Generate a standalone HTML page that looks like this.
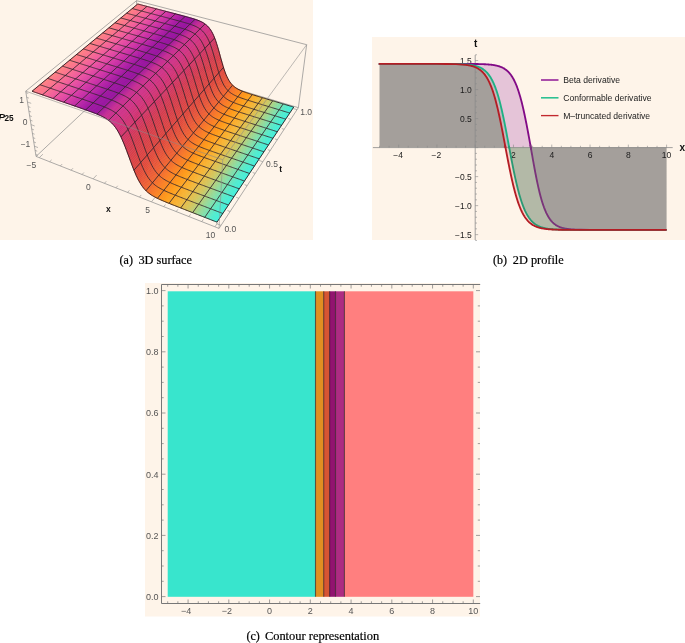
<!DOCTYPE html>
<html><head><meta charset="utf-8"><style>
html,body{margin:0;padding:0;background:#fff;width:685px;height:643px;overflow:hidden}
svg{display:block}
text{will-change:transform}
</style></head><body>
<svg width="685" height="643" viewBox="0 0 685 643">
<rect width="685" height="643" fill="#fff"/>
<rect x="0" y="0" width="313" height="240" fill="#fef4e9"/>
<line x1="36.06" y1="156.40" x2="138.78" y2="59.91" stroke="#8a8a8a" stroke-width="0.7" stroke-opacity="1"/>
<line x1="136.54" y1="0.68" x2="138.78" y2="59.91" stroke="#8a8a8a" stroke-width="0.7" stroke-opacity="1"/>
<line x1="138.78" y1="59.91" x2="298.36" y2="107.66" stroke="#8a8a8a" stroke-width="0.7" stroke-opacity="1"/>
<polygon points="32.05,91.23 32.60,91.42 138.22,4.12 137.73,4.00" fill="#ff7f80" stroke="#ff7f80" stroke-width="0.5"/>
<polygon points="32.60,91.42 33.15,91.61 138.71,4.25 138.22,4.12" fill="#ff7f81" stroke="#ff7f81" stroke-width="0.5"/>
<polygon points="33.15,91.61 33.70,91.80 139.21,4.38 138.71,4.25" fill="#fe7e82" stroke="#fe7e82" stroke-width="0.5"/>
<polygon points="33.70,91.80 34.26,91.99 139.70,4.51 139.21,4.38" fill="#fe7c83" stroke="#fe7c83" stroke-width="0.5"/>
<polygon points="34.26,91.99 34.81,92.18 140.19,4.64 139.70,4.51" fill="#fe7c83" stroke="#fe7c83" stroke-width="0.5"/>
<polygon points="34.81,92.18 35.36,92.37 140.68,4.77 140.19,4.64" fill="#fd7a84" stroke="#fd7a84" stroke-width="0.5"/>
<polygon points="35.36,92.37 35.91,92.57 141.17,4.89 140.68,4.77" fill="#fd7a85" stroke="#fd7a85" stroke-width="0.5"/>
<polygon points="35.91,92.57 36.47,92.76 141.66,5.02 141.17,4.89" fill="#fd7886" stroke="#fd7886" stroke-width="0.5"/>
<polygon points="36.47,92.76 37.02,92.95 142.16,5.15 141.66,5.02" fill="#fc7786" stroke="#fc7786" stroke-width="0.5"/>
<polygon points="37.02,92.95 37.58,93.14 142.65,5.28 142.16,5.15" fill="#fc7687" stroke="#fc7687" stroke-width="0.5"/>
<polygon points="37.58,93.14 38.13,93.33 143.14,5.41 142.65,5.28" fill="#fc7588" stroke="#fc7588" stroke-width="0.5"/>
<polygon points="38.13,93.33 38.69,93.53 143.64,5.54 143.14,5.41" fill="#fb7589" stroke="#fb7589" stroke-width="0.5"/>
<polygon points="38.69,93.53 39.24,93.72 144.13,5.67 143.64,5.54" fill="#fb7489" stroke="#fb7489" stroke-width="0.5"/>
<polygon points="39.24,93.72 39.80,93.91 144.63,5.79 144.13,5.67" fill="#fb728a" stroke="#fb728a" stroke-width="0.5"/>
<polygon points="39.80,93.91 40.36,94.10 145.12,5.92 144.63,5.79" fill="#fa728b" stroke="#fa728b" stroke-width="0.5"/>
<polygon points="40.36,94.10 40.92,94.30 145.62,6.05 145.12,5.92" fill="#fa708c" stroke="#fa708c" stroke-width="0.5"/>
<polygon points="40.92,94.30 41.47,94.49 146.11,6.18 145.62,6.05" fill="#fa6f8c" stroke="#fa6f8c" stroke-width="0.5"/>
<polygon points="41.47,94.49 42.03,94.68 146.61,6.31 146.11,6.18" fill="#f96e8d" stroke="#f96e8d" stroke-width="0.5"/>
<polygon points="42.03,94.68 42.59,94.88 147.11,6.44 146.61,6.31" fill="#f96d8e" stroke="#f96d8e" stroke-width="0.5"/>
<polygon points="42.59,94.88 43.15,95.07 147.60,6.57 147.11,6.44" fill="#f86c8f" stroke="#f86c8f" stroke-width="0.5"/>
<polygon points="43.15,95.07 43.71,95.27 148.10,6.70 147.60,6.57" fill="#f76a90" stroke="#f76a90" stroke-width="0.5"/>
<polygon points="43.71,95.27 44.27,95.46 148.60,6.83 148.10,6.70" fill="#f76991" stroke="#f76991" stroke-width="0.5"/>
<polygon points="44.27,95.46 44.83,95.65 149.09,6.96 148.60,6.83" fill="#f66891" stroke="#f66891" stroke-width="0.5"/>
<polygon points="44.83,95.65 45.39,95.85 149.59,7.09 149.09,6.96" fill="#f66792" stroke="#f66792" stroke-width="0.5"/>
<polygon points="45.39,95.85 45.95,96.04 150.09,7.22 149.59,7.09" fill="#f56593" stroke="#f56593" stroke-width="0.5"/>
<polygon points="45.95,96.04 46.52,96.24 150.59,7.35 150.09,7.22" fill="#f46494" stroke="#f46494" stroke-width="0.5"/>
<polygon points="146.30,190.99 146.91,191.57 233.31,85.88 232.80,85.41" fill="#f26729" stroke="#f26729" stroke-width="0.5"/>
<polygon points="145.68,190.38 146.30,190.99 232.80,85.41 232.29,84.91" fill="#f1652a" stroke="#f1652a" stroke-width="0.5"/>
<polygon points="146.91,191.57 147.53,192.11 233.82,86.33 233.31,85.88" fill="#f26928" stroke="#f26928" stroke-width="0.5"/>
<polygon points="145.06,189.73 145.68,190.38 232.29,84.91 231.79,84.37" fill="#f0632b" stroke="#f0632b" stroke-width="0.5"/>
<polygon points="147.53,192.11 148.14,192.63 234.33,86.75 233.82,86.33" fill="#f36b27" stroke="#f36b27" stroke-width="0.5"/>
<polygon points="144.44,189.05 145.06,189.73 231.79,84.37 231.29,83.79" fill="#ef612c" stroke="#ef612c" stroke-width="0.5"/>
<polygon points="46.52,96.24 47.08,96.43 151.09,7.48 150.59,7.35" fill="#f46395" stroke="#f46395" stroke-width="0.5"/>
<polygon points="148.14,192.63 148.75,193.12 234.84,87.14 234.33,86.75" fill="#f46d26" stroke="#f46d26" stroke-width="0.5"/>
<polygon points="143.82,188.32 144.44,189.05 231.29,83.79 230.79,83.18" fill="#ee5f2d" stroke="#ee5f2d" stroke-width="0.5"/>
<polygon points="148.75,193.12 149.37,193.59 235.35,87.52 234.84,87.14" fill="#f56f25" stroke="#f56f25" stroke-width="0.5"/>
<polygon points="149.37,193.59 149.98,194.04 235.87,87.87 235.35,87.52" fill="#f67124" stroke="#f67124" stroke-width="0.5"/>
<polygon points="143.20,187.55 143.82,188.32 230.79,83.18 230.29,82.53" fill="#ed5d2e" stroke="#ed5d2e" stroke-width="0.5"/>
<polygon points="47.08,96.43 47.64,96.63 151.59,7.61 151.09,7.48" fill="#f36296" stroke="#f36296" stroke-width="0.5"/>
<polygon points="149.98,194.04 150.59,194.46 236.39,88.21 235.87,87.87" fill="#f77323" stroke="#f77323" stroke-width="0.5"/>
<polygon points="142.57,186.74 143.20,187.55 230.29,82.53 229.79,81.83" fill="#ec5b2f" stroke="#ec5b2f" stroke-width="0.5"/>
<polygon points="150.59,194.46 151.20,194.87 236.91,88.53 236.39,88.21" fill="#f87522" stroke="#f87522" stroke-width="0.5"/>
<polygon points="47.64,96.63 48.21,96.82 152.09,7.74 151.59,7.61" fill="#f36096" stroke="#f36096" stroke-width="0.5"/>
<polygon points="141.95,185.87 142.57,186.74 229.79,81.83 229.30,81.09" fill="#eb5930" stroke="#eb5930" stroke-width="0.5"/>
<polygon points="151.20,194.87 151.81,195.27 237.42,88.83 236.91,88.53" fill="#f87722" stroke="#f87722" stroke-width="0.5"/>
<polygon points="151.81,195.27 152.42,195.64 237.95,89.12 237.42,88.83" fill="#f97921" stroke="#f97921" stroke-width="0.5"/>
<polygon points="141.32,184.94 141.95,185.87 229.30,81.09 228.81,80.29" fill="#ea5831" stroke="#ea5831" stroke-width="0.5"/>
<polygon points="48.21,96.82 48.77,97.02 152.59,7.87 152.09,7.74" fill="#f25f97" stroke="#f25f97" stroke-width="0.5"/>
<polygon points="152.42,195.64 153.04,196.01 238.47,89.40 237.95,89.12" fill="#f97a20" stroke="#f97a20" stroke-width="0.5"/>
<polygon points="153.04,196.01 153.65,196.36 238.99,89.67 238.47,89.40" fill="#f97c20" stroke="#f97c20" stroke-width="0.5"/>
<polygon points="140.68,183.96 141.32,184.94 228.81,80.29 228.32,79.45" fill="#e95632" stroke="#e95632" stroke-width="0.5"/>
<polygon points="48.77,97.02 49.33,97.21 153.09,8.00 152.59,7.87" fill="#f25e98" stroke="#f25e98" stroke-width="0.5"/>
<polygon points="153.65,196.36 154.26,196.70 239.51,89.92 238.99,89.67" fill="#fa7e1f" stroke="#fa7e1f" stroke-width="0.5"/>
<polygon points="49.33,97.21 49.90,97.41 153.59,8.13 153.09,8.00" fill="#f15d99" stroke="#f15d99" stroke-width="0.5"/>
<polygon points="140.05,182.92 140.68,183.96 228.32,79.45 227.83,78.54" fill="#e85433" stroke="#e85433" stroke-width="0.5"/>
<polygon points="154.26,196.70 154.87,197.04 240.04,90.17 239.51,89.92" fill="#fa7f1e" stroke="#fa7f1e" stroke-width="0.5"/>
<polygon points="49.90,97.41 50.46,97.60 154.09,8.26 153.59,8.13" fill="#f05b9a" stroke="#f05b9a" stroke-width="0.5"/>
<polygon points="154.87,197.04 155.48,197.36 240.56,90.41 240.04,90.17" fill="#fa811d" stroke="#fa811d" stroke-width="0.5"/>
<polygon points="139.41,181.82 140.05,182.92 227.83,78.54 227.35,77.59" fill="#e75234" stroke="#e75234" stroke-width="0.5"/>
<polygon points="155.48,197.36 156.09,197.67 241.09,90.64 240.56,90.41" fill="#fb831d" stroke="#fb831d" stroke-width="0.5"/>
<polygon points="50.46,97.60 51.03,97.80 154.59,8.39 154.09,8.26" fill="#f05a9b" stroke="#f05a9b" stroke-width="0.5"/>
<polygon points="156.09,197.67 156.70,197.98 241.62,90.86 241.09,90.64" fill="#fb841c" stroke="#fb841c" stroke-width="0.5"/>
<polygon points="51.03,97.80 51.60,98.00 155.09,8.52 154.59,8.39" fill="#ef599b" stroke="#ef599b" stroke-width="0.5"/>
<polygon points="138.76,180.66 139.41,181.82 227.35,77.59 226.87,76.57" fill="#e65135" stroke="#e65135" stroke-width="0.5"/>
<polygon points="156.70,197.98 157.31,198.28 242.14,91.08 241.62,90.86" fill="#fb861b" stroke="#fb861b" stroke-width="0.5"/>
<polygon points="51.60,98.00 52.16,98.19 155.60,8.66 155.09,8.52" fill="#ef589c" stroke="#ef589c" stroke-width="0.5"/>
<polygon points="157.31,198.28 157.93,198.58 242.67,91.29 242.14,91.08" fill="#fc881b" stroke="#fc881b" stroke-width="0.5"/>
<polygon points="138.12,179.43 138.76,180.66 226.87,76.57 226.39,75.49" fill="#e44f36" stroke="#e44f36" stroke-width="0.5"/>
<polygon points="52.16,98.19 52.73,98.39 156.10,8.79 155.60,8.66" fill="#ee569d" stroke="#ee569d" stroke-width="0.5"/>
<polygon points="157.93,198.58 158.54,198.87 243.20,91.50 242.67,91.29" fill="#fc8a1a" stroke="#fc8a1a" stroke-width="0.5"/>
<polygon points="158.54,198.87 159.15,199.15 243.73,91.70 243.20,91.50" fill="#fc8b19" stroke="#fc8b19" stroke-width="0.5"/>
<polygon points="52.73,98.39 53.30,98.59 156.60,8.92 156.10,8.79" fill="#ed559e" stroke="#ed559e" stroke-width="0.5"/>
<polygon points="137.47,178.13 138.12,179.43 226.39,75.49 225.92,74.35" fill="#e34e37" stroke="#e34e37" stroke-width="0.5"/>
<polygon points="159.15,199.15 159.76,199.43 244.26,91.90 243.73,91.70" fill="#fd8d19" stroke="#fd8d19" stroke-width="0.5"/>
<polygon points="53.30,98.59 53.87,98.78 157.10,9.05 156.60,8.92" fill="#ed549f" stroke="#ed549f" stroke-width="0.5"/>
<polygon points="159.76,199.43 160.38,199.71 244.79,92.09 244.26,91.90" fill="#fd8f18" stroke="#fd8f18" stroke-width="0.5"/>
<polygon points="53.87,98.78 54.44,98.98 157.61,9.18 157.10,9.05" fill="#ec53a0" stroke="#ec53a0" stroke-width="0.5"/>
<polygon points="160.38,199.71 160.99,199.98 245.32,92.28 244.79,92.09" fill="#fd9017" stroke="#fd9017" stroke-width="0.5"/>
<polygon points="136.81,176.76 137.47,178.13 225.92,74.35 225.45,73.15" fill="#e24c38" stroke="#e24c38" stroke-width="0.5"/>
<polygon points="54.44,98.98 55.01,99.18 158.11,9.31 157.61,9.18" fill="#eb51a0" stroke="#eb51a0" stroke-width="0.5"/>
<polygon points="160.99,199.98 161.61,200.25 245.85,92.47 245.32,92.28" fill="#fe9216" stroke="#fe9216" stroke-width="0.5"/>
<polygon points="55.01,99.18 55.57,99.37 158.61,9.44 158.11,9.31" fill="#ea50a0" stroke="#ea50a0" stroke-width="0.5"/>
<polygon points="161.61,200.25 162.22,200.52 246.39,92.66 245.85,92.47" fill="#fe9416" stroke="#fe9416" stroke-width="0.5"/>
<polygon points="55.57,99.37 56.14,99.57 159.12,9.57 158.61,9.44" fill="#e94fa0" stroke="#e94fa0" stroke-width="0.5"/>
<polygon points="136.15,175.33 136.81,176.76 225.45,73.15 224.97,71.88" fill="#e14a3a" stroke="#e14a3a" stroke-width="0.5"/>
<polygon points="162.22,200.52 162.84,200.78 246.92,92.84 246.39,92.66" fill="#fe9515" stroke="#fe9515" stroke-width="0.5"/>
<polygon points="56.14,99.57 56.72,99.77 159.62,9.71 159.12,9.57" fill="#e84da1" stroke="#e84da1" stroke-width="0.5"/>
<polygon points="162.84,200.78 163.45,201.04 247.45,93.02 246.92,92.84" fill="#ff9714" stroke="#ff9714" stroke-width="0.5"/>
<polygon points="56.72,99.77 57.29,99.97 160.13,9.84 159.62,9.71" fill="#e74ca1" stroke="#e74ca1" stroke-width="0.5"/>
<polygon points="163.45,201.04 164.07,201.30 247.99,93.20 247.45,93.02" fill="#ff9915" stroke="#ff9915" stroke-width="0.5"/>
<polygon points="135.49,173.83 136.15,175.33 224.97,71.88 224.51,70.56" fill="#e0483a" stroke="#e0483a" stroke-width="0.5"/>
<polygon points="57.29,99.97 57.86,100.17 160.64,9.97 160.13,9.84" fill="#e54ba1" stroke="#e54ba1" stroke-width="0.5"/>
<polygon points="164.07,201.30 164.68,201.56 248.52,93.38 247.99,93.20" fill="#fe9a16" stroke="#fe9a16" stroke-width="0.5"/>
<polygon points="57.86,100.17 58.43,100.36 161.14,10.10 160.64,9.97" fill="#e44aa1" stroke="#e44aa1" stroke-width="0.5"/>
<polygon points="164.68,201.56 165.30,201.82 249.06,93.55 248.52,93.38" fill="#fe9c18" stroke="#fe9c18" stroke-width="0.5"/>
<polygon points="58.43,100.36 59.00,100.56 161.65,10.23 161.14,10.10" fill="#e348a1" stroke="#e348a1" stroke-width="0.5"/>
<polygon points="134.82,172.26 135.49,173.83 224.51,70.56 224.04,69.18" fill="#df473b" stroke="#df473b" stroke-width="0.5"/>
<polygon points="165.30,201.82 165.92,202.08 249.59,93.73 249.06,93.55" fill="#fe9d19" stroke="#fe9d19" stroke-width="0.5"/>
<polygon points="59.00,100.56 59.58,100.76 162.15,10.37 161.65,10.23" fill="#e247a2" stroke="#e247a2" stroke-width="0.5"/>
<polygon points="165.92,202.08 166.54,202.33 250.13,93.90 249.59,93.73" fill="#fd9e1b" stroke="#fd9e1b" stroke-width="0.5"/>
<polygon points="59.58,100.76 60.15,100.96 162.66,10.50 162.15,10.37" fill="#e146a2" stroke="#e146a2" stroke-width="0.5"/>
<polygon points="166.54,202.33 167.15,202.58 250.66,94.07 250.13,93.90" fill="#fda01c" stroke="#fda01c" stroke-width="0.5"/>
<polygon points="134.15,170.63 134.82,172.26 224.04,69.18 223.58,67.74" fill="#de463d" stroke="#de463d" stroke-width="0.5"/>
<polygon points="60.15,100.96 60.72,101.16 163.17,10.63 162.66,10.50" fill="#df44a2" stroke="#df44a2" stroke-width="0.5"/>
<polygon points="167.15,202.58 167.77,202.83 251.20,94.25 250.66,94.07" fill="#fca11e" stroke="#fca11e" stroke-width="0.5"/>
<polygon points="167.77,202.83 168.39,203.09 251.74,94.42 251.20,94.25" fill="#fca31f" stroke="#fca31f" stroke-width="0.5"/>
<polygon points="60.72,101.16 61.30,101.36 163.68,10.76 163.17,10.63" fill="#de43a2" stroke="#de43a2" stroke-width="0.5"/>
<polygon points="168.39,203.09 169.01,203.34 252.28,94.59 251.74,94.42" fill="#fca421" stroke="#fca421" stroke-width="0.5"/>
<polygon points="61.30,101.36 61.87,101.56 164.18,10.90 163.68,10.76" fill="#dd42a2" stroke="#dd42a2" stroke-width="0.5"/>
<polygon points="133.48,168.95 134.15,170.63 223.58,67.74 223.11,66.25" fill="#dc453e" stroke="#dc453e" stroke-width="0.5"/>
<polygon points="169.01,203.34 169.63,203.59 252.81,94.75 252.28,94.59" fill="#fba522" stroke="#fba522" stroke-width="0.5"/>
<polygon points="61.87,101.56 62.45,101.76 164.69,11.03 164.18,10.90" fill="#dc40a3" stroke="#dc40a3" stroke-width="0.5"/>
<polygon points="169.63,203.59 170.25,203.84 253.35,94.92 252.81,94.75" fill="#fba724" stroke="#fba724" stroke-width="0.5"/>
<polygon points="62.45,101.76 63.02,101.95 165.20,11.16 164.69,11.03" fill="#db3fa3" stroke="#db3fa3" stroke-width="0.5"/>
<polygon points="170.25,203.84 170.88,204.08 253.89,95.09 253.35,94.92" fill="#faa825" stroke="#faa825" stroke-width="0.5"/>
<polygon points="63.02,101.95 63.60,102.15 165.71,11.29 165.20,11.16" fill="#da3ea3" stroke="#da3ea3" stroke-width="0.5"/>
<polygon points="132.80,167.21 133.48,168.95 223.11,66.25 222.65,64.71" fill="#dc4440" stroke="#dc4440" stroke-width="0.5"/>
<polygon points="170.88,204.08 171.50,204.33 254.43,95.26 253.89,95.09" fill="#faaa27" stroke="#faaa27" stroke-width="0.5"/>
<polygon points="63.60,102.15 64.18,102.35 166.22,11.43 165.71,11.29" fill="#d83ca3" stroke="#d83ca3" stroke-width="0.5"/>
<polygon points="171.50,204.33 172.12,204.58 254.97,95.42 254.43,95.26" fill="#faab28" stroke="#faab28" stroke-width="0.5"/>
<polygon points="64.18,102.35 64.75,102.55 166.73,11.56 166.22,11.43" fill="#d73ba3" stroke="#d73ba3" stroke-width="0.5"/>
<polygon points="172.12,204.58 172.74,204.83 255.51,95.59 254.97,95.42" fill="#f9ac2a" stroke="#f9ac2a" stroke-width="0.5"/>
<polygon points="64.75,102.55 65.33,102.75 167.24,11.69 166.73,11.56" fill="#d63aa4" stroke="#d63aa4" stroke-width="0.5"/>
<polygon points="172.74,204.83 173.37,205.08 256.05,95.76 255.51,95.59" fill="#f9ae2b" stroke="#f9ae2b" stroke-width="0.5"/>
<polygon points="65.33,102.75 65.91,102.96 167.75,11.83 167.24,11.69" fill="#d538a4" stroke="#d538a4" stroke-width="0.5"/>
<polygon points="132.11,165.42 132.80,167.21 222.65,64.71 222.19,63.12" fill="#da4241" stroke="#da4241" stroke-width="0.5"/>
<polygon points="173.37,205.08 173.99,205.32 256.59,95.92 256.05,95.76" fill="#f8af2d" stroke="#f8af2d" stroke-width="0.5"/>
<polygon points="65.91,102.96 66.49,103.16 168.26,11.96 167.75,11.83" fill="#d437a4" stroke="#d437a4" stroke-width="0.5"/>
<polygon points="173.99,205.32 174.61,205.57 257.13,96.09 256.59,95.92" fill="#f8b12e" stroke="#f8b12e" stroke-width="0.5"/>
<polygon points="66.49,103.16 67.07,103.36 168.77,12.09 168.26,11.96" fill="#d236a4" stroke="#d236a4" stroke-width="0.5"/>
<polygon points="174.61,205.57 175.24,205.82 257.68,96.25 257.13,96.09" fill="#f8b230" stroke="#f8b230" stroke-width="0.5"/>
<polygon points="67.07,103.36 67.65,103.56 169.28,12.23 168.77,12.09" fill="#d135a4" stroke="#d135a4" stroke-width="0.5"/>
<polygon points="131.42,163.60 132.11,165.42 222.19,63.12 221.73,61.50" fill="#da4243" stroke="#da4243" stroke-width="0.5"/>
<polygon points="175.24,205.82 175.87,206.06 258.22,96.42 257.68,96.25" fill="#f7b331" stroke="#f7b331" stroke-width="0.5"/>
<polygon points="67.65,103.56 68.23,103.76 169.80,12.36 169.28,12.23" fill="#d033a5" stroke="#d033a5" stroke-width="0.5"/>
<polygon points="175.87,206.06 176.49,206.31 258.76,96.58 258.22,96.42" fill="#f6b433" stroke="#f6b433" stroke-width="0.5"/>
<polygon points="68.23,103.76 68.81,103.96 170.31,12.49 169.80,12.36" fill="#cf32a5" stroke="#cf32a5" stroke-width="0.5"/>
<polygon points="176.49,206.31 177.12,206.56 259.30,96.75 258.76,96.58" fill="#f4b535" stroke="#f4b535" stroke-width="0.5"/>
<polygon points="68.81,103.96 69.39,104.16 170.82,12.63 170.31,12.49" fill="#ce31a5" stroke="#ce31a5" stroke-width="0.5"/>
<polygon points="130.73,161.74 131.42,163.60 221.73,61.50 221.27,59.85" fill="#d84144" stroke="#d84144" stroke-width="0.5"/>
<polygon points="177.12,206.56 177.74,206.80 259.85,96.91 259.30,96.75" fill="#f2b638" stroke="#f2b638" stroke-width="0.5"/>
<polygon points="69.39,104.16 69.97,104.36 171.33,12.76 170.82,12.63" fill="#cc2fa5" stroke="#cc2fa5" stroke-width="0.5"/>
<polygon points="177.74,206.80 178.37,207.05 260.39,97.08 259.85,96.91" fill="#f0b73a" stroke="#f0b73a" stroke-width="0.5"/>
<polygon points="69.97,104.36 70.56,104.57 171.85,12.90 171.33,12.76" fill="#ca2ea5" stroke="#ca2ea5" stroke-width="0.5"/>
<polygon points="178.37,207.05 179.00,207.30 260.94,97.24 260.39,97.08" fill="#eeb83c" stroke="#eeb83c" stroke-width="0.5"/>
<polygon points="70.56,104.57 71.14,104.77 172.36,13.03 171.85,12.90" fill="#c92da5" stroke="#c92da5" stroke-width="0.5"/>
<polygon points="179.00,207.30 179.63,207.54 261.48,97.41 260.94,97.24" fill="#ecb93e" stroke="#ecb93e" stroke-width="0.5"/>
<polygon points="71.14,104.77 71.72,104.97 172.87,13.17 172.36,13.03" fill="#c72ca5" stroke="#c72ca5" stroke-width="0.5"/>
<polygon points="130.04,159.85 130.73,161.74 221.27,59.85 220.81,58.18" fill="#d84046" stroke="#d84046" stroke-width="0.5"/>
<polygon points="179.63,207.54 180.26,207.79 262.02,97.57 261.48,97.41" fill="#eaba41" stroke="#eaba41" stroke-width="0.5"/>
<polygon points="71.72,104.97 72.31,105.17 173.39,13.30 172.87,13.17" fill="#c52ba5" stroke="#c52ba5" stroke-width="0.5"/>
<polygon points="180.26,207.79 180.89,208.04 262.57,97.74 262.02,97.57" fill="#e8bb43" stroke="#e8bb43" stroke-width="0.5"/>
<polygon points="72.31,105.17 72.89,105.38 173.90,13.44 173.39,13.30" fill="#c42aa5" stroke="#c42aa5" stroke-width="0.5"/>
<polygon points="180.89,208.04 181.52,208.28 263.12,97.90 262.57,97.74" fill="#e6bc45" stroke="#e6bc45" stroke-width="0.5"/>
<polygon points="72.89,105.38 73.47,105.58 174.42,13.57 173.90,13.44" fill="#c229a5" stroke="#c229a5" stroke-width="0.5"/>
<polygon points="129.34,157.95 130.04,159.85 220.81,58.18 220.35,56.49" fill="#d63e47" stroke="#d63e47" stroke-width="0.5"/>
<polygon points="181.52,208.28 182.15,208.53 263.66,98.06 263.12,97.90" fill="#e4bd47" stroke="#e4bd47" stroke-width="0.5"/>
<polygon points="73.47,105.58 74.06,105.78 174.93,13.71 174.42,13.57" fill="#c028a5" stroke="#c028a5" stroke-width="0.5"/>
<polygon points="182.15,208.53 182.78,208.78 264.21,98.23 263.66,98.06" fill="#e3bd4a" stroke="#e3bd4a" stroke-width="0.5"/>
<polygon points="74.06,105.78 74.65,105.99 175.45,13.84 174.93,13.71" fill="#bf26a5" stroke="#bf26a5" stroke-width="0.5"/>
<polygon points="182.78,208.78 183.41,209.02 264.75,98.39 264.21,98.23" fill="#e1be4c" stroke="#e1be4c" stroke-width="0.5"/>
<polygon points="74.65,105.99 75.23,106.19 175.97,13.98 175.45,13.84" fill="#bd25a5" stroke="#bd25a5" stroke-width="0.5"/>
<polygon points="183.41,209.02 184.04,209.27 265.30,98.56 264.75,98.39" fill="#dfbf4e" stroke="#dfbf4e" stroke-width="0.5"/>
<polygon points="75.23,106.19 75.82,106.39 176.48,14.11 175.97,13.98" fill="#bb24a5" stroke="#bb24a5" stroke-width="0.5"/>
<polygon points="128.64,156.04 129.34,157.95 220.35,56.49 219.89,54.80" fill="#d63e49" stroke="#d63e49" stroke-width="0.5"/>
<polygon points="184.04,209.27 184.68,209.52 265.85,98.72 265.30,98.56" fill="#ddc050" stroke="#ddc050" stroke-width="0.5"/>
<polygon points="75.82,106.39 76.41,106.60 177.00,14.25 176.48,14.11" fill="#ba23a5" stroke="#ba23a5" stroke-width="0.5"/>
<polygon points="184.68,209.52 185.31,209.77 266.40,98.89 265.85,98.72" fill="#dbc153" stroke="#dbc153" stroke-width="0.5"/>
<polygon points="76.41,106.60 76.99,106.80 177.52,14.38 177.00,14.25" fill="#b822a5" stroke="#b822a5" stroke-width="0.5"/>
<polygon points="185.31,209.77 185.95,210.02 266.95,99.05 266.40,98.89" fill="#d9c255" stroke="#d9c255" stroke-width="0.5"/>
<polygon points="76.99,106.80 77.58,107.01 178.03,14.52 177.52,14.38" fill="#b621a5" stroke="#b621a5" stroke-width="0.5"/>
<polygon points="127.94,154.13 128.64,156.04 219.89,54.80 219.42,53.11" fill="#d43d4a" stroke="#d43d4a" stroke-width="0.5"/>
<polygon points="185.95,210.02 186.58,210.26 267.50,99.22 266.95,99.05" fill="#d7c357" stroke="#d7c357" stroke-width="0.5"/>
<polygon points="77.58,107.01 78.17,107.21 178.55,14.66 178.03,14.52" fill="#b520a5" stroke="#b520a5" stroke-width="0.5"/>
<polygon points="186.58,210.26 187.21,210.51 268.04,99.38 267.50,99.22" fill="#d5c459" stroke="#d5c459" stroke-width="0.5"/>
<polygon points="78.17,107.21 78.76,107.42 179.07,14.79 178.55,14.66" fill="#b31fa5" stroke="#b31fa5" stroke-width="0.5"/>
<polygon points="187.21,210.51 187.85,210.76 268.59,99.55 268.04,99.38" fill="#d3c55c" stroke="#d3c55c" stroke-width="0.5"/>
<polygon points="78.76,107.42 79.35,107.62 179.59,14.93 179.07,14.79" fill="#b11da5" stroke="#b11da5" stroke-width="0.5"/>
<polygon points="187.85,210.76 188.49,211.01 269.14,99.71 268.59,99.55" fill="#d1c65e" stroke="#d1c65e" stroke-width="0.5"/>
<polygon points="79.35,107.62 79.94,107.83 180.11,15.07 179.59,14.93" fill="#af1ca4" stroke="#af1ca4" stroke-width="0.5"/>
<polygon points="127.24,152.23 127.94,154.13 219.42,53.11 218.96,51.44" fill="#d43c4c" stroke="#d43c4c" stroke-width="0.5"/>
<polygon points="188.49,211.01 189.12,211.26 269.69,99.88 269.14,99.71" fill="#cec761" stroke="#cec761" stroke-width="0.5"/>
<polygon points="79.94,107.83 80.53,108.04 180.63,15.20 180.11,15.07" fill="#ad1ca4" stroke="#ad1ca4" stroke-width="0.5"/>
<polygon points="189.12,211.26 189.76,211.51 270.24,100.04 269.69,99.88" fill="#cac864" stroke="#cac864" stroke-width="0.5"/>
<polygon points="80.53,108.04 81.12,108.24 181.15,15.34 180.63,15.20" fill="#ac1aa4" stroke="#ac1aa4" stroke-width="0.5"/>
<polygon points="189.76,211.51 190.40,211.75 270.80,100.21 270.24,100.04" fill="#c7c968" stroke="#c7c968" stroke-width="0.5"/>
<polygon points="81.12,108.24 81.71,108.45 181.67,15.48 181.15,15.34" fill="#aa19a3" stroke="#aa19a3" stroke-width="0.5"/>
<polygon points="126.54,150.35 127.24,152.23 218.96,51.44 218.49,49.78" fill="#d23b4d" stroke="#d23b4d" stroke-width="0.5"/>
<polygon points="190.40,211.75 191.04,212.00 271.35,100.37 270.80,100.21" fill="#c3ca6c" stroke="#c3ca6c" stroke-width="0.5"/>
<polygon points="81.71,108.45 82.31,108.66 182.19,15.62 181.67,15.48" fill="#a818a3" stroke="#a818a3" stroke-width="0.5"/>
<polygon points="191.04,212.00 191.68,212.25 271.90,100.54 271.35,100.37" fill="#bfcc6f" stroke="#bfcc6f" stroke-width="0.5"/>
<polygon points="82.31,108.66 82.90,108.87 182.71,15.76 182.19,15.62" fill="#a617a2" stroke="#a617a2" stroke-width="0.5"/>
<polygon points="191.68,212.25 192.31,212.50 272.45,100.71 271.90,100.54" fill="#bbcd73" stroke="#bbcd73" stroke-width="0.5"/>
<polygon points="82.90,108.87 83.49,109.08 183.23,15.90 182.71,15.76" fill="#a416a2" stroke="#a416a2" stroke-width="0.5"/>
<polygon points="192.31,212.50 192.95,212.75 273.00,100.87 272.45,100.71" fill="#b7ce76" stroke="#b7ce76" stroke-width="0.5"/>
<polygon points="83.49,109.08 84.09,109.29 183.75,16.04 183.23,15.90" fill="#a216a1" stroke="#a216a1" stroke-width="0.5"/>
<polygon points="125.84,148.50 126.54,150.35 218.49,49.78 218.02,48.14" fill="#d23a50" stroke="#d23a50" stroke-width="0.5"/>
<polygon points="192.95,212.75 193.60,213.00 273.56,101.04 273.00,100.87" fill="#b4cf7a" stroke="#b4cf7a" stroke-width="0.5"/>
<polygon points="84.09,109.29 84.68,109.50 184.27,16.18 183.75,16.04" fill="#a114a1" stroke="#a114a1" stroke-width="0.5"/>
<polygon points="193.60,213.00 194.24,213.25 274.11,101.20 273.56,101.04" fill="#b0d07e" stroke="#b0d07e" stroke-width="0.5"/>
<polygon points="84.68,109.50 85.28,109.71 184.79,16.32 184.27,16.18" fill="#9f13a1" stroke="#9f13a1" stroke-width="0.5"/>
<polygon points="194.24,213.25 194.88,213.50 274.66,101.37 274.11,101.20" fill="#acd281" stroke="#acd281" stroke-width="0.5"/>
<polygon points="85.28,109.71 85.87,109.92 185.32,16.46 184.79,16.32" fill="#9d12a0" stroke="#9d12a0" stroke-width="0.5"/>
<polygon points="125.13,146.69 125.84,148.50 218.02,48.14 217.55,46.55" fill="#d23953" stroke="#d23953" stroke-width="0.5"/>
<polygon points="194.88,213.50 195.52,213.75 275.22,101.54 274.66,101.37" fill="#a8d385" stroke="#a8d385" stroke-width="0.5"/>
<polygon points="85.87,109.92 86.47,110.13 185.84,16.60 185.32,16.46" fill="#9c12a0" stroke="#9c12a0" stroke-width="0.5"/>
<polygon points="195.52,213.75 196.16,214.00 275.77,101.70 275.22,101.54" fill="#a5d489" stroke="#a5d489" stroke-width="0.5"/>
<polygon points="86.47,110.13 87.07,110.35 186.36,16.74 185.84,16.60" fill="#9b12a0" stroke="#9b12a0" stroke-width="0.5"/>
<polygon points="196.16,214.00 196.81,214.26 276.33,101.87 275.77,101.70" fill="#a1d58c" stroke="#a1d58c" stroke-width="0.5"/>
<polygon points="87.07,110.35 87.66,110.56 186.89,16.89 186.36,16.74" fill="#9b11a0" stroke="#9b11a0" stroke-width="0.5"/>
<polygon points="124.43,144.92 125.13,146.69 217.55,46.55 217.07,44.99" fill="#d23856" stroke="#d23856" stroke-width="0.5"/>
<polygon points="196.81,214.26 197.45,214.51 276.88,102.03 276.33,101.87" fill="#9dd790" stroke="#9dd790" stroke-width="0.5"/>
<polygon points="87.66,110.56 88.26,110.78 187.41,17.03 186.89,16.89" fill="#9a119f" stroke="#9a119f" stroke-width="0.5"/>
<polygon points="197.45,214.51 198.09,214.76 277.44,102.20 276.88,102.03" fill="#99d893" stroke="#99d893" stroke-width="0.5"/>
<polygon points="88.26,110.78 88.86,110.99 187.94,17.17 187.41,17.03" fill="#9a119f" stroke="#9a119f" stroke-width="0.5"/>
<polygon points="198.09,214.76 198.74,215.01 278.00,102.37 277.44,102.20" fill="#95d997" stroke="#95d997" stroke-width="0.5"/>
<polygon points="88.86,110.99 89.46,111.21 188.46,17.32 187.94,17.17" fill="#99119f" stroke="#99119f" stroke-width="0.5"/>
<polygon points="123.73,143.20 124.43,144.92 217.07,44.99 216.59,43.48" fill="#d13659" stroke="#d13659" stroke-width="0.5"/>
<polygon points="198.74,215.01 199.38,215.26 278.55,102.53 278.00,102.37" fill="#92da9b" stroke="#92da9b" stroke-width="0.5"/>
<polygon points="89.46,111.21 90.06,111.43 188.99,17.47 188.46,17.32" fill="#99109f" stroke="#99109f" stroke-width="0.5"/>
<polygon points="90.06,111.43 90.66,111.65 189.51,17.62 188.99,17.47" fill="#98109f" stroke="#98109f" stroke-width="0.5"/>
<polygon points="199.38,215.26 200.03,215.51 279.11,102.70 278.55,102.53" fill="#8edb9e" stroke="#8edb9e" stroke-width="0.5"/>
<polygon points="90.66,111.65 91.26,111.87 190.04,17.77 189.51,17.62" fill="#98109e" stroke="#98109e" stroke-width="0.5"/>
<polygon points="200.03,215.51 200.68,215.77 279.67,102.87 279.11,102.70" fill="#8adca1" stroke="#8adca1" stroke-width="0.5"/>
<polygon points="123.04,141.54 123.73,143.20 216.59,43.48 216.11,42.02" fill="#d1365c" stroke="#d1365c" stroke-width="0.5"/>
<polygon points="91.26,111.87 91.86,112.09 190.56,17.92 190.04,17.77" fill="#97109e" stroke="#97109e" stroke-width="0.5"/>
<polygon points="200.68,215.77 201.32,216.02 280.22,103.04 279.67,102.87" fill="#86dda4" stroke="#86dda4" stroke-width="0.5"/>
<polygon points="91.86,112.09 92.46,112.32 191.09,18.07 190.56,17.92" fill="#970f9e" stroke="#970f9e" stroke-width="0.5"/>
<polygon points="201.32,216.02 201.97,216.27 280.78,103.20 280.22,103.04" fill="#83dea7" stroke="#83dea7" stroke-width="0.5"/>
<polygon points="92.46,112.32 93.07,112.55 191.62,18.23 191.09,18.07" fill="#960f9e" stroke="#960f9e" stroke-width="0.5"/>
<polygon points="201.97,216.27 202.62,216.52 281.34,103.37 280.78,103.20" fill="#7fdfaa" stroke="#7fdfaa" stroke-width="0.5"/>
<polygon points="122.34,139.94 123.04,141.54 216.11,42.02 215.63,40.62" fill="#d13560" stroke="#d13560" stroke-width="0.5"/>
<polygon points="93.07,112.55 93.67,112.78 192.14,18.38 191.62,18.23" fill="#960f9e" stroke="#960f9e" stroke-width="0.5"/>
<polygon points="202.62,216.52 203.27,216.78 281.90,103.54 281.34,103.37" fill="#7be0ad" stroke="#7be0ad" stroke-width="0.5"/>
<polygon points="93.67,112.78 94.27,113.01 192.67,18.54 192.14,18.38" fill="#950f9d" stroke="#950f9d" stroke-width="0.5"/>
<polygon points="203.27,216.78 203.92,217.03 282.46,103.71 281.90,103.54" fill="#77e1af" stroke="#77e1af" stroke-width="0.5"/>
<polygon points="121.65,138.40 122.34,139.94 215.63,40.62 215.14,39.28" fill="#d13463" stroke="#d13463" stroke-width="0.5"/>
<polygon points="94.27,113.01 94.88,113.24 193.20,18.70 192.67,18.54" fill="#950e9d" stroke="#950e9d" stroke-width="0.5"/>
<polygon points="203.92,217.03 204.57,217.28 283.02,103.87 282.46,103.71" fill="#74e2b2" stroke="#74e2b2" stroke-width="0.5"/>
<polygon points="94.88,113.24 95.49,113.48 193.73,18.87 193.20,18.70" fill="#940e9d" stroke="#940e9d" stroke-width="0.5"/>
<polygon points="204.57,217.28 205.22,217.54 283.58,104.04 283.02,103.87" fill="#70e3b5" stroke="#70e3b5" stroke-width="0.5"/>
<polygon points="95.49,113.48 96.09,113.72 194.25,19.04 193.73,18.87" fill="#960f9d" stroke="#960f9d" stroke-width="0.5"/>
<polygon points="120.96,136.93 121.65,138.40 215.14,39.28 214.65,37.99" fill="#d03366" stroke="#d03366" stroke-width="0.5"/>
<polygon points="205.22,217.54 205.87,217.79 284.14,104.21 283.58,104.04" fill="#6ce4b8" stroke="#6ce4b8" stroke-width="0.5"/>
<polygon points="96.09,113.72 96.70,113.97 194.78,19.21 194.25,19.04" fill="#99119c" stroke="#99119c" stroke-width="0.5"/>
<polygon points="205.87,217.79 206.52,218.05 284.70,104.38 284.14,104.21" fill="#68e5bb" stroke="#68e5bb" stroke-width="0.5"/>
<polygon points="96.70,113.97 97.31,114.22 195.31,19.38 194.78,19.21" fill="#9d139b" stroke="#9d139b" stroke-width="0.5"/>
<polygon points="206.52,218.05 207.17,218.30 285.26,104.55 284.70,104.38" fill="#65e6be" stroke="#65e6be" stroke-width="0.5"/>
<polygon points="120.27,135.52 120.96,136.93 214.65,37.99 214.15,36.77" fill="#d03269" stroke="#d03269" stroke-width="0.5"/>
<polygon points="97.31,114.22 97.92,114.47 195.84,19.56 195.31,19.38" fill="#a0159a" stroke="#a0159a" stroke-width="0.5"/>
<polygon points="207.17,218.30 207.83,218.55 285.82,104.71 285.26,104.55" fill="#61e7c0" stroke="#61e7c0" stroke-width="0.5"/>
<polygon points="97.92,114.47 98.53,114.73 196.37,19.74 195.84,19.56" fill="#a31699" stroke="#a31699" stroke-width="0.5"/>
<polygon points="98.53,114.73 99.14,115.00 196.90,19.93 196.37,19.74" fill="#a71898" stroke="#a71898" stroke-width="0.5"/>
<polygon points="207.83,218.55 208.48,218.81 286.38,104.88 285.82,104.71" fill="#5de8c3" stroke="#5de8c3" stroke-width="0.5"/>
<polygon points="119.58,134.19 120.27,135.52 214.15,36.77 213.65,35.61" fill="#d0316c" stroke="#d0316c" stroke-width="0.5"/>
<polygon points="99.14,115.00 99.75,115.27 197.43,20.12 196.90,19.93" fill="#aa1a97" stroke="#aa1a97" stroke-width="0.5"/>
<polygon points="208.48,218.81 209.13,219.06 286.95,105.05 286.38,104.88" fill="#59e9c6" stroke="#59e9c6" stroke-width="0.5"/>
<polygon points="99.75,115.27 100.36,115.55 197.96,20.32 197.43,20.12" fill="#ae1c97" stroke="#ae1c97" stroke-width="0.5"/>
<polygon points="118.90,132.92 119.58,134.19 213.65,35.61 213.15,34.52" fill="#d0306f" stroke="#d0306f" stroke-width="0.5"/>
<polygon points="209.13,219.06 209.79,219.32 287.51,105.22 286.95,105.05" fill="#56eac9" stroke="#56eac9" stroke-width="0.5"/>
<polygon points="100.36,115.55 100.98,115.83 198.49,20.53 197.96,20.32" fill="#b11e96" stroke="#b11e96" stroke-width="0.5"/>
<polygon points="209.79,219.32 210.44,219.58 288.07,105.39 287.51,105.22" fill="#52ebcc" stroke="#52ebcc" stroke-width="0.5"/>
<polygon points="100.98,115.83 101.59,116.13 199.02,20.74 198.49,20.53" fill="#b52095" stroke="#b52095" stroke-width="0.5"/>
<polygon points="118.22,131.72 118.90,132.92 213.15,34.52 212.65,33.48" fill="#d02f71" stroke="#d02f71" stroke-width="0.5"/>
<polygon points="210.44,219.58 211.10,219.83 288.64,105.56 288.07,105.39" fill="#4febce" stroke="#4febce" stroke-width="0.5"/>
<polygon points="101.59,116.13 102.21,116.43 199.55,20.97 199.02,20.74" fill="#b82294" stroke="#b82294" stroke-width="0.5"/>
<polygon points="102.21,116.43 102.82,116.74 200.08,21.20 199.55,20.97" fill="#bb2393" stroke="#bb2393" stroke-width="0.5"/>
<polygon points="117.55,130.58 118.22,131.72 212.65,33.48 212.14,32.51" fill="#d02f73" stroke="#d02f73" stroke-width="0.5"/>
<polygon points="211.10,219.83 211.75,220.09 289.20,105.73 288.64,105.56" fill="#4deccf" stroke="#4deccf" stroke-width="0.5"/>
<polygon points="102.82,116.74 103.44,117.07 200.61,21.44 200.08,21.20" fill="#bf2592" stroke="#bf2592" stroke-width="0.5"/>
<polygon points="211.75,220.09 212.41,220.34 289.77,105.90 289.20,105.73" fill="#4cecd1" stroke="#4cecd1" stroke-width="0.5"/>
<polygon points="116.88,129.51 117.55,130.58 212.14,32.51 211.63,31.59" fill="#cf2f75" stroke="#cf2f75" stroke-width="0.5"/>
<polygon points="103.44,117.07 104.06,117.40 201.14,21.69 200.61,21.44" fill="#c22791" stroke="#c22791" stroke-width="0.5"/>
<polygon points="104.06,117.40 104.68,117.75 201.67,21.95 201.14,21.69" fill="#c42890" stroke="#c42890" stroke-width="0.5"/>
<polygon points="212.41,220.34 213.07,220.60 290.33,106.07 289.77,105.90" fill="#4aedd2" stroke="#4aedd2" stroke-width="0.5"/>
<polygon points="116.21,128.51 116.88,129.51 211.63,31.59 211.12,30.73" fill="#cf2e77" stroke="#cf2e77" stroke-width="0.5"/>
<polygon points="104.68,117.75 105.31,118.12 202.20,22.23 201.67,21.95" fill="#c5288f" stroke="#c5288f" stroke-width="0.5"/>
<polygon points="213.07,220.60 213.72,220.86 290.90,106.23 290.33,106.07" fill="#48edd4" stroke="#48edd4" stroke-width="0.5"/>
<polygon points="105.31,118.12 105.93,118.50 202.73,22.52 202.20,22.23" fill="#c6298e" stroke="#c6298e" stroke-width="0.5"/>
<polygon points="115.55,127.56 116.21,128.51 211.12,30.73 210.61,29.93" fill="#cf2e79" stroke="#cf2e79" stroke-width="0.5"/>
<polygon points="105.93,118.50 106.56,118.89 203.26,22.83 202.73,22.52" fill="#c6298d" stroke="#c6298d" stroke-width="0.5"/>
<polygon points="114.89,126.67 115.55,127.56 210.61,29.93 210.09,29.17" fill="#cf2d7b" stroke="#cf2d7b" stroke-width="0.5"/>
<polygon points="213.72,220.86 214.38,221.11 291.46,106.40 290.90,106.23" fill="#46eed5" stroke="#46eed5" stroke-width="0.5"/>
<polygon points="106.56,118.89 107.18,119.31 203.79,23.15 203.26,22.83" fill="#c7298c" stroke="#c7298c" stroke-width="0.5"/>
<polygon points="114.23,125.83 114.89,126.67 210.09,29.17 209.57,28.47" fill="#ce2d7d" stroke="#ce2d7d" stroke-width="0.5"/>
<polygon points="107.18,119.31 107.81,119.75 204.32,23.50 203.79,23.15" fill="#c82a8b" stroke="#c82a8b" stroke-width="0.5"/>
<polygon points="214.38,221.11 215.04,221.37 292.03,106.57 291.46,106.40" fill="#44eed7" stroke="#44eed7" stroke-width="0.5"/>
<polygon points="107.81,119.75 108.44,120.21 204.85,23.86 204.32,23.50" fill="#c92a8a" stroke="#c92a8a" stroke-width="0.5"/>
<polygon points="113.58,125.04 114.23,125.83 209.57,28.47 209.05,27.81" fill="#ce2d7f" stroke="#ce2d7f" stroke-width="0.5"/>
<polygon points="108.44,120.21 109.08,120.70 205.38,24.25 204.85,23.86" fill="#c92a89" stroke="#c92a89" stroke-width="0.5"/>
<polygon points="112.93,124.31 113.58,125.04 209.05,27.81 208.53,27.20" fill="#ce2c81" stroke="#ce2c81" stroke-width="0.5"/>
<polygon points="109.08,120.70 109.71,121.22 205.91,24.67 205.38,24.25" fill="#ca2a88" stroke="#ca2a88" stroke-width="0.5"/>
<polygon points="112.28,123.61 112.93,124.31 208.53,27.20 208.01,26.62" fill="#ce2c83" stroke="#ce2c83" stroke-width="0.5"/>
<polygon points="109.71,121.22 110.35,121.76 206.43,25.11 205.91,24.67" fill="#cb2b87" stroke="#cb2b87" stroke-width="0.5"/>
<polygon points="111.63,122.96 112.28,123.61 208.01,26.62 207.48,26.08" fill="#cd2c84" stroke="#cd2c84" stroke-width="0.5"/>
<polygon points="110.35,121.76 110.99,122.34 206.96,25.58 206.43,25.11" fill="#cc2b86" stroke="#cc2b86" stroke-width="0.5"/>
<polygon points="215.04,221.37 215.70,221.63 292.59,106.74 292.03,106.57" fill="#42efd8" stroke="#42efd8" stroke-width="0.5"/>
<polygon points="110.99,122.34 111.63,122.96 207.48,26.08 206.96,25.58" fill="#cc2b85" stroke="#cc2b85" stroke-width="0.5"/>
<polygon points="215.70,221.63 216.36,221.88 293.16,106.91 292.59,106.74" fill="#41efda" stroke="#41efda" stroke-width="0.5"/>
<polygon points="216.36,221.88 217.02,222.14 293.73,107.08 293.16,106.91" fill="#3ff0db" stroke="#3ff0db" stroke-width="0.5"/>
<line x1="42.45" y1="94.83" x2="146.98" y2="6.41" stroke="#33262c" stroke-width="0.95" stroke-opacity="0.9"/>
<line x1="53.01" y1="98.49" x2="156.35" y2="8.85" stroke="#33262c" stroke-width="0.95" stroke-opacity="0.9"/>
<line x1="63.74" y1="102.20" x2="165.84" y2="11.33" stroke="#33262c" stroke-width="0.95" stroke-opacity="0.9"/>
<line x1="74.65" y1="105.99" x2="175.45" y2="13.84" stroke="#33262c" stroke-width="0.95" stroke-opacity="0.9"/>
<line x1="85.72" y1="109.87" x2="185.19" y2="16.42" stroke="#33262c" stroke-width="0.95" stroke-opacity="0.9"/>
<line x1="97.00" y1="114.09" x2="195.05" y2="19.29" stroke="#33262c" stroke-width="0.95" stroke-opacity="0.9"/>
<line x1="108.60" y1="120.33" x2="204.98" y2="23.96" stroke="#33262c" stroke-width="0.95" stroke-opacity="0.9"/>
<line x1="120.96" y1="136.93" x2="214.65" y2="37.99" stroke="#33262c" stroke-width="0.95" stroke-opacity="0.9"/>
<line x1="133.98" y1="170.22" x2="223.46" y2="67.37" stroke="#33262c" stroke-width="0.95" stroke-opacity="0.9"/>
<line x1="145.99" y1="190.69" x2="232.54" y2="85.16" stroke="#33262c" stroke-width="0.95" stroke-opacity="0.9"/>
<line x1="157.47" y1="198.36" x2="242.28" y2="91.13" stroke="#33262c" stroke-width="0.95" stroke-opacity="0.9"/>
<line x1="169.01" y1="203.34" x2="252.28" y2="94.59" stroke="#33262c" stroke-width="0.95" stroke-opacity="0.9"/>
<line x1="180.73" y1="207.97" x2="262.43" y2="97.69" stroke="#33262c" stroke-width="0.95" stroke-opacity="0.9"/>
<line x1="192.63" y1="212.63" x2="272.73" y2="100.79" stroke="#33262c" stroke-width="0.95" stroke-opacity="0.9"/>
<line x1="204.73" y1="217.35" x2="283.16" y2="103.92" stroke="#33262c" stroke-width="0.95" stroke-opacity="0.9"/>
<polyline points="39.95,84.71 41.04,85.08 42.14,85.45 43.24,85.82 44.33,86.20 45.44,86.57 46.54,86.95 47.64,87.32 48.75,87.70 49.86,88.07 50.97,88.45 52.08,88.83 53.19,89.20 54.31,89.58 55.42,89.96 56.54,90.34 57.66,90.72 58.79,91.10 59.91,91.49 61.04,91.87 62.17,92.25 63.30,92.63 64.43,93.02 65.56,93.40 66.70,93.79 67.84,94.18 68.98,94.56 70.12,94.95 71.26,95.34 72.41,95.73 73.55,96.12 74.70,96.51 75.85,96.90 77.01,97.29 78.16,97.68 79.32,98.08 80.48,98.47 81.64,98.87 82.80,99.26 83.96,99.66 85.13,100.06 86.30,100.46 87.47,100.86 88.64,101.26 89.82,101.66 90.99,102.07 92.17,102.48 93.35,102.89 94.54,103.30 95.72,103.72 96.91,104.14 98.10,104.57 99.29,105.01 100.49,105.45 101.68,105.90 102.88,106.36 104.09,106.83 105.29,107.33 106.50,107.84 107.71,108.37 108.93,108.94 110.15,109.54 111.38,110.19 112.61,110.89 113.84,111.65 115.09,112.50 116.34,113.43 117.59,114.48 118.86,115.65 120.13,116.99 121.42,118.49 122.71,120.20 124.02,122.14 125.34,124.32 126.67,126.76 128.01,129.48 129.36,132.46 130.72,135.70 132.09,139.16 133.45,142.79 134.82,146.54 136.18,150.33 137.53,154.09 138.87,157.75 140.20,161.25 141.51,164.53 142.81,167.57 144.09,170.35 145.36,172.86 146.62,175.11 147.87,177.11 149.10,178.88 150.33,180.45 151.56,181.85 152.77,183.09 153.99,184.19 155.20,185.19 156.41,186.09 157.62,186.91 158.83,187.67 160.04,188.37 161.25,189.03 162.46,189.66 163.67,190.25 164.88,190.82 166.10,191.37 167.31,191.91 168.53,192.43 169.75,192.95 170.97,193.45 172.19,193.95 173.42,194.45 174.64,194.94 175.87,195.42 177.10,195.91 178.34,196.39 179.57,196.87 180.81,197.35 182.05,197.83 183.29,198.31 184.53,198.79 185.78,199.27 187.02,199.75 188.27,200.23 189.52,200.71 190.78,201.20 192.03,201.68 193.29,202.16 194.55,202.64 195.81,203.13 197.07,203.61 198.34,204.10 199.61,204.58 200.88,205.07 202.15,205.56 203.43,206.04 204.70,206.53 205.98,207.02 207.26,207.51 208.55,208.01 209.83,208.50 211.12,208.99 212.41,209.49 213.70,209.98 214.99,210.48 216.29,210.97 217.59,211.47 218.89,211.97 220.19,212.47 221.50,212.97 222.81,213.47" fill="none" stroke="#33262c" stroke-width="0.95" stroke-opacity="0.9"/>
<polyline points="47.64,78.36 48.73,78.72 49.82,79.08 50.91,79.44 52.00,79.81 53.09,80.17 54.18,80.54 55.28,80.90 56.38,81.27 57.48,81.63 58.58,82.00 59.68,82.37 60.79,82.73 61.90,83.10 63.00,83.47 64.12,83.84 65.23,84.21 66.34,84.58 67.46,84.95 68.58,85.33 69.70,85.70 70.82,86.07 71.94,86.45 73.07,86.82 74.19,87.20 75.32,87.57 76.45,87.95 77.58,88.32 78.72,88.70 79.85,89.08 80.99,89.46 82.13,89.84 83.27,90.22 84.42,90.60 85.56,90.98 86.71,91.37 87.86,91.75 89.01,92.13 90.16,92.52 91.32,92.91 92.48,93.29 93.64,93.68 94.80,94.07 95.96,94.46 97.12,94.86 98.29,95.25 99.46,95.65 100.63,96.05 101.80,96.45 102.98,96.86 104.16,97.27 105.34,97.69 106.52,98.11 107.70,98.54 108.89,98.98 110.08,99.43 111.27,99.89 112.47,100.37 113.67,100.87 114.87,101.39 116.07,101.95 117.28,102.54 118.50,103.17 119.71,103.86 120.94,104.61 122.16,105.44 123.40,106.36 124.64,107.39 125.89,108.55 127.14,109.86 128.41,111.35 129.68,113.04 130.97,114.96 132.26,117.11 133.56,119.54 134.88,122.23 136.20,125.19 137.52,128.40 138.85,131.83 140.18,135.43 141.51,139.15 142.83,142.91 144.15,146.64 145.45,150.27 146.75,153.74 148.03,157.01 149.29,160.02 150.55,162.78 151.79,165.27 153.02,167.49 154.25,169.48 155.46,171.23 156.67,172.79 157.88,174.16 159.08,175.39 160.28,176.48 161.48,177.46 162.67,178.35 163.87,179.16 165.06,179.90 166.26,180.59 167.46,181.24 168.66,181.85 169.86,182.43 171.06,182.99 172.26,183.53 173.46,184.05 174.67,184.56 175.88,185.06 177.09,185.56 178.30,186.04 179.51,186.52 180.73,187.00 181.95,187.48 183.17,187.95 184.39,188.42 185.61,188.89 186.84,189.35 188.06,189.82 189.29,190.29 190.52,190.76 191.76,191.22 192.99,191.69 194.23,192.16 195.47,192.62 196.71,193.09 197.96,193.56 199.20,194.03 200.45,194.50 201.70,194.97 202.95,195.44 204.21,195.91 205.46,196.39 206.72,196.86 207.98,197.33 209.24,197.81 210.51,198.29 211.77,198.76 213.04,199.24 214.31,199.72 215.59,200.20 216.86,200.68 218.14,201.16 219.42,201.64 220.70,202.12 221.98,202.60 223.27,203.08 224.56,203.57 225.85,204.05 227.14,204.54 228.43,205.03" fill="none" stroke="#33262c" stroke-width="0.95" stroke-opacity="0.9"/>
<polyline points="55.14,72.17 56.22,72.52 57.30,72.87 58.38,73.23 59.46,73.58 60.55,73.93 61.63,74.29 62.72,74.64 63.81,75.00 64.90,75.36 66.00,75.71 67.09,76.07 68.19,76.43 69.29,76.79 70.39,77.15 71.49,77.51 72.60,77.87 73.70,78.23 74.81,78.59 75.92,78.95 77.03,79.31 78.14,79.68 79.26,80.04 80.37,80.41 81.49,80.77 82.61,81.14 83.73,81.50 84.86,81.87 85.98,82.24 87.11,82.61 88.24,82.98 89.37,83.35 90.50,83.72 91.64,84.09 92.77,84.46 93.91,84.83 95.05,85.20 96.19,85.58 97.34,85.95 98.48,86.33 99.63,86.71 100.78,87.08 101.93,87.46 103.09,87.84 104.24,88.23 105.40,88.61 106.56,89.00 107.72,89.39 108.88,89.78 110.05,90.18 111.22,90.58 112.39,90.98 113.56,91.39 114.73,91.81 115.91,92.24 117.09,92.68 118.27,93.13 119.45,93.60 120.64,94.09 121.83,94.60 123.03,95.14 124.22,95.72 125.42,96.34 126.63,97.01 127.84,97.75 129.05,98.57 130.27,99.47 131.50,100.49 132.73,101.64 133.97,102.93 135.21,104.40 136.47,106.07 137.73,107.97 139.00,110.10 140.28,112.50 141.56,115.17 142.85,118.10 144.14,121.29 145.44,124.69 146.73,128.26 148.03,131.95 149.31,135.68 150.59,139.39 151.86,142.99 153.12,146.44 154.37,149.68 155.61,152.67 156.84,155.40 158.05,157.87 159.26,160.08 160.46,162.04 161.66,163.78 162.85,165.32 164.04,166.68 165.23,167.89 166.41,168.96 167.59,169.93 168.77,170.80 169.96,171.60 171.14,172.33 172.33,173.01 173.51,173.64 174.70,174.24 175.89,174.81 177.08,175.36 178.27,175.88 179.46,176.40 180.65,176.89 181.85,177.38 183.05,177.86 184.25,178.34 185.45,178.81 186.66,179.27 187.86,179.73 189.07,180.19 190.28,180.65 191.49,181.11 192.71,181.56 193.92,182.02 195.14,182.47 196.36,182.93 197.58,183.38 198.81,183.84 200.03,184.29 201.26,184.75 202.49,185.20 203.72,185.66 204.96,186.12 206.19,186.57 207.43,187.03 208.67,187.49 209.92,187.95 211.16,188.41 212.41,188.87 213.65,189.33 214.90,189.79 216.16,190.26 217.41,190.72 218.67,191.18 219.93,191.65 221.19,192.11 222.45,192.58 223.71,193.05 224.98,193.52 226.25,193.98 227.52,194.45 228.79,194.92 230.07,195.40 231.35,195.87 232.63,196.34 233.91,196.81" fill="none" stroke="#33262c" stroke-width="0.95" stroke-opacity="0.9"/>
<polyline points="62.45,66.13 63.52,66.48 64.59,66.82 65.67,67.16 66.74,67.51 67.82,67.85 68.90,68.20 69.98,68.55 71.06,68.89 72.14,69.24 73.23,69.59 74.32,69.94 75.40,70.28 76.49,70.63 77.59,70.98 78.68,71.33 79.78,71.68 80.87,72.04 81.97,72.39 83.07,72.74 84.18,73.09 85.28,73.45 86.39,73.80 87.49,74.16 88.60,74.51 89.72,74.87 90.83,75.23 91.94,75.58 93.06,75.94 94.18,76.30 95.30,76.66 96.42,77.02 97.54,77.38 98.67,77.74 99.80,78.10 100.93,78.46 102.06,78.83 103.19,79.19 104.32,79.56 105.46,79.92 106.60,80.29 107.74,80.66 108.88,81.03 110.03,81.40 111.17,81.77 112.32,82.15 113.47,82.52 114.62,82.90 115.78,83.28 116.93,83.67 118.09,84.06 119.25,84.45 120.41,84.85 121.58,85.26 122.74,85.68 123.91,86.11 125.08,86.55 126.26,87.01 127.43,87.48 128.61,87.98 129.79,88.52 130.98,89.08 132.17,89.69 133.36,90.35 134.56,91.08 135.76,91.88 136.96,92.77 138.17,93.77 139.39,94.90 140.61,96.18 141.84,97.64 143.07,99.29 144.31,101.16 145.56,103.28 146.81,105.66 148.07,108.30 149.33,111.21 150.59,114.36 151.85,117.74 153.11,121.28 154.37,124.94 155.62,128.65 156.87,132.32 158.11,135.90 159.33,139.32 160.55,142.53 161.76,145.50 162.96,148.21 164.16,150.66 165.34,152.85 166.52,154.79 167.70,156.51 168.87,158.04 170.04,159.38 171.21,160.58 172.38,161.64 173.55,162.59 174.72,163.45 175.89,164.24 177.06,164.95 178.24,165.62 179.41,166.24 180.58,166.83 181.76,167.39 182.94,167.92 184.12,168.44 185.30,168.93 186.49,169.42 187.67,169.90 188.86,170.37 190.05,170.83 191.24,171.29 192.43,171.74 193.63,172.19 194.83,172.64 196.03,173.08 197.23,173.53 198.43,173.97 199.63,174.42 200.84,174.86 202.05,175.30 203.26,175.74 204.47,176.19 205.69,176.63 206.90,177.07 208.12,177.52 209.34,177.96 210.57,178.41 211.79,178.85 213.02,179.30 214.25,179.74 215.48,180.19 216.71,180.64 217.94,181.09 219.18,181.54 220.42,181.98 221.66,182.44 222.90,182.89 224.15,183.34 225.39,183.79 226.64,184.24 227.89,184.70 229.14,185.15 230.40,185.61 231.66,186.06 232.91,186.52 234.17,186.98 235.44,187.44 236.70,187.90 237.97,188.36 239.24,188.82" fill="none" stroke="#33262c" stroke-width="0.95" stroke-opacity="0.9"/>
<polyline points="69.58,60.25 70.64,60.58 71.71,60.92 72.77,61.25 73.84,61.59 74.91,61.93 75.98,62.26 77.05,62.60 78.13,62.94 79.20,63.27 80.28,63.61 81.36,63.95 82.44,64.29 83.52,64.63 84.60,64.97 85.69,65.32 86.78,65.66 87.87,66.00 88.96,66.34 90.05,66.69 91.14,67.03 92.24,67.37 93.34,67.72 94.44,68.07 95.54,68.41 96.64,68.76 97.74,69.11 98.85,69.45 99.96,69.80 101.07,70.15 102.18,70.50 103.29,70.85 104.41,71.20 105.52,71.55 106.64,71.91 107.76,72.26 108.88,72.61 110.01,72.97 111.13,73.32 112.26,73.68 113.39,74.04 114.52,74.40 115.65,74.76 116.79,75.12 117.93,75.48 119.06,75.84 120.20,76.21 121.35,76.58 122.49,76.95 123.64,77.33 124.78,77.71 125.93,78.09 127.09,78.48 128.24,78.88 129.40,79.29 130.56,79.71 131.72,80.14 132.88,80.58 134.05,81.05 135.22,81.54 136.39,82.06 137.56,82.62 138.74,83.21 139.92,83.86 141.10,84.58 142.29,85.36 143.48,86.24 144.68,87.23 145.88,88.35 147.08,89.61 148.29,91.05 149.51,92.68 150.73,94.54 151.95,96.63 153.18,98.99 154.41,101.60 155.64,104.49 156.87,107.62 158.10,110.97 159.33,114.48 160.56,118.11 161.78,121.79 162.99,125.44 164.19,128.99 165.39,132.38 166.58,135.57 167.76,138.52 168.94,141.21 170.10,143.63 171.27,145.80 172.43,147.73 173.59,149.43 174.74,150.94 175.90,152.27 177.05,153.45 178.21,154.50 179.36,155.44 180.52,156.29 181.68,157.06 182.84,157.76 184.00,158.42 185.16,159.03 186.32,159.60 187.49,160.15 188.66,160.67 189.83,161.17 191.00,161.66 192.17,162.14 193.34,162.60 194.52,163.06 195.70,163.51 196.88,163.96 198.06,164.40 199.25,164.84 200.43,165.28 201.62,165.71 202.81,166.14 204.00,166.58 205.20,167.01 206.39,167.44 207.59,167.87 208.79,168.30 209.99,168.73 211.20,169.16 212.40,169.60 213.61,170.03 214.82,170.46 216.03,170.89 217.24,171.33 218.46,171.76 219.68,172.20 220.90,172.63 222.12,173.07 223.34,173.50 224.56,173.94 225.79,174.38 227.02,174.82 228.25,175.26 229.48,175.70 230.72,176.14 231.95,176.58 233.19,177.02 234.43,177.46 235.68,177.91 236.92,178.35 238.17,178.79 239.42,179.24 240.67,179.69 241.92,180.13 243.17,180.58 244.43,181.03" fill="none" stroke="#33262c" stroke-width="0.95" stroke-opacity="0.9"/>
<polyline points="76.54,54.51 77.59,54.84 78.65,55.16 79.70,55.49 80.76,55.81 81.82,56.14 82.89,56.47 83.95,56.80 85.02,57.13 86.08,57.46 87.15,57.79 88.22,58.12 89.30,58.45 90.37,58.78 91.45,59.11 92.52,59.45 93.60,59.78 94.68,60.11 95.77,60.45 96.85,60.78 97.94,61.12 99.02,61.45 100.11,61.79 101.20,62.13 102.30,62.46 103.39,62.80 104.49,63.14 105.58,63.48 106.68,63.82 107.78,64.16 108.89,64.50 109.99,64.84 111.10,65.18 112.21,65.52 113.31,65.87 114.43,66.21 115.54,66.56 116.65,66.90 117.77,67.25 118.89,67.60 120.01,67.94 121.13,68.29 122.25,68.64 123.38,68.99 124.51,69.35 125.64,69.70 126.77,70.06 127.90,70.42 129.04,70.78 130.17,71.15 131.31,71.52 132.45,71.89 133.59,72.28 134.74,72.66 135.88,73.06 137.03,73.47 138.18,73.89 139.34,74.33 140.49,74.78 141.65,75.26 142.81,75.77 143.97,76.32 145.14,76.90 146.31,77.54 147.48,78.24 148.65,79.02 149.83,79.88 151.01,80.86 152.20,81.96 153.39,83.21 154.58,84.63 155.77,86.24 156.97,88.08 158.17,90.15 159.38,92.49 160.58,95.08 161.79,97.94 162.99,101.04 164.19,104.36 165.39,107.86 166.58,111.46 167.77,115.11 168.95,118.73 170.13,122.25 171.29,125.62 172.45,128.78 173.61,131.70 174.76,134.37 175.91,136.78 177.05,138.93 178.19,140.84 179.33,142.53 180.47,144.02 181.61,145.33 182.75,146.50 183.89,147.54 185.03,148.46 186.17,149.30 187.32,150.06 188.47,150.75 189.62,151.39 190.77,151.99 191.92,152.55 193.07,153.09 194.23,153.60 195.39,154.09 196.55,154.57 197.71,155.04 198.88,155.49 200.04,155.94 201.21,156.38 202.38,156.81 203.55,157.24 204.73,157.67 205.90,158.10 207.08,158.52 208.26,158.94 209.44,159.36 210.62,159.78 211.81,160.21 213.00,160.63 214.18,161.05 215.38,161.47 216.57,161.89 217.76,162.31 218.96,162.73 220.16,163.15 221.36,163.57 222.56,163.99 223.76,164.42 224.97,164.84 226.18,165.26 227.39,165.69 228.60,166.11 229.81,166.54 231.03,166.96 232.24,167.39 233.46,167.82 234.68,168.25 235.91,168.68 237.13,169.11 238.36,169.54 239.59,169.97 240.82,170.40 242.05,170.83 243.29,171.27 244.52,171.70 245.76,172.13 247.00,172.57 248.24,173.00 249.49,173.44" fill="none" stroke="#33262c" stroke-width="0.95" stroke-opacity="0.9"/>
<polyline points="83.32,48.91 84.37,49.23 85.42,49.54 86.47,49.86 87.52,50.18 88.57,50.50 89.63,50.82 90.68,51.14 91.74,51.46 92.80,51.78 93.86,52.10 94.92,52.43 95.99,52.75 97.06,53.07 98.12,53.40 99.19,53.72 100.26,54.05 101.34,54.37 102.41,54.70 103.49,55.02 104.56,55.35 105.64,55.68 106.72,56.00 107.81,56.33 108.89,56.66 109.98,56.99 111.06,57.32 112.15,57.65 113.24,57.98 114.33,58.31 115.43,58.65 116.52,58.98 117.62,59.31 118.72,59.64 119.82,59.98 120.92,60.31 122.03,60.65 123.13,60.99 124.24,61.32 125.35,61.66 126.46,62.00 127.58,62.34 128.69,62.68 129.81,63.03 130.93,63.37 132.05,63.72 133.17,64.06 134.29,64.41 135.42,64.77 136.54,65.13 137.67,65.49 138.80,65.85 139.94,66.22 141.07,66.60 142.21,66.99 143.35,67.39 144.49,67.80 145.63,68.23 146.77,68.67 147.92,69.14 149.07,69.64 150.22,70.18 151.38,70.75 152.54,71.38 153.69,72.07 154.86,72.83 156.02,73.68 157.19,74.65 158.36,75.73 159.53,76.97 160.71,78.37 161.88,79.97 163.06,81.79 164.24,83.84 165.42,86.15 166.60,88.72 167.78,91.56 168.96,94.64 170.13,97.93 171.30,101.39 172.46,104.97 173.62,108.59 174.77,112.18 175.91,115.68 177.05,119.02 178.19,122.16 179.31,125.06 180.44,127.71 181.56,130.09 182.69,132.22 183.81,134.12 184.93,135.79 186.05,137.26 187.18,138.57 188.30,139.72 189.43,140.74 190.56,141.66 191.69,142.48 192.82,143.23 193.96,143.91 195.10,144.54 196.24,145.13 197.38,145.68 198.52,146.20 199.67,146.70 200.82,147.19 201.97,147.65 203.12,148.11 204.27,148.55 205.43,148.99 206.59,149.42 207.74,149.84 208.91,150.26 210.07,150.68 211.23,151.09 212.40,151.51 213.57,151.92 214.74,152.33 215.91,152.74 217.09,153.15 218.26,153.56 219.44,153.97 220.62,154.38 221.80,154.79 222.99,155.20 224.17,155.61 225.36,156.02 226.55,156.43 227.74,156.84 228.93,157.25 230.13,157.67 231.33,158.08 232.52,158.49 233.72,158.91 234.93,159.32 236.13,159.74 237.34,160.15 238.54,160.57 239.75,160.99 240.97,161.41 242.18,161.82 243.39,162.24 244.61,162.66 245.83,163.08 247.05,163.51 248.27,163.93 249.50,164.35 250.73,164.77 251.96,165.20 253.19,165.62 254.42,166.05" fill="none" stroke="#33262c" stroke-width="0.95" stroke-opacity="0.9"/>
<polyline points="89.95,43.44 90.98,43.75 92.03,44.06 93.07,44.37 94.11,44.68 95.16,44.99 96.20,45.31 97.25,45.62 98.30,45.93 99.36,46.24 100.41,46.56 101.46,46.87 102.52,47.19 103.58,47.50 104.64,47.82 105.70,48.13 106.76,48.45 107.83,48.77 108.89,49.08 109.96,49.40 111.03,49.72 112.10,50.04 113.17,50.36 114.25,50.68 115.32,51.00 116.40,51.32 117.48,51.64 118.56,51.96 119.64,52.29 120.73,52.61 121.81,52.93 122.90,53.26 123.99,53.58 125.08,53.91 126.17,54.23 127.26,54.56 128.36,54.89 129.46,55.22 130.55,55.55 131.66,55.87 132.76,56.21 133.86,56.54 134.97,56.87 136.07,57.20 137.18,57.54 138.29,57.88 139.41,58.22 140.52,58.56 141.64,58.90 142.76,59.25 143.88,59.60 145.00,59.96 146.12,60.32 147.25,60.69 148.37,61.07 149.50,61.46 150.63,61.86 151.77,62.28 152.90,62.72 154.04,63.18 155.18,63.67 156.32,64.19 157.46,64.75 158.61,65.37 159.75,66.05 160.90,66.80 162.06,67.64 163.21,68.59 164.36,69.66 165.52,70.88 166.68,72.27 167.84,73.85 169.00,75.65 170.16,77.69 171.32,79.97 172.47,82.52 173.63,85.33 174.78,88.39 175.92,91.65 177.06,95.09 178.19,98.64 179.32,102.23 180.44,105.80 181.56,109.27 182.67,112.58 183.78,115.70 184.88,118.58 185.98,121.20 187.09,123.57 188.19,125.68 189.29,127.56 190.40,129.21 191.50,130.68 192.61,131.96 193.72,133.10 194.84,134.11 195.96,135.01 197.07,135.83 198.20,136.56 199.32,137.23 200.45,137.85 201.57,138.43 202.71,138.97 203.84,139.49 204.97,139.98 206.11,140.45 207.25,140.90 208.39,141.35 209.54,141.78 210.68,142.21 211.83,142.63 212.98,143.04 214.13,143.45 215.28,143.86 216.44,144.26 217.59,144.67 218.75,145.07 219.91,145.47 221.08,145.87 222.24,146.27 223.40,146.67 224.57,147.07 225.74,147.47 226.91,147.87 228.09,148.27 229.26,148.67 230.44,149.07 231.62,149.47 232.80,149.87 233.98,150.27 235.16,150.67 236.35,151.07 237.53,151.48 238.72,151.88 239.91,152.29 241.11,152.69 242.30,153.10 243.50,153.50 244.70,153.91 245.90,154.32 247.10,154.72 248.30,155.13 249.51,155.54 250.72,155.95 251.93,156.36 253.14,156.77 254.35,157.18 255.57,157.60 256.79,158.01 258.00,158.42 259.23,158.84" fill="none" stroke="#33262c" stroke-width="0.95" stroke-opacity="0.9"/>
<polyline points="96.41,38.10 97.44,38.40 98.48,38.71 99.51,39.01 100.55,39.31 101.59,39.62 102.63,39.92 103.67,40.23 104.71,40.53 105.75,40.84 106.80,41.14 107.85,41.45 108.89,41.76 109.95,42.06 111.00,42.37 112.05,42.68 113.10,42.99 114.16,43.30 115.22,43.61 116.28,43.92 117.34,44.23 118.40,44.54 119.47,44.85 120.53,45.16 121.60,45.48 122.67,45.79 123.74,46.10 124.81,46.42 125.89,46.73 126.96,47.05 128.04,47.36 129.12,47.68 130.20,47.99 131.28,48.31 132.36,48.63 133.45,48.95 134.54,49.27 135.62,49.59 136.71,49.91 137.81,50.23 138.90,50.55 139.99,50.87 141.09,51.20 142.19,51.52 143.29,51.85 144.39,52.18 145.50,52.51 146.60,52.84 147.71,53.18 148.82,53.52 149.93,53.86 151.04,54.21 152.15,54.57 153.27,54.93 154.39,55.30 155.51,55.68 156.63,56.07 157.75,56.48 158.88,56.91 160.00,57.36 161.13,57.84 162.26,58.35 163.39,58.90 164.53,59.51 165.66,60.18 166.80,60.92 167.94,61.75 169.08,62.68 170.22,63.74 171.36,64.95 172.51,66.32 173.65,67.89 174.79,69.67 175.93,71.68 177.07,73.95 178.20,76.48 179.33,79.26 180.45,82.29 181.57,85.53 182.68,88.94 183.79,92.46 184.89,96.03 185.98,99.57 187.07,103.01 188.15,106.30 189.23,109.39 190.31,112.25 191.39,114.85 192.48,117.20 193.56,119.30 194.64,121.16 195.73,122.80 196.82,124.24 197.92,125.52 199.02,126.64 200.12,127.64 201.22,128.53 202.33,129.33 203.44,130.05 204.55,130.72 205.67,131.33 206.78,131.89 207.91,132.42 209.03,132.93 210.15,133.41 211.28,133.87 212.41,134.32 213.54,134.75 214.67,135.17 215.81,135.59 216.95,136.00 218.09,136.41 219.23,136.81 220.37,137.20 221.51,137.60 222.66,137.99 223.81,138.38 224.96,138.77 226.11,139.16 227.26,139.55 228.42,139.94 229.58,140.33 230.74,140.72 231.90,141.11 233.06,141.50 234.22,141.89 235.39,142.28 236.56,142.67 237.73,143.06 238.90,143.46 240.07,143.85 241.25,144.24 242.42,144.63 243.60,145.03 244.78,145.42 245.96,145.82 247.15,146.21 248.33,146.61 249.52,147.00 250.71,147.40 251.90,147.80 253.09,148.20 254.29,148.59 255.48,148.99 256.68,149.39 257.88,149.79 259.09,150.20 260.29,150.60 261.50,151.00 262.70,151.40 263.91,151.81" fill="none" stroke="#33262c" stroke-width="0.95" stroke-opacity="0.9"/>
<polyline points="102.73,32.89 103.75,33.18 104.78,33.48 105.81,33.77 106.84,34.07 107.87,34.37 108.90,34.66 109.93,34.96 110.97,35.26 112.00,35.56 113.04,35.86 114.08,36.15 115.12,36.45 116.16,36.75 117.21,37.05 118.25,37.35 119.30,37.66 120.35,37.96 121.40,38.26 122.45,38.56 123.50,38.87 124.56,39.17 125.61,39.47 126.67,39.78 127.73,40.08 128.79,40.39 129.85,40.69 130.92,41.00 131.98,41.31 133.05,41.61 134.12,41.92 135.19,42.23 136.26,42.54 137.33,42.85 138.41,43.16 139.49,43.47 140.56,43.78 141.64,44.09 142.73,44.40 143.81,44.72 144.89,45.03 145.98,45.35 147.07,45.66 148.16,45.98 149.25,46.30 150.34,46.62 151.44,46.94 152.53,47.27 153.63,47.60 154.73,47.93 155.83,48.26 156.93,48.60 158.04,48.95 159.15,49.30 160.25,49.66 161.36,50.04 162.48,50.42 163.59,50.82 164.70,51.24 165.82,51.68 166.94,52.15 168.06,52.65 169.18,53.20 170.30,53.79 171.43,54.45 172.55,55.18 173.68,56.00 174.81,56.92 175.94,57.97 177.06,59.16 178.19,60.52 179.31,62.07 180.44,63.83 181.56,65.83 182.67,68.07 183.79,70.58 184.89,73.34 185.99,76.34 187.08,79.56 188.17,82.94 189.25,86.44 190.32,89.97 191.38,93.49 192.44,96.90 193.50,100.17 194.56,103.24 195.62,106.07 196.68,108.66 197.74,110.99 198.80,113.06 199.87,114.90 200.94,116.53 202.02,117.96 203.10,119.22 204.18,120.34 205.27,121.32 206.36,122.20 207.46,122.99 208.56,123.70 209.66,124.35 210.76,124.95 211.87,125.51 212.98,126.03 214.09,126.52 215.21,127.00 216.33,127.45 217.45,127.88 218.57,128.31 219.69,128.72 220.82,129.13 221.94,129.53 223.07,129.93 224.20,130.32 225.34,130.71 226.47,131.09 227.61,131.48 228.75,131.86 229.89,132.24 231.03,132.62 232.17,133.00 233.32,133.38 234.46,133.76 235.61,134.14 236.76,134.52 237.91,134.90 239.07,135.28 240.22,135.66 241.38,136.04 242.54,136.42 243.70,136.81 244.86,137.19 246.03,137.57 247.19,137.95 248.36,138.34 249.53,138.72 250.70,139.11 251.87,139.49 253.05,139.88 254.23,140.26 255.40,140.65 256.58,141.04 257.77,141.43 258.95,141.82 260.14,142.21 261.32,142.60 262.51,142.99 263.70,143.38 264.90,143.77 266.09,144.16 267.29,144.56 268.48,144.95" fill="none" stroke="#33262c" stroke-width="0.95" stroke-opacity="0.9"/>
<polyline points="108.90,27.80 109.92,28.08 110.94,28.37 111.96,28.66 112.98,28.95 114.00,29.24 115.02,29.53 116.05,29.82 117.08,30.11 118.10,30.40 119.13,30.69 120.17,30.98 121.20,31.27 122.23,31.57 123.27,31.86 124.31,32.15 125.35,32.45 126.39,32.74 127.43,33.04 128.47,33.33 129.52,33.63 130.57,33.92 131.61,34.22 132.66,34.52 133.71,34.82 134.77,35.11 135.82,35.41 136.88,35.71 137.93,36.01 138.99,36.31 140.05,36.61 141.12,36.91 142.18,37.21 143.24,37.51 144.31,37.82 145.38,38.12 146.45,38.42 147.52,38.73 148.59,39.03 149.67,39.34 150.74,39.64 151.82,39.95 152.90,40.26 153.98,40.57 155.07,40.88 156.15,41.20 157.24,41.51 158.32,41.83 159.41,42.15 160.50,42.47 161.60,42.80 162.69,43.13 163.78,43.47 164.88,43.81 165.98,44.17 167.08,44.53 168.18,44.91 169.29,45.30 170.39,45.71 171.50,46.14 172.61,46.60 173.72,47.09 174.83,47.63 175.94,48.22 177.05,48.86 178.17,49.58 179.28,50.39 180.40,51.30 181.51,52.33 182.62,53.51 183.74,54.85 184.84,56.39 185.95,58.13 187.05,60.11 188.15,62.34 189.24,64.82 190.32,67.56 191.40,70.54 192.46,73.73 193.52,77.09 194.57,80.55 195.62,84.06 196.66,87.55 197.69,90.94 198.73,94.18 199.76,97.23 200.80,100.04 201.84,102.60 202.88,104.91 203.92,106.97 204.98,108.80 206.03,110.41 207.09,111.83 208.16,113.08 209.23,114.18 210.31,115.15 211.39,116.02 212.47,116.80 213.56,117.50 214.65,118.14 215.74,118.73 216.84,119.27 217.94,119.79 219.04,120.27 220.15,120.73 221.25,121.18 222.36,121.60 223.48,122.02 224.59,122.42 225.70,122.82 226.82,123.21 227.94,123.60 229.06,123.98 230.19,124.36 231.31,124.74 232.44,125.11 233.56,125.49 234.69,125.86 235.83,126.23 236.96,126.60 238.09,126.97 239.23,127.34 240.37,127.71 241.51,128.08 242.65,128.45 243.80,128.83 244.94,129.20 246.09,129.57 247.24,129.94 248.39,130.31 249.54,130.69 250.69,131.06 251.85,131.43 253.01,131.81 254.17,132.18 255.33,132.56 256.49,132.93 257.65,133.31 258.82,133.69 259.99,134.07 261.16,134.44 262.33,134.82 263.50,135.20 264.67,135.58 265.85,135.96 267.03,136.34 268.21,136.72 269.39,137.11 270.57,137.49 271.76,137.87 272.95,138.26" fill="none" stroke="#33262c" stroke-width="0.95" stroke-opacity="0.9"/>
<polyline points="114.93,22.82 115.94,23.10 116.95,23.38 117.96,23.66 118.98,23.94 119.99,24.23 121.01,24.51 122.03,24.79 123.05,25.08 124.07,25.36 125.09,25.65 126.11,25.93 127.14,26.22 128.17,26.50 129.19,26.79 130.22,27.07 131.26,27.36 132.29,27.65 133.32,27.94 134.36,28.22 135.40,28.51 136.43,28.80 137.48,29.09 138.52,29.38 139.56,29.67 140.60,29.96 141.65,30.25 142.70,30.54 143.75,30.84 144.80,31.13 145.85,31.42 146.91,31.72 147.96,32.01 149.02,32.30 150.08,32.60 151.14,32.90 152.20,33.19 153.26,33.49 154.32,33.79 155.39,34.08 156.46,34.38 157.53,34.68 158.60,34.98 159.67,35.29 160.75,35.59 161.82,35.90 162.90,36.20 163.98,36.51 165.06,36.83 166.14,37.14 167.22,37.46 168.31,37.79 169.39,38.12 170.48,38.45 171.57,38.80 172.66,39.15 173.76,39.52 174.85,39.90 175.95,40.31 177.04,40.73 178.14,41.18 179.24,41.67 180.34,42.19 181.44,42.77 182.55,43.41 183.65,44.12 184.75,44.91 185.85,45.81 186.95,46.83 188.05,48.00 189.15,49.32 190.24,50.84 191.33,52.57 192.42,54.53 193.49,56.74 194.56,59.20 195.62,61.92 196.67,64.87 197.72,68.04 198.75,71.37 199.78,74.81 200.80,78.29 201.81,81.75 202.82,85.12 203.83,88.34 204.84,91.36 205.86,94.15 206.88,96.69 207.90,98.98 208.93,101.03 209.96,102.84 211.00,104.43 212.05,105.83 213.10,107.07 214.16,108.16 215.22,109.12 216.29,109.98 217.37,110.74 218.44,111.44 219.52,112.07 220.61,112.65 221.69,113.18 222.78,113.69 223.88,114.16 224.97,114.62 226.07,115.05 227.17,115.47 228.27,115.87 229.37,116.27 230.48,116.66 231.59,117.04 232.70,117.42 233.81,117.79 234.92,118.16 236.04,118.53 237.15,118.90 238.27,119.26 239.39,119.63 240.51,119.99 241.64,120.35 242.76,120.71 243.89,121.07 245.02,121.44 246.15,121.80 247.28,122.16 248.41,122.52 249.55,122.88 250.69,123.25 251.82,123.61 252.96,123.97 254.11,124.34 255.25,124.70 256.40,125.07 257.54,125.43 258.69,125.80 259.84,126.17 260.99,126.53 262.15,126.90 263.30,127.27 264.46,127.64 265.62,128.00 266.78,128.37 267.94,128.74 269.10,129.11 270.27,129.49 271.44,129.86 272.61,130.23 273.78,130.60 274.95,130.98 276.12,131.35 277.30,131.72" fill="none" stroke="#33262c" stroke-width="0.95" stroke-opacity="0.9"/>
<polyline points="120.82,17.95 121.83,18.23 122.83,18.50 123.83,18.78 124.84,19.05 125.85,19.33 126.86,19.61 127.87,19.88 128.88,20.16 129.89,20.44 130.91,20.71 131.93,20.99 132.94,21.27 133.96,21.55 134.98,21.83 136.01,22.11 137.03,22.39 138.06,22.67 139.08,22.95 140.11,23.23 141.14,23.51 142.17,23.80 143.20,24.08 144.24,24.36 145.27,24.64 146.31,24.93 147.35,25.21 148.39,25.50 149.43,25.78 150.47,26.07 151.52,26.35 152.56,26.64 153.61,26.93 154.66,27.22 155.71,27.50 156.76,27.79 157.81,28.08 158.87,28.37 159.92,28.66 160.98,28.95 162.04,29.24 163.10,29.54 164.16,29.83 165.23,30.13 166.29,30.42 167.36,30.72 168.43,31.02 169.50,31.32 170.57,31.63 171.64,31.94 172.72,32.25 173.79,32.57 174.87,32.89 175.95,33.22 177.03,33.56 178.11,33.90 179.20,34.26 180.28,34.64 181.37,35.03 182.46,35.45 183.55,35.89 184.64,36.37 185.73,36.89 186.82,37.45 187.91,38.08 189.00,38.78 190.09,39.56 191.18,40.45 192.27,41.46 193.35,42.61 194.44,43.93 195.51,45.43 196.59,47.14 197.65,49.08 198.71,51.27 199.76,53.71 200.80,56.41 201.83,59.34 202.85,62.48 203.86,65.78 204.86,69.19 205.85,72.65 206.84,76.09 207.83,79.43 208.82,82.62 209.81,85.62 210.80,88.39 211.80,90.92 212.80,93.19 213.82,95.21 214.83,97.01 215.86,98.59 216.89,99.98 217.93,101.20 218.98,102.28 220.03,103.23 221.09,104.07 222.15,104.83 223.22,105.51 224.29,106.13 225.36,106.71 226.44,107.23 227.52,107.73 228.60,108.19 229.68,108.64 230.77,109.06 231.86,109.47 232.95,109.87 234.05,110.26 235.15,110.64 236.24,111.01 237.34,111.38 238.45,111.75 239.55,112.11 240.65,112.47 241.76,112.83 242.87,113.18 243.98,113.54 245.09,113.89 246.21,114.25 247.32,114.60 248.44,114.95 249.56,115.31 250.68,115.66 251.80,116.01 252.92,116.37 254.05,116.72 255.18,117.07 256.31,117.43 257.44,117.78 258.57,118.14 259.70,118.49 260.84,118.85 261.97,119.21 263.11,119.56 264.25,119.92 265.39,120.28 266.54,120.64 267.68,121.00 268.83,121.36 269.98,121.72 271.13,122.08 272.28,122.44 273.43,122.80 274.59,123.16 275.74,123.52 276.90,123.89 278.06,124.25 279.22,124.62 280.39,124.98 281.55,125.35" fill="none" stroke="#33262c" stroke-width="0.95" stroke-opacity="0.9"/>
<polyline points="126.59,13.20 127.58,13.47 128.58,13.73 129.58,14.00 130.57,14.27 131.58,14.54 132.58,14.81 133.58,15.08 134.59,15.35 135.59,15.62 136.60,15.89 137.61,16.17 138.62,16.44 139.63,16.71 140.64,16.98 141.66,17.26 142.67,17.53 143.69,17.80 144.71,18.08 145.73,18.35 146.75,18.63 147.78,18.90 148.80,19.18 149.83,19.46 150.85,19.73 151.88,20.01 152.91,20.29 153.95,20.56 154.98,20.84 156.01,21.12 157.05,21.40 158.09,21.68 159.13,21.96 160.17,22.24 161.21,22.52 162.25,22.80 163.30,23.09 164.34,23.37 165.39,23.65 166.44,23.94 167.49,24.22 168.55,24.51 169.60,24.80 170.66,25.09 171.71,25.37 172.77,25.67 173.83,25.96 174.89,26.25 175.96,26.55 177.02,26.85 178.09,27.16 179.15,27.47 180.22,27.78 181.29,28.11 182.37,28.44 183.44,28.78 184.51,29.13 185.59,29.50 186.67,29.88 187.74,30.29 188.82,30.73 189.90,31.19 190.98,31.70 192.06,32.26 193.15,32.88 194.23,33.57 195.30,34.34 196.38,35.22 197.46,36.21 198.53,37.35 199.60,38.65 200.66,40.14 201.72,41.84 202.77,43.76 203.81,45.93 204.84,48.35 205.86,51.02 206.86,53.93 207.86,57.04 208.85,60.32 209.83,63.71 210.80,67.14 211.76,70.55 212.73,73.87 213.69,77.04 214.66,80.02 215.63,82.76 216.61,85.27 217.60,87.52 218.59,89.53 219.60,91.31 220.61,92.88 221.63,94.25 222.66,95.46 223.69,96.53 224.73,97.47 225.78,98.30 226.83,99.05 227.88,99.72 228.94,100.34 230.01,100.90 231.07,101.42 232.14,101.90 233.22,102.36 234.29,102.80 235.37,103.21 236.45,103.61 237.53,104.00 238.62,104.38 239.71,104.76 240.79,105.12 241.88,105.48 242.98,105.84 244.07,106.19 245.17,106.54 246.27,106.89 247.36,107.24 248.47,107.59 249.57,107.93 250.67,108.28 251.78,108.62 252.89,108.97 253.99,109.31 255.11,109.66 256.22,110.00 257.33,110.35 258.45,110.70 259.56,111.04 260.68,111.39 261.80,111.73 262.93,112.08 264.05,112.43 265.17,112.78 266.30,113.12 267.43,113.47 268.56,113.82 269.69,114.17 270.82,114.52 271.96,114.87 273.10,115.22 274.23,115.57 275.37,115.93 276.51,116.28 277.66,116.63 278.80,116.98 279.95,117.34 281.10,117.69 282.25,118.05 283.40,118.40 284.55,118.76 285.71,119.12" fill="none" stroke="#33262c" stroke-width="0.95" stroke-opacity="0.9"/>
<polyline points="132.22,8.55 133.21,8.81 134.20,9.07 135.19,9.33 136.18,9.60 137.17,9.86 138.17,10.12 139.17,10.39 140.16,10.65 141.16,10.92 142.16,11.18 143.16,11.45 144.17,11.71 145.17,11.98 146.18,12.24 147.18,12.51 148.19,12.78 149.20,13.05 150.21,13.31 151.23,13.58 152.24,13.85 153.26,14.12 154.27,14.39 155.29,14.66 156.31,14.93 157.33,15.20 158.36,15.47 159.38,15.74 160.40,16.02 161.43,16.29 162.46,16.56 163.49,16.83 164.52,17.11 165.55,17.38 166.59,17.66 167.62,17.93 168.66,18.21 169.70,18.48 170.74,18.76 171.78,19.04 172.82,19.32 173.87,19.60 174.91,19.88 175.96,20.16 177.01,20.44 178.06,20.73 179.11,21.01 180.16,21.30 181.22,21.59 182.28,21.89 183.33,22.18 184.39,22.49 185.45,22.79 186.51,23.11 187.58,23.43 188.64,23.77 189.71,24.11 190.77,24.47 191.84,24.85 192.91,25.25 193.98,25.68 195.05,26.14 196.12,26.64 197.19,27.19 198.26,27.80 199.33,28.48 200.40,29.24 201.47,30.10 202.53,31.09 203.59,32.22 204.64,33.50 205.69,34.98 206.73,36.66 207.76,38.56 208.79,40.71 209.80,43.11 210.80,45.76 211.78,48.65 212.76,51.74 213.72,54.99 214.68,58.35 215.63,61.76 216.57,65.14 217.51,68.44 218.46,71.58 219.40,74.54 220.36,77.26 221.32,79.75 222.29,81.98 223.27,83.98 224.25,85.74 225.25,87.29 226.26,88.66 227.27,89.85 228.29,90.91 229.32,91.84 230.36,92.66 231.40,93.40 232.44,94.06 233.49,94.67 234.55,95.22 235.61,95.73 236.67,96.21 237.73,96.66 238.80,97.08 239.86,97.49 240.94,97.89 242.01,98.27 243.09,98.64 244.16,99.00 245.24,99.36 246.32,99.71 247.41,100.06 248.49,100.41 249.58,100.75 250.67,101.09 251.76,101.43 252.85,101.77 253.94,102.11 255.04,102.45 256.13,102.79 257.23,103.12 258.33,103.46 259.43,103.80 260.53,104.13 261.64,104.47 262.74,104.81 263.85,105.15 264.96,105.48 266.07,105.82 267.18,106.16 268.30,106.50 269.41,106.84 270.53,107.18 271.65,107.52 272.77,107.86 273.89,108.20 275.01,108.54 276.14,108.89 277.27,109.23 278.39,109.57 279.52,109.92 280.65,110.26 281.79,110.60 282.92,110.95 284.06,111.30 285.20,111.64 286.33,111.99 287.48,112.33 288.62,112.68 289.76,113.03" fill="none" stroke="#33262c" stroke-width="0.95" stroke-opacity="0.9"/>
<polyline points="32.05,91.23 33.15,91.61 34.26,91.99 35.36,92.37 36.47,92.76 37.58,93.14 38.69,93.53 39.80,93.91 40.92,94.30 42.03,94.68 43.15,95.07 44.27,95.46 45.39,95.85 46.52,96.24 47.64,96.63 48.77,97.02 49.90,97.41 51.03,97.80 52.16,98.19 53.30,98.59 54.44,98.98 55.57,99.37 56.72,99.77 57.86,100.17 59.00,100.56 60.15,100.96 61.30,101.36 62.45,101.76 63.60,102.15 64.75,102.55 65.91,102.96 67.07,103.36 68.23,103.76 69.39,104.16 70.56,104.57 71.72,104.97 72.89,105.38 74.06,105.78 75.23,106.19 76.41,106.60 77.58,107.01 78.76,107.42 79.94,107.83 81.12,108.24 82.31,108.66 83.49,109.08 84.68,109.50 85.87,109.92 87.07,110.35 88.26,110.78 89.46,111.21 90.66,111.65 91.86,112.09 93.07,112.55 94.27,113.01 95.49,113.48 96.70,113.97 97.92,114.47 99.14,115.00 100.36,115.55 101.59,116.13 102.82,116.74 104.06,117.40 105.31,118.12 106.56,118.89 107.81,119.75 109.08,120.70 110.35,121.76 111.63,122.96 112.93,124.31 114.23,125.83 115.55,127.56 116.88,129.51 118.22,131.72 119.58,134.19 120.96,136.93 122.34,139.94 123.73,143.20 125.13,146.69 126.54,150.35 127.94,154.13 129.34,157.95 130.73,161.74 132.11,165.42 133.48,168.95 134.82,172.26 136.15,175.33 137.47,178.13 138.76,180.66 140.05,182.92 141.32,184.94 142.57,186.74 143.82,188.32 145.06,189.73 146.30,190.99 147.53,192.11 148.75,193.12 149.98,194.04 151.20,194.87 152.42,195.64 153.65,196.36 154.87,197.04 156.09,197.67 157.31,198.28 158.54,198.87 159.76,199.43 160.99,199.98 162.22,200.52 163.45,201.04 164.68,201.56 165.92,202.08 167.15,202.58 168.39,203.09 169.63,203.59 170.88,204.08 172.12,204.58 173.37,205.08 174.61,205.57 175.87,206.06 177.12,206.56 178.37,207.05 179.63,207.54 180.89,208.04 182.15,208.53 183.41,209.02 184.68,209.52 185.95,210.02 187.21,210.51 188.49,211.01 189.76,211.51 191.04,212.00 192.31,212.50 193.60,213.00 194.88,213.50 196.16,214.00 197.45,214.51 198.74,215.01 200.03,215.51 201.32,216.02 202.62,216.52 203.92,217.03 205.22,217.54 206.52,218.05 207.83,218.55 209.13,219.06 210.44,219.58 211.75,220.09 213.07,220.60 214.38,221.11 215.70,221.63 217.02,222.14 293.73,107.08 293.73,107.08 292.59,106.74 291.46,106.40 290.33,106.07 289.20,105.73 288.07,105.39 286.95,105.05 285.82,104.71 284.70,104.38 283.58,104.04 282.46,103.71 281.34,103.37 280.22,103.04 279.11,102.70 278.00,102.37 276.88,102.03 275.77,101.70 274.66,101.37 273.56,101.04 272.45,100.71 271.35,100.37 270.24,100.04 269.14,99.71 268.04,99.38 266.95,99.05 265.85,98.72 264.75,98.39 263.66,98.06 262.57,97.74 261.48,97.41 260.39,97.08 259.30,96.75 258.22,96.42 257.13,96.09 256.05,95.76 254.97,95.42 253.89,95.09 252.81,94.75 251.74,94.42 250.66,94.07 249.59,93.73 248.52,93.38 247.45,93.02 246.39,92.66 245.32,92.28 244.26,91.90 243.20,91.50 242.14,91.08 241.09,90.64 240.04,90.17 238.99,89.67 237.95,89.12 236.91,88.53 235.87,87.87 234.84,87.14 233.82,86.33 232.80,85.41 231.79,84.37 230.79,83.18 229.79,81.83 228.81,80.29 227.83,78.54 226.87,76.57 225.92,74.35 224.97,71.88 224.04,69.18 223.11,66.25 222.19,63.12 221.27,59.85 220.35,56.49 219.42,53.11 218.49,49.78 217.55,46.55 216.59,43.48 215.63,40.62 214.65,37.99 213.65,35.61 212.65,33.48 211.63,31.59 210.61,29.93 209.57,28.47 208.53,27.20 207.48,26.08 206.43,25.11 205.38,24.25 204.32,23.50 203.26,22.83 202.20,22.23 201.14,21.69 200.08,21.20 199.02,20.74 197.96,20.32 196.90,19.93 195.84,19.56 194.78,19.21 193.73,18.87 192.67,18.54 191.62,18.23 190.56,17.92 189.51,17.62 188.46,17.32 187.41,17.03 186.36,16.74 185.32,16.46 184.27,16.18 183.23,15.90 182.19,15.62 181.15,15.34 180.11,15.07 179.07,14.79 178.03,14.52 177.00,14.25 175.97,13.98 174.93,13.71 173.90,13.44 172.87,13.17 171.85,12.90 170.82,12.63 169.80,12.36 168.77,12.09 167.75,11.83 166.73,11.56 165.71,11.29 164.69,11.03 163.68,10.76 162.66,10.50 161.65,10.23 160.64,9.97 159.62,9.71 158.61,9.44 157.61,9.18 156.60,8.92 155.60,8.66 154.59,8.39 153.59,8.13 152.59,7.87 151.59,7.61 150.59,7.35 149.59,7.09 148.60,6.83 147.60,6.57 146.61,6.31 145.62,6.05 144.63,5.79 143.64,5.54 142.65,5.28 141.66,5.02 140.68,4.77 139.70,4.51 138.71,4.25 137.73,4.00 32.05,91.23" fill="none" stroke="#2a1a20" stroke-width="0.9"/>
<line x1="25.73" y1="91.19" x2="222.70" y2="159.72" stroke="#888" stroke-width="0.7" stroke-opacity="0.8"/>
<line x1="222.70" y1="159.72" x2="219.03" y2="228.43" stroke="#888" stroke-width="0.7" stroke-opacity="0.8"/>
<line x1="306.66" y1="44.70" x2="222.70" y2="159.72" stroke="#888" stroke-width="0.7" stroke-opacity="0.8"/>
<line x1="36.06" y1="156.40" x2="25.73" y2="91.19" stroke="#8a8a8a" stroke-width="0.7" stroke-opacity="1"/>
<line x1="25.73" y1="91.19" x2="136.54" y2="0.68" stroke="#8a8a8a" stroke-width="0.7" stroke-opacity="1"/>
<line x1="136.54" y1="0.68" x2="306.66" y2="44.70" stroke="#8a8a8a" stroke-width="0.7" stroke-opacity="1"/>
<line x1="306.66" y1="44.70" x2="298.36" y2="107.66" stroke="#8a8a8a" stroke-width="0.7" stroke-opacity="1"/>
<line x1="298.36" y1="107.66" x2="219.03" y2="228.43" stroke="#8a8a8a" stroke-width="0.7" stroke-opacity="1"/>
<line x1="219.03" y1="228.43" x2="36.06" y2="156.40" stroke="#8a8a8a" stroke-width="0.7" stroke-opacity="1"/>
<line x1="39.25" y1="157.65" x2="42.93" y2="154.17" stroke="#8a8a8a" stroke-width="0.6" stroke-opacity="1"/>
<line x1="49.69" y1="161.76" x2="51.64" y2="159.87" stroke="#8a8a8a" stroke-width="0.6" stroke-opacity="1"/>
<line x1="60.30" y1="165.94" x2="62.23" y2="164.02" stroke="#8a8a8a" stroke-width="0.6" stroke-opacity="1"/>
<line x1="71.07" y1="170.18" x2="72.98" y2="168.23" stroke="#8a8a8a" stroke-width="0.6" stroke-opacity="1"/>
<line x1="82.02" y1="174.49" x2="83.90" y2="172.51" stroke="#8a8a8a" stroke-width="0.6" stroke-opacity="1"/>
<line x1="93.14" y1="178.87" x2="96.62" y2="175.11" stroke="#8a8a8a" stroke-width="0.6" stroke-opacity="1"/>
<line x1="104.43" y1="183.31" x2="106.27" y2="181.27" stroke="#8a8a8a" stroke-width="0.6" stroke-opacity="1"/>
<line x1="115.91" y1="187.83" x2="117.73" y2="185.76" stroke="#8a8a8a" stroke-width="0.6" stroke-opacity="1"/>
<line x1="127.58" y1="192.43" x2="129.37" y2="190.32" stroke="#8a8a8a" stroke-width="0.6" stroke-opacity="1"/>
<line x1="139.44" y1="197.10" x2="141.20" y2="194.95" stroke="#8a8a8a" stroke-width="0.6" stroke-opacity="1"/>
<line x1="151.50" y1="201.84" x2="154.74" y2="197.77" stroke="#8a8a8a" stroke-width="0.6" stroke-opacity="1"/>
<line x1="163.76" y1="206.67" x2="165.46" y2="204.46" stroke="#8a8a8a" stroke-width="0.6" stroke-opacity="1"/>
<line x1="176.23" y1="211.58" x2="177.90" y2="209.33" stroke="#8a8a8a" stroke-width="0.6" stroke-opacity="1"/>
<line x1="188.91" y1="216.57" x2="190.55" y2="214.28" stroke="#8a8a8a" stroke-width="0.6" stroke-opacity="1"/>
<line x1="201.81" y1="221.65" x2="203.41" y2="219.32" stroke="#8a8a8a" stroke-width="0.6" stroke-opacity="1"/>
<line x1="214.93" y1="226.81" x2="217.87" y2="222.40" stroke="#8a8a8a" stroke-width="0.6" stroke-opacity="1"/>
<line x1="35.76" y1="154.52" x2="37.86" y2="155.35" stroke="#8a8a8a" stroke-width="0.6" stroke-opacity="1"/>
<line x1="35.10" y1="150.37" x2="37.21" y2="151.19" stroke="#8a8a8a" stroke-width="0.6" stroke-opacity="1"/>
<line x1="34.44" y1="146.18" x2="38.03" y2="147.57" stroke="#8a8a8a" stroke-width="0.6" stroke-opacity="1"/>
<line x1="33.77" y1="141.95" x2="35.90" y2="142.77" stroke="#8a8a8a" stroke-width="0.6" stroke-opacity="1"/>
<line x1="33.09" y1="137.69" x2="35.23" y2="138.50" stroke="#8a8a8a" stroke-width="0.6" stroke-opacity="1"/>
<line x1="32.41" y1="133.38" x2="34.56" y2="134.19" stroke="#8a8a8a" stroke-width="0.6" stroke-opacity="1"/>
<line x1="31.72" y1="129.02" x2="33.88" y2="129.83" stroke="#8a8a8a" stroke-width="0.6" stroke-opacity="1"/>
<line x1="31.02" y1="124.63" x2="34.69" y2="125.99" stroke="#8a8a8a" stroke-width="0.6" stroke-opacity="1"/>
<line x1="30.32" y1="120.19" x2="32.50" y2="121.00" stroke="#8a8a8a" stroke-width="0.6" stroke-opacity="1"/>
<line x1="29.61" y1="115.72" x2="31.80" y2="116.51" stroke="#8a8a8a" stroke-width="0.6" stroke-opacity="1"/>
<line x1="28.90" y1="111.19" x2="31.09" y2="111.99" stroke="#8a8a8a" stroke-width="0.6" stroke-opacity="1"/>
<line x1="28.17" y1="106.62" x2="30.37" y2="107.41" stroke="#8a8a8a" stroke-width="0.6" stroke-opacity="1"/>
<line x1="27.44" y1="102.01" x2="31.19" y2="103.34" stroke="#8a8a8a" stroke-width="0.6" stroke-opacity="1"/>
<line x1="26.70" y1="97.35" x2="28.92" y2="98.14" stroke="#8a8a8a" stroke-width="0.6" stroke-opacity="1"/>
<line x1="25.96" y1="92.65" x2="28.19" y2="93.43" stroke="#8a8a8a" stroke-width="0.6" stroke-opacity="1"/>
<line x1="221.02" y1="225.39" x2="216.48" y2="223.61" stroke="#8a8a8a" stroke-width="0.6" stroke-opacity="1"/>
<line x1="230.12" y1="211.54" x2="227.47" y2="210.54" stroke="#8a8a8a" stroke-width="0.6" stroke-opacity="1"/>
<line x1="238.83" y1="198.29" x2="236.22" y2="197.33" stroke="#8a8a8a" stroke-width="0.6" stroke-opacity="1"/>
<line x1="247.17" y1="185.59" x2="244.61" y2="184.67" stroke="#8a8a8a" stroke-width="0.6" stroke-opacity="1"/>
<line x1="255.17" y1="173.41" x2="252.65" y2="172.53" stroke="#8a8a8a" stroke-width="0.6" stroke-opacity="1"/>
<line x1="262.85" y1="161.72" x2="258.65" y2="160.29" stroke="#8a8a8a" stroke-width="0.6" stroke-opacity="1"/>
<line x1="270.22" y1="150.49" x2="267.78" y2="149.68" stroke="#8a8a8a" stroke-width="0.6" stroke-opacity="1"/>
<line x1="277.32" y1="139.70" x2="274.91" y2="138.92" stroke="#8a8a8a" stroke-width="0.6" stroke-opacity="1"/>
<line x1="284.14" y1="129.31" x2="281.76" y2="128.56" stroke="#8a8a8a" stroke-width="0.6" stroke-opacity="1"/>
<line x1="290.71" y1="119.31" x2="288.37" y2="118.59" stroke="#8a8a8a" stroke-width="0.6" stroke-opacity="1"/>
<line x1="297.04" y1="109.67" x2="293.14" y2="108.50" stroke="#8a8a8a" stroke-width="0.6" stroke-opacity="1"/>
<text x="31.4" y="168.1" font-size="8.5" text-anchor="middle" fill="#555" font-family="Liberation Sans, sans-serif" >−5</text>
<text x="88.4" y="189.5" font-size="8.5" text-anchor="middle" fill="#555" font-family="Liberation Sans, sans-serif" >0</text>
<text x="147.5" y="212.79999999999998" font-size="8.5" text-anchor="middle" fill="#555" font-family="Liberation Sans, sans-serif" >5</text>
<text x="210.4" y="237.5" font-size="8.5" text-anchor="middle" fill="#555" font-family="Liberation Sans, sans-serif" >10</text>
<text x="230.3" y="231.6" font-size="8.5" text-anchor="middle" fill="#555" font-family="Liberation Sans, sans-serif" >0.0</text>
<text x="272" y="167.29999999999998" font-size="8.5" text-anchor="middle" fill="#555" font-family="Liberation Sans, sans-serif" >0.5</text>
<text x="306.1" y="115.0" font-size="8.5" text-anchor="middle" fill="#555" font-family="Liberation Sans, sans-serif" >1.0</text>
<text x="21.5" y="102.69999999999999" font-size="8.5" text-anchor="middle" fill="#555" font-family="Liberation Sans, sans-serif" >1</text>
<text x="25" y="125.1" font-size="8.5" text-anchor="middle" fill="#555" font-family="Liberation Sans, sans-serif" >0</text>
<text x="25.5" y="146.9" font-size="8.5" text-anchor="middle" fill="#555" font-family="Liberation Sans, sans-serif" >−1</text>
<text x="108.3" y="211.5" font-size="8.5" text-anchor="middle" fill="#111" font-family="Liberation Sans, sans-serif" font-weight="bold">x</text>
<text x="280.7" y="172" font-size="8.5" text-anchor="middle" fill="#111" font-family="Liberation Sans, sans-serif" font-weight="bold">t</text>
<text x="-2.2" y="120.7" font-size="9.8" fill="#111" font-family="Liberation Sans, sans-serif" font-weight="bold"><tspan font-style="italic" dx="0.6" dy="-0.8">P</tspan><tspan font-size="8.2" dx="-0.4" dy="0.8">25</tspan></text>
<rect x="372" y="37" width="313" height="203" fill="#fef4e9"/>
<polygon points="379.50,147.30 389.07,147.30 398.64,147.30 408.21,147.30 417.78,147.30 427.35,147.30 436.92,147.30 446.49,147.30 456.06,147.30 465.63,147.30 466.01,147.30 466.40,147.30 466.78,147.30 467.16,147.30 467.54,147.30 467.93,147.30 468.31,147.30 468.69,147.30 469.08,147.30 469.46,147.30 469.84,147.30 470.22,147.30 470.61,147.30 470.99,147.30 471.37,147.30 471.75,147.30 472.14,147.30 472.52,147.30 472.90,147.30 473.29,147.30 473.67,147.30 474.05,147.30 474.43,147.30 474.82,147.30 475.20,147.30 475.58,147.30 475.97,147.30 476.35,147.30 476.73,147.30 477.11,147.30 477.50,147.30 477.88,147.30 478.26,147.30 478.65,147.30 479.03,147.30 479.41,147.30 479.79,147.30 480.18,147.30 480.56,147.30 480.94,147.30 481.32,147.30 481.71,147.30 482.09,147.30 482.47,147.30 482.86,147.30 483.24,147.30 483.62,147.30 484.00,147.30 484.39,147.30 484.77,147.30 485.15,147.30 485.54,147.30 485.92,147.30 486.30,147.30 486.68,147.30 487.07,147.30 487.45,147.30 487.83,147.30 488.22,147.30 488.60,147.30 488.98,147.30 489.36,147.30 489.75,147.30 490.13,147.30 490.51,147.30 490.89,147.30 491.28,147.30 491.66,147.30 492.04,147.30 492.43,147.30 492.81,147.30 493.19,147.30 493.57,147.30 493.96,147.30 494.34,147.30 494.72,147.30 495.11,147.30 495.49,147.30 495.87,147.30 496.25,147.30 496.64,147.30 497.02,147.30 497.40,147.30 497.79,147.30 498.17,147.30 498.55,147.30 498.93,147.30 499.32,147.30 499.70,147.30 500.08,147.30 500.46,147.30 500.85,147.30 501.23,147.30 501.61,147.30 502.00,147.30 502.38,147.30 502.76,147.30 503.14,147.30 503.53,147.30 503.91,147.30 504.29,147.30 504.68,147.30 505.06,147.30 505.44,147.30 505.82,147.30 506.21,147.30 506.59,147.30 506.97,147.30 507.36,147.30 507.74,147.30 508.12,147.30 508.50,147.30 508.89,147.30 509.27,147.30 509.65,147.30 510.03,147.30 510.42,147.30 510.80,147.30 511.18,147.30 511.57,147.30 511.95,147.30 512.33,147.30 512.71,147.30 513.10,147.30 513.48,147.30 513.86,147.30 514.25,147.30 514.63,147.30 515.01,147.30 515.39,147.30 515.78,147.30 516.16,147.30 516.54,147.30 516.93,147.30 517.31,147.30 517.69,147.30 518.07,147.30 518.46,147.30 518.84,147.30 519.22,147.30 519.60,147.30 519.99,147.30 520.37,147.30 520.75,147.30 521.14,147.30 521.52,147.30 521.90,147.30 522.28,147.30 522.67,147.30 523.05,147.30 523.43,147.30 523.82,147.30 524.20,147.30 524.58,147.30 524.96,147.30 525.35,147.30 525.73,147.30 526.11,147.30 526.50,147.30 526.88,147.30 527.26,147.30 527.64,147.30 528.03,147.30 528.41,147.30 528.79,147.30 529.17,147.30 529.56,147.30 529.94,147.30 530.32,147.30 530.71,147.30 531.09,147.30 531.47,147.30 531.85,147.30 532.24,147.30 532.62,147.30 533.00,147.30 533.39,147.30 533.77,147.30 534.15,147.30 534.53,147.30 534.92,147.30 535.30,147.30 535.68,147.30 536.07,147.30 536.45,147.30 536.83,147.30 537.21,147.30 537.60,147.30 537.98,147.30 538.36,147.30 538.74,147.30 539.13,147.30 539.51,147.30 539.89,147.30 540.28,147.30 540.66,147.30 541.04,147.30 541.42,147.30 541.81,147.30 542.19,147.30 542.57,147.30 542.96,147.30 543.34,147.30 543.72,147.30 544.10,147.30 544.49,147.30 544.87,147.30 545.25,147.30 545.64,147.30 546.02,147.30 546.40,147.30 546.78,147.30 547.17,147.30 547.55,147.30 547.93,147.30 548.31,147.30 548.70,147.30 549.08,147.30 549.46,147.30 549.85,147.30 550.23,147.30 550.61,147.30 550.99,147.30 551.38,147.30 551.76,147.30 552.14,147.30 552.53,147.30 552.91,147.30 553.29,147.30 553.67,147.30 554.06,147.30 554.44,147.30 554.82,147.30 555.21,147.30 555.59,147.30 555.97,147.30 556.35,147.30 556.74,147.30 557.12,147.30 557.50,147.30 557.88,147.30 558.27,147.30 558.65,147.30 559.03,147.30 559.42,147.30 559.80,147.30 560.18,147.30 560.56,147.30 560.95,147.30 561.33,147.30 561.71,147.30 562.10,147.30 562.48,147.30 562.86,147.30 563.24,147.30 563.63,147.30 564.01,147.30 564.39,147.30 564.78,147.30 565.16,147.30 565.54,147.30 565.92,147.30 566.31,147.30 566.69,147.30 567.07,147.30 567.45,147.30 567.84,147.30 568.22,147.30 568.60,147.30 568.99,147.30 569.37,147.30 569.75,147.30 570.13,147.30 570.52,147.30 570.90,147.30 571.28,147.30 571.67,147.30 572.05,147.30 572.43,147.30 572.81,147.30 573.20,147.30 573.58,147.30 573.96,147.30 574.35,147.30 574.73,147.30 575.11,147.30 575.49,147.30 575.88,147.30 576.26,147.30 576.64,147.30 577.02,147.30 577.41,147.30 577.79,147.30 578.17,147.30 578.56,147.30 578.94,147.30 579.32,147.30 579.70,147.30 580.09,147.30 580.47,147.30 590.04,147.30 599.61,147.30 609.18,147.30 618.75,147.30 628.32,147.30 637.89,147.30 647.46,147.30 657.03,147.30 666.60,147.30 666.60,147.30 657.03,147.30 647.46,147.30 637.89,147.30 628.32,147.30 618.75,147.30 609.18,147.30 599.61,147.30 590.04,147.30 580.47,147.30 580.09,147.30 579.70,147.30 579.32,147.30 578.94,147.30 578.56,147.30 578.17,147.30 577.79,147.30 577.41,147.30 577.02,147.30 576.64,147.30 576.26,147.30 575.88,147.30 575.49,147.30 575.11,147.30 574.73,147.30 574.35,147.30 573.96,147.30 573.58,147.30 573.20,147.30 572.81,147.30 572.43,147.30 572.05,147.30 571.67,147.30 571.28,147.30 570.90,147.30 570.52,147.30 570.13,147.30 569.75,147.30 569.37,147.30 568.99,147.30 568.60,147.30 568.22,147.30 567.84,147.30 567.45,147.30 567.07,147.30 566.69,147.30 566.31,147.30 565.92,147.30 565.54,147.30 565.16,147.30 564.78,147.30 564.39,147.30 564.01,147.30 563.63,147.30 563.24,147.30 562.86,147.30 562.48,147.30 562.10,147.30 561.71,147.30 561.33,147.30 560.95,147.30 560.56,147.30 560.18,147.30 559.80,147.30 559.42,147.30 559.03,147.30 558.65,147.30 558.27,147.30 557.88,147.30 557.50,147.30 557.12,147.30 556.74,147.30 556.35,147.30 555.97,147.30 555.59,147.30 555.21,147.30 554.82,147.30 554.44,147.30 554.06,147.30 553.67,147.30 553.29,147.30 552.91,147.30 552.53,147.30 552.14,147.30 551.76,147.30 551.38,147.30 550.99,147.30 550.61,147.30 550.23,147.30 549.85,147.30 549.46,147.30 549.08,147.30 548.70,147.30 548.31,147.30 547.93,147.30 547.55,147.30 547.17,147.30 546.78,147.30 546.40,147.30 546.02,147.30 545.64,147.30 545.25,147.30 544.87,147.30 544.49,147.30 544.10,147.30 543.72,147.30 543.34,147.30 542.96,147.30 542.57,147.30 542.19,147.30 541.81,147.30 541.42,147.30 541.04,147.30 540.66,147.30 540.28,147.30 539.89,147.30 539.51,147.30 539.13,147.30 538.74,147.30 538.36,147.30 537.98,147.30 537.60,147.30 537.21,147.30 536.83,147.30 536.45,147.30 536.07,147.30 535.68,147.30 535.30,147.30 534.92,147.30 534.53,147.30 534.15,147.30 533.77,147.30 533.39,147.30 533.00,147.30 532.62,147.30 532.24,147.30 531.85,147.30 531.47,147.30 531.09,147.30 530.71,147.30 530.32,147.30 529.94,147.30 529.56,147.30 529.17,147.30 528.79,147.30 528.41,147.30 528.03,147.30 527.64,147.30 527.26,147.30 526.88,147.30 526.50,147.30 526.11,147.30 525.73,147.30 525.35,147.30 524.96,147.30 524.58,147.30 524.20,147.30 523.82,147.30 523.43,147.30 523.05,147.30 522.67,147.30 522.28,147.30 521.90,147.30 521.52,147.30 521.14,147.30 520.75,147.30 520.37,147.30 519.99,147.30 519.60,147.30 519.22,147.30 518.84,147.30 518.46,147.30 518.07,147.30 517.69,147.30 517.31,147.30 516.93,147.30 516.54,147.30 516.16,147.30 515.78,147.30 515.39,147.30 515.01,147.30 514.63,147.30 514.25,147.30 513.86,147.30 513.48,147.30 513.10,147.30 512.71,147.30 512.33,147.30 511.95,147.30 511.57,147.30 511.18,147.30 510.80,147.30 510.42,147.30 510.03,147.30 509.65,147.30 509.27,147.30 508.89,147.30 508.50,147.30 508.12,147.30 507.74,147.30 507.36,147.30 506.97,147.30 506.59,147.30 506.21,147.30 505.82,147.30 505.44,147.30 505.06,145.25 504.68,143.20 504.29,141.14 503.91,139.10 503.53,137.06 503.14,135.04 502.76,133.03 502.38,131.04 502.00,129.07 501.61,127.11 501.23,125.18 500.85,123.28 500.46,121.40 500.08,119.55 499.70,117.73 499.32,115.94 498.93,114.18 498.55,112.46 498.17,110.78 497.79,109.13 497.40,107.51 497.02,105.93 496.64,104.40 496.25,102.90 495.87,101.44 495.49,100.01 495.11,98.63 494.72,97.29 494.34,95.98 493.96,94.72 493.57,93.49 493.19,92.31 492.81,91.16 492.43,90.05 492.04,88.97 491.66,87.93 491.28,86.93 490.89,85.96 490.51,85.03 490.13,84.13 489.75,83.27 489.36,82.43 488.98,81.63 488.60,80.86 488.22,80.12 487.83,79.41 487.45,78.72 487.07,78.07 486.68,77.44 486.30,76.83 485.92,76.25 485.54,75.70 485.15,75.16 484.77,74.65 484.39,74.17 484.00,73.70 483.62,73.25 483.24,72.82 482.86,72.41 482.47,72.02 482.09,71.64 481.71,71.28 481.32,70.94 480.94,70.61 480.56,70.30 480.18,70.00 479.79,69.72 479.41,69.44 479.03,69.18 478.65,68.93 478.26,68.70 477.88,68.47 477.50,68.26 477.11,68.05 476.73,67.85 476.35,67.66 475.97,67.49 475.58,67.32 475.20,67.15 474.82,67.00 474.43,66.85 474.05,66.71 473.67,66.57 473.29,66.45 472.90,66.32 472.52,66.21 472.14,66.10 471.75,65.99 471.37,65.89 470.99,65.79 470.61,65.70 470.22,65.62 469.84,65.53 469.46,65.45 469.08,65.38 468.69,65.31 468.31,65.24 467.93,65.17 467.54,65.11 467.16,65.05 466.78,65.00 466.40,64.94 466.01,64.89 465.63,64.84 456.06,64.16 446.49,63.97 436.92,63.91 427.35,63.89 417.78,63.89 408.21,63.89 398.64,63.89 389.07,63.89 379.50,63.89" fill="#a49f9b"/>
<polygon points="379.50,63.89 389.07,63.89 398.64,63.89 408.21,63.89 417.78,63.89 427.35,63.89 436.92,63.91 446.49,63.97 456.06,64.16 465.63,64.84 466.01,64.89 466.40,64.94 466.78,65.00 467.16,65.05 467.54,65.11 467.93,65.17 468.31,65.24 468.69,65.31 469.08,65.38 469.46,65.45 469.84,65.53 470.22,65.62 470.61,65.70 470.99,65.79 471.37,65.89 471.75,65.99 472.14,66.10 472.52,66.21 472.90,66.32 473.29,66.45 473.67,66.57 474.05,66.71 474.43,66.85 474.82,67.00 475.20,67.15 475.58,67.32 475.97,67.49 476.35,67.66 476.73,67.85 477.11,68.05 477.50,68.26 477.88,68.47 478.26,68.70 478.65,68.93 479.03,69.18 479.41,69.44 479.79,69.72 480.18,70.00 480.56,70.30 480.94,70.61 481.32,70.94 481.71,71.28 482.09,71.64 482.47,72.02 482.86,72.41 483.24,72.82 483.62,73.25 484.00,73.70 484.39,74.17 484.77,74.65 485.15,75.16 485.54,75.70 485.92,76.25 486.30,76.83 486.68,77.44 487.07,78.07 487.45,78.72 487.83,79.41 488.22,80.12 488.60,80.86 488.98,81.63 489.36,82.43 489.75,83.27 490.13,84.13 490.51,85.03 490.89,85.96 491.28,86.93 491.66,87.93 492.04,88.97 492.43,90.05 492.81,91.16 493.19,92.31 493.57,93.49 493.96,94.72 494.34,95.98 494.72,97.29 495.11,98.63 495.49,100.01 495.87,101.44 496.25,102.90 496.64,104.40 497.02,105.93 497.40,107.51 497.79,109.13 498.17,110.78 498.55,112.46 498.93,114.18 499.32,115.94 499.70,117.73 500.08,119.55 500.46,121.40 500.85,123.28 501.23,125.18 501.61,127.11 502.00,129.07 502.38,131.04 502.76,133.03 503.14,135.04 503.53,137.06 503.91,139.10 504.29,141.14 504.68,143.20 505.06,145.25 505.44,147.30 505.82,147.30 506.21,147.30 506.59,147.30 506.97,147.30 507.36,147.30 507.74,147.30 508.12,147.30 508.50,147.30 508.89,147.30 509.27,147.30 509.65,147.30 510.03,147.30 510.42,147.30 510.80,147.30 511.18,147.30 511.57,147.30 511.95,147.30 512.33,147.30 512.71,147.30 513.10,147.30 513.48,147.30 513.86,147.30 514.25,147.30 514.63,147.30 515.01,147.30 515.39,147.30 515.78,147.30 516.16,147.30 516.54,147.30 516.93,147.30 517.31,147.30 517.69,147.30 518.07,147.30 518.46,147.30 518.84,147.30 519.22,147.30 519.60,147.30 519.99,147.30 520.37,147.30 520.75,147.30 521.14,147.30 521.52,147.30 521.90,147.30 522.28,147.30 522.67,147.30 523.05,147.30 523.43,147.30 523.82,147.30 524.20,147.30 524.58,147.30 524.96,147.30 525.35,147.30 525.73,147.30 526.11,147.30 526.50,147.30 526.88,147.30 527.26,147.30 527.64,147.30 528.03,147.30 528.41,147.30 528.79,147.30 529.17,147.30 529.56,147.30 529.94,147.30 530.32,147.30 530.71,147.30 531.09,147.30 531.47,147.30 531.85,147.30 532.24,147.30 532.62,147.30 533.00,147.30 533.39,147.30 533.77,147.30 534.15,147.30 534.53,147.30 534.92,147.30 535.30,147.30 535.68,147.30 536.07,147.30 536.45,147.30 536.83,147.30 537.21,147.30 537.60,147.30 537.98,147.30 538.36,147.30 538.74,147.30 539.13,147.30 539.51,147.30 539.89,147.30 540.28,147.30 540.66,147.30 541.04,147.30 541.42,147.30 541.81,147.30 542.19,147.30 542.57,147.30 542.96,147.30 543.34,147.30 543.72,147.30 544.10,147.30 544.49,147.30 544.87,147.30 545.25,147.30 545.64,147.30 546.02,147.30 546.40,147.30 546.78,147.30 547.17,147.30 547.55,147.30 547.93,147.30 548.31,147.30 548.70,147.30 549.08,147.30 549.46,147.30 549.85,147.30 550.23,147.30 550.61,147.30 550.99,147.30 551.38,147.30 551.76,147.30 552.14,147.30 552.53,147.30 552.91,147.30 553.29,147.30 553.67,147.30 554.06,147.30 554.44,147.30 554.82,147.30 555.21,147.30 555.59,147.30 555.97,147.30 556.35,147.30 556.74,147.30 557.12,147.30 557.50,147.30 557.88,147.30 558.27,147.30 558.65,147.30 559.03,147.30 559.42,147.30 559.80,147.30 560.18,147.30 560.56,147.30 560.95,147.30 561.33,147.30 561.71,147.30 562.10,147.30 562.48,147.30 562.86,147.30 563.24,147.30 563.63,147.30 564.01,147.30 564.39,147.30 564.78,147.30 565.16,147.30 565.54,147.30 565.92,147.30 566.31,147.30 566.69,147.30 567.07,147.30 567.45,147.30 567.84,147.30 568.22,147.30 568.60,147.30 568.99,147.30 569.37,147.30 569.75,147.30 570.13,147.30 570.52,147.30 570.90,147.30 571.28,147.30 571.67,147.30 572.05,147.30 572.43,147.30 572.81,147.30 573.20,147.30 573.58,147.30 573.96,147.30 574.35,147.30 574.73,147.30 575.11,147.30 575.49,147.30 575.88,147.30 576.26,147.30 576.64,147.30 577.02,147.30 577.41,147.30 577.79,147.30 578.17,147.30 578.56,147.30 578.94,147.30 579.32,147.30 579.70,147.30 580.09,147.30 580.47,147.30 590.04,147.30 599.61,147.30 609.18,147.30 618.75,147.30 628.32,147.30 637.89,147.30 647.46,147.30 657.03,147.30 666.60,147.30 666.60,147.30 657.03,147.30 647.46,147.30 637.89,147.30 628.32,147.30 618.75,147.30 609.18,147.30 599.61,147.30 590.04,147.30 580.47,147.30 580.09,147.30 579.70,147.30 579.32,147.30 578.94,147.30 578.56,147.30 578.17,147.30 577.79,147.30 577.41,147.30 577.02,147.30 576.64,147.30 576.26,147.30 575.88,147.30 575.49,147.30 575.11,147.30 574.73,147.30 574.35,147.30 573.96,147.30 573.58,147.30 573.20,147.30 572.81,147.30 572.43,147.30 572.05,147.30 571.67,147.30 571.28,147.30 570.90,147.30 570.52,147.30 570.13,147.30 569.75,147.30 569.37,147.30 568.99,147.30 568.60,147.30 568.22,147.30 567.84,147.30 567.45,147.30 567.07,147.30 566.69,147.30 566.31,147.30 565.92,147.30 565.54,147.30 565.16,147.30 564.78,147.30 564.39,147.30 564.01,147.30 563.63,147.30 563.24,147.30 562.86,147.30 562.48,147.30 562.10,147.30 561.71,147.30 561.33,147.30 560.95,147.30 560.56,147.30 560.18,147.30 559.80,147.30 559.42,147.30 559.03,147.30 558.65,147.30 558.27,147.30 557.88,147.30 557.50,147.30 557.12,147.30 556.74,147.30 556.35,147.30 555.97,147.30 555.59,147.30 555.21,147.30 554.82,147.30 554.44,147.30 554.06,147.30 553.67,147.30 553.29,147.30 552.91,147.30 552.53,147.30 552.14,147.30 551.76,147.30 551.38,147.30 550.99,147.30 550.61,147.30 550.23,147.30 549.85,147.30 549.46,147.30 549.08,147.30 548.70,147.30 548.31,147.30 547.93,147.30 547.55,147.30 547.17,147.30 546.78,147.30 546.40,147.30 546.02,147.30 545.64,147.30 545.25,147.30 544.87,147.30 544.49,147.30 544.10,147.30 543.72,147.30 543.34,147.30 542.96,147.30 542.57,147.30 542.19,147.30 541.81,147.30 541.42,147.30 541.04,147.30 540.66,147.30 540.28,147.30 539.89,147.30 539.51,147.30 539.13,147.30 538.74,147.30 538.36,147.30 537.98,147.30 537.60,147.30 537.21,147.30 536.83,147.30 536.45,147.30 536.07,147.30 535.68,147.30 535.30,147.30 534.92,147.30 534.53,147.30 534.15,147.30 533.77,147.30 533.39,147.30 533.00,147.30 532.62,147.30 532.24,147.30 531.85,147.30 531.47,147.30 531.09,147.30 530.71,147.30 530.32,147.30 529.94,147.30 529.56,147.30 529.17,147.30 528.79,147.30 528.41,147.30 528.03,147.30 527.64,147.30 527.26,147.30 526.88,147.30 526.50,147.30 526.11,147.30 525.73,147.30 525.35,147.30 524.96,147.30 524.58,147.30 524.20,147.30 523.82,147.30 523.43,147.30 523.05,147.30 522.67,147.30 522.28,147.30 521.90,147.30 521.52,147.30 521.14,147.30 520.75,147.30 520.37,147.30 519.99,147.30 519.60,147.30 519.22,147.30 518.84,147.30 518.46,147.30 518.07,147.30 517.69,147.30 517.31,147.30 516.93,147.30 516.54,147.30 516.16,147.30 515.78,147.30 515.39,147.30 515.01,147.30 514.63,147.30 514.25,147.30 513.86,147.30 513.48,147.30 513.10,147.30 512.71,147.30 512.33,147.30 511.95,147.30 511.57,147.30 511.18,147.30 510.80,147.30 510.42,147.30 510.03,147.30 509.65,147.30 509.27,147.30 508.89,145.86 508.50,143.79 508.12,141.71 507.74,139.65 507.36,137.59 506.97,135.55 506.59,133.52 506.21,131.50 505.82,129.51 505.44,127.53 505.06,125.58 504.68,123.65 504.29,121.75 503.91,119.88 503.53,118.04 503.14,116.23 502.76,114.45 502.38,112.71 502.00,111.00 501.61,109.33 501.23,107.70 500.85,106.11 500.46,104.55 500.08,103.03 499.70,101.56 499.32,100.12 498.93,98.72 498.55,97.36 498.17,96.05 497.79,94.77 497.40,93.53 497.02,92.33 496.64,91.17 496.25,90.05 495.87,88.96 495.49,87.92 495.11,86.91 494.72,85.93 494.34,84.99 493.96,84.09 493.57,83.22 493.19,82.38 492.81,81.57 492.43,80.80 492.04,80.05 491.66,79.34 491.28,78.65 490.89,77.99 490.51,77.36 490.13,76.75 489.75,76.17 489.36,75.61 488.98,75.08 488.60,74.57 488.22,74.08 487.83,73.61 487.45,73.16 487.07,72.73 486.68,72.32 486.30,71.93 485.92,71.56 485.54,71.20 485.15,70.86 484.77,70.53 484.39,70.22 484.00,69.92 483.62,69.64 483.24,69.36 482.86,69.11 482.47,68.86 482.09,68.62 481.71,68.40 481.32,68.18 480.94,67.98 480.56,67.78 480.18,67.60 479.79,67.42 479.41,67.25 479.03,67.09 478.65,66.94 478.26,66.79 477.88,66.65 477.50,66.52 477.11,66.39 476.73,66.27 476.35,66.16 475.97,66.05 475.58,65.94 475.20,65.84 474.82,65.75 474.43,65.66 474.05,65.57 473.67,65.49 473.29,65.41 472.90,65.34 472.52,65.27 472.14,65.20 471.75,65.14 471.37,65.08 470.99,65.02 470.61,64.97 470.22,64.91 469.84,64.86 469.46,64.82 469.08,64.77 468.69,64.73 468.31,64.69 467.93,64.65 467.54,64.61 467.16,64.58 466.78,64.54 466.40,64.51 466.01,64.48 465.63,64.45 456.06,64.05 446.49,63.93 436.92,63.90 427.35,63.89 417.78,63.89 408.21,63.89 398.64,63.89 389.07,63.89 379.50,63.89" fill="#c4b6bc"/>
<polygon points="379.50,63.89 389.07,63.89 398.64,63.89 408.21,63.89 417.78,63.89 427.35,63.89 436.92,63.90 446.49,63.93 456.06,64.05 465.63,64.45 466.01,64.48 466.40,64.51 466.78,64.54 467.16,64.58 467.54,64.61 467.93,64.65 468.31,64.69 468.69,64.73 469.08,64.77 469.46,64.82 469.84,64.86 470.22,64.91 470.61,64.97 470.99,65.02 471.37,65.08 471.75,65.14 472.14,65.20 472.52,65.27 472.90,65.34 473.29,65.41 473.67,65.49 474.05,65.57 474.43,65.66 474.82,65.75 475.20,65.84 475.58,65.94 475.97,66.05 476.35,66.16 476.73,66.27 477.11,66.39 477.50,66.52 477.88,66.65 478.26,66.79 478.65,66.94 479.03,67.09 479.41,67.25 479.79,67.42 480.18,67.60 480.56,67.78 480.94,67.98 481.32,68.18 481.71,68.40 482.09,68.62 482.47,68.86 482.86,69.11 483.24,69.36 483.62,69.64 484.00,69.92 484.39,70.22 484.77,70.53 485.15,70.86 485.54,71.20 485.92,71.56 486.30,71.93 486.68,72.32 487.07,72.73 487.45,73.16 487.83,73.61 488.22,74.08 488.60,74.57 488.98,75.08 489.36,75.61 489.75,76.17 490.13,76.75 490.51,77.36 490.89,77.99 491.28,78.65 491.66,79.34 492.04,80.05 492.43,80.80 492.81,81.57 493.19,82.38 493.57,83.22 493.96,84.09 494.34,84.99 494.72,85.93 495.11,86.91 495.49,87.92 495.87,88.96 496.25,90.05 496.64,91.17 497.02,92.33 497.40,93.53 497.79,94.77 498.17,96.05 498.55,97.36 498.93,98.72 499.32,100.12 499.70,101.56 500.08,103.03 500.46,104.55 500.85,106.11 501.23,107.70 501.61,109.33 502.00,111.00 502.38,112.71 502.76,114.45 503.14,116.23 503.53,118.04 503.91,119.88 504.29,121.75 504.68,123.65 505.06,125.58 505.44,127.53 505.82,129.51 506.21,131.50 506.59,133.52 506.97,135.55 507.36,137.59 507.74,139.65 508.12,141.71 508.50,143.79 508.89,145.86 509.27,147.30 509.65,147.30 510.03,147.30 510.42,147.30 510.80,147.30 511.18,147.30 511.57,147.30 511.95,147.30 512.33,147.30 512.71,147.30 513.10,147.30 513.48,147.30 513.86,147.30 514.25,147.30 514.63,147.30 515.01,147.30 515.39,147.30 515.78,147.30 516.16,147.30 516.54,147.30 516.93,147.30 517.31,147.30 517.69,147.30 518.07,147.30 518.46,147.30 518.84,147.30 519.22,147.30 519.60,147.30 519.99,147.30 520.37,147.30 520.75,147.30 521.14,147.30 521.52,147.30 521.90,147.30 522.28,147.30 522.67,147.30 523.05,147.30 523.43,147.30 523.82,147.30 524.20,147.30 524.58,147.30 524.96,147.30 525.35,147.30 525.73,147.30 526.11,147.30 526.50,147.30 526.88,147.30 527.26,147.30 527.64,147.30 528.03,147.30 528.41,147.30 528.79,147.30 529.17,147.30 529.56,147.30 529.94,147.30 530.32,147.30 530.71,147.30 531.09,147.30 531.47,147.30 531.85,147.30 532.24,147.30 532.62,147.30 533.00,147.30 533.39,147.30 533.77,147.30 534.15,147.30 534.53,147.30 534.92,147.30 535.30,147.30 535.68,147.30 536.07,147.30 536.45,147.30 536.83,147.30 537.21,147.30 537.60,147.30 537.98,147.30 538.36,147.30 538.74,147.30 539.13,147.30 539.51,147.30 539.89,147.30 540.28,147.30 540.66,147.30 541.04,147.30 541.42,147.30 541.81,147.30 542.19,147.30 542.57,147.30 542.96,147.30 543.34,147.30 543.72,147.30 544.10,147.30 544.49,147.30 544.87,147.30 545.25,147.30 545.64,147.30 546.02,147.30 546.40,147.30 546.78,147.30 547.17,147.30 547.55,147.30 547.93,147.30 548.31,147.30 548.70,147.30 549.08,147.30 549.46,147.30 549.85,147.30 550.23,147.30 550.61,147.30 550.99,147.30 551.38,147.30 551.76,147.30 552.14,147.30 552.53,147.30 552.91,147.30 553.29,147.30 553.67,147.30 554.06,147.30 554.44,147.30 554.82,147.30 555.21,147.30 555.59,147.30 555.97,147.30 556.35,147.30 556.74,147.30 557.12,147.30 557.50,147.30 557.88,147.30 558.27,147.30 558.65,147.30 559.03,147.30 559.42,147.30 559.80,147.30 560.18,147.30 560.56,147.30 560.95,147.30 561.33,147.30 561.71,147.30 562.10,147.30 562.48,147.30 562.86,147.30 563.24,147.30 563.63,147.30 564.01,147.30 564.39,147.30 564.78,147.30 565.16,147.30 565.54,147.30 565.92,147.30 566.31,147.30 566.69,147.30 567.07,147.30 567.45,147.30 567.84,147.30 568.22,147.30 568.60,147.30 568.99,147.30 569.37,147.30 569.75,147.30 570.13,147.30 570.52,147.30 570.90,147.30 571.28,147.30 571.67,147.30 572.05,147.30 572.43,147.30 572.81,147.30 573.20,147.30 573.58,147.30 573.96,147.30 574.35,147.30 574.73,147.30 575.11,147.30 575.49,147.30 575.88,147.30 576.26,147.30 576.64,147.30 577.02,147.30 577.41,147.30 577.79,147.30 578.17,147.30 578.56,147.30 578.94,147.30 579.32,147.30 579.70,147.30 580.09,147.30 580.47,147.30 590.04,147.30 599.61,147.30 609.18,147.30 618.75,147.30 628.32,147.30 637.89,147.30 647.46,147.30 657.03,147.30 666.60,147.30 666.60,147.30 657.03,147.30 647.46,147.30 637.89,147.30 628.32,147.30 618.75,147.30 609.18,147.30 599.61,147.30 590.04,147.30 580.47,147.30 580.09,147.30 579.70,147.30 579.32,147.30 578.94,147.30 578.56,147.30 578.17,147.30 577.79,147.30 577.41,147.30 577.02,147.30 576.64,147.30 576.26,147.30 575.88,147.30 575.49,147.30 575.11,147.30 574.73,147.30 574.35,147.30 573.96,147.30 573.58,147.30 573.20,147.30 572.81,147.30 572.43,147.30 572.05,147.30 571.67,147.30 571.28,147.30 570.90,147.30 570.52,147.30 570.13,147.30 569.75,147.30 569.37,147.30 568.99,147.30 568.60,147.30 568.22,147.30 567.84,147.30 567.45,147.30 567.07,147.30 566.69,147.30 566.31,147.30 565.92,147.30 565.54,147.30 565.16,147.30 564.78,147.30 564.39,147.30 564.01,147.30 563.63,147.30 563.24,147.30 562.86,147.30 562.48,147.30 562.10,147.30 561.71,147.30 561.33,147.30 560.95,147.30 560.56,147.30 560.18,147.30 559.80,147.30 559.42,147.30 559.03,147.30 558.65,147.30 558.27,147.30 557.88,147.30 557.50,147.30 557.12,147.30 556.74,147.30 556.35,147.30 555.97,147.30 555.59,147.30 555.21,147.30 554.82,147.30 554.44,147.30 554.06,147.30 553.67,147.30 553.29,147.30 552.91,147.30 552.53,147.30 552.14,147.30 551.76,147.30 551.38,147.30 550.99,147.30 550.61,147.30 550.23,147.30 549.85,147.30 549.46,147.30 549.08,147.30 548.70,147.30 548.31,147.30 547.93,147.30 547.55,147.30 547.17,147.30 546.78,147.30 546.40,147.30 546.02,147.30 545.64,147.30 545.25,147.30 544.87,147.30 544.49,147.30 544.10,147.30 543.72,147.30 543.34,147.30 542.96,147.30 542.57,147.30 542.19,147.30 541.81,147.30 541.42,147.30 541.04,147.30 540.66,147.30 540.28,147.30 539.89,147.30 539.51,147.30 539.13,147.30 538.74,147.30 538.36,147.30 537.98,147.30 537.60,147.30 537.21,147.30 536.83,147.30 536.45,147.30 536.07,147.30 535.68,147.30 535.30,147.30 534.92,147.30 534.53,147.30 534.15,147.30 533.77,147.30 533.39,147.30 533.00,147.30 532.62,147.30 532.24,147.30 531.85,147.30 531.47,147.30 531.09,147.30 530.71,147.30 530.32,144.78 529.94,142.67 529.56,140.56 529.17,138.46 528.79,136.36 528.41,134.29 528.03,132.23 527.64,130.18 527.26,128.16 526.88,126.16 526.50,124.19 526.11,122.24 525.73,120.33 525.35,118.44 524.96,116.59 524.58,114.77 524.20,112.99 523.82,111.24 523.43,109.53 523.05,107.86 522.67,106.23 522.28,104.64 521.90,103.09 521.52,101.58 521.14,100.12 520.75,98.69 520.37,97.31 519.99,95.97 519.60,94.67 519.22,93.41 518.84,92.19 518.46,91.01 518.07,89.87 517.69,88.77 517.31,87.71 516.93,86.69 516.54,85.70 516.16,84.76 515.78,83.84 515.39,82.96 515.01,82.12 514.63,81.31 514.25,80.53 513.86,79.78 513.48,79.06 513.10,78.37 512.71,77.71 512.33,77.08 511.95,76.47 511.57,75.89 511.18,75.33 510.80,74.80 510.42,74.29 510.03,73.80 509.65,73.34 509.27,72.89 508.89,72.47 508.50,72.06 508.12,71.67 507.74,71.30 507.36,70.95 506.97,70.61 506.59,70.29 506.21,69.98 505.82,69.69 505.44,69.41 505.06,69.15 504.68,68.89 504.29,68.65 503.91,68.42 503.53,68.20 503.14,67.99 502.76,67.79 502.38,67.60 502.00,67.42 501.61,67.25 501.23,67.08 500.85,66.93 500.46,66.78 500.08,66.64 499.70,66.50 499.32,66.37 498.93,66.25 498.55,66.14 498.17,66.03 497.79,65.92 497.40,65.82 497.02,65.73 496.64,65.63 496.25,65.55 495.87,65.47 495.49,65.39 495.11,65.31 494.72,65.24 494.34,65.18 493.96,65.11 493.57,65.05 493.19,64.99 492.81,64.94 492.43,64.89 492.04,64.84 491.66,64.79 491.28,64.75 490.89,64.70 490.51,64.66 490.13,64.62 489.75,64.59 489.36,64.55 488.98,64.52 488.60,64.49 488.22,64.46 487.83,64.43 487.45,64.40 487.07,64.38 486.68,64.35 486.30,64.33 485.92,64.31 485.54,64.29 485.15,64.27 484.77,64.25 484.39,64.23 484.00,64.21 483.62,64.20 483.24,64.18 482.86,64.17 482.47,64.15 482.09,64.14 481.71,64.13 481.32,64.11 480.94,64.10 480.56,64.09 480.18,64.08 479.79,64.07 479.41,64.06 479.03,64.05 478.65,64.05 478.26,64.04 477.88,64.03 477.50,64.02 477.11,64.02 476.73,64.01 476.35,64.00 475.97,64.00 475.58,63.99 475.20,63.99 474.82,63.98 474.43,63.98 474.05,63.97 473.67,63.97 473.29,63.96 472.90,63.96 472.52,63.96 472.14,63.95 471.75,63.95 471.37,63.95 470.99,63.94 470.61,63.94 470.22,63.94 469.84,63.94 469.46,63.93 469.08,63.93 468.69,63.93 468.31,63.93 467.93,63.92 467.54,63.92 467.16,63.92 466.78,63.92 466.40,63.92 466.01,63.92 465.63,63.91 456.06,63.89 446.49,63.89 436.92,63.89 427.35,63.89 417.78,63.89 408.21,63.89 398.64,63.89 389.07,63.89 379.50,63.89" fill="#e5c4d8"/>
<polygon points="379.50,147.30 389.07,147.30 398.64,147.30 408.21,147.30 417.78,147.30 427.35,147.30 436.92,147.30 446.49,147.30 456.06,147.30 465.63,147.30 466.01,147.30 466.40,147.30 466.78,147.30 467.16,147.30 467.54,147.30 467.93,147.30 468.31,147.30 468.69,147.30 469.08,147.30 469.46,147.30 469.84,147.30 470.22,147.30 470.61,147.30 470.99,147.30 471.37,147.30 471.75,147.30 472.14,147.30 472.52,147.30 472.90,147.30 473.29,147.30 473.67,147.30 474.05,147.30 474.43,147.30 474.82,147.30 475.20,147.30 475.58,147.30 475.97,147.30 476.35,147.30 476.73,147.30 477.11,147.30 477.50,147.30 477.88,147.30 478.26,147.30 478.65,147.30 479.03,147.30 479.41,147.30 479.79,147.30 480.18,147.30 480.56,147.30 480.94,147.30 481.32,147.30 481.71,147.30 482.09,147.30 482.47,147.30 482.86,147.30 483.24,147.30 483.62,147.30 484.00,147.30 484.39,147.30 484.77,147.30 485.15,147.30 485.54,147.30 485.92,147.30 486.30,147.30 486.68,147.30 487.07,147.30 487.45,147.30 487.83,147.30 488.22,147.30 488.60,147.30 488.98,147.30 489.36,147.30 489.75,147.30 490.13,147.30 490.51,147.30 490.89,147.30 491.28,147.30 491.66,147.30 492.04,147.30 492.43,147.30 492.81,147.30 493.19,147.30 493.57,147.30 493.96,147.30 494.34,147.30 494.72,147.30 495.11,147.30 495.49,147.30 495.87,147.30 496.25,147.30 496.64,147.30 497.02,147.30 497.40,147.30 497.79,147.30 498.17,147.30 498.55,147.30 498.93,147.30 499.32,147.30 499.70,147.30 500.08,147.30 500.46,147.30 500.85,147.30 501.23,147.30 501.61,147.30 502.00,147.30 502.38,147.30 502.76,147.30 503.14,147.30 503.53,147.30 503.91,147.30 504.29,147.30 504.68,147.30 505.06,147.30 505.44,147.30 505.82,147.30 506.21,147.30 506.59,147.30 506.97,147.30 507.36,147.30 507.74,147.30 508.12,147.30 508.50,147.30 508.89,147.30 509.27,147.30 509.65,147.30 510.03,147.30 510.42,147.30 510.80,147.30 511.18,147.30 511.57,147.30 511.95,147.30 512.33,147.30 512.71,147.30 513.10,147.30 513.48,147.30 513.86,147.30 514.25,147.30 514.63,147.30 515.01,147.30 515.39,147.30 515.78,147.30 516.16,147.30 516.54,147.30 516.93,147.30 517.31,147.30 517.69,147.30 518.07,147.30 518.46,147.30 518.84,147.30 519.22,147.30 519.60,147.30 519.99,147.30 520.37,147.30 520.75,147.30 521.14,147.30 521.52,147.30 521.90,147.30 522.28,147.30 522.67,147.30 523.05,147.30 523.43,147.30 523.82,147.30 524.20,147.30 524.58,147.30 524.96,147.30 525.35,147.30 525.73,147.30 526.11,147.30 526.50,147.30 526.88,147.30 527.26,147.30 527.64,147.30 528.03,147.30 528.41,147.30 528.79,147.30 529.17,147.30 529.56,147.30 529.94,147.30 530.32,147.30 530.71,147.30 531.09,147.30 531.47,147.30 531.85,147.30 532.24,147.30 532.62,147.30 533.00,147.30 533.39,147.30 533.77,147.30 534.15,147.30 534.53,147.30 534.92,147.30 535.30,147.30 535.68,147.30 536.07,147.30 536.45,147.30 536.83,147.30 537.21,147.30 537.60,147.30 537.98,147.30 538.36,147.30 538.74,147.30 539.13,147.30 539.51,147.30 539.89,147.30 540.28,147.30 540.66,147.30 541.04,147.30 541.42,147.30 541.81,147.30 542.19,147.30 542.57,147.30 542.96,147.30 543.34,147.30 543.72,147.30 544.10,147.30 544.49,147.30 544.87,147.30 545.25,147.30 545.64,147.30 546.02,147.30 546.40,147.30 546.78,147.30 547.17,147.30 547.55,147.30 547.93,147.30 548.31,147.30 548.70,147.30 549.08,147.30 549.46,147.30 549.85,147.30 550.23,147.30 550.61,147.30 550.99,147.30 551.38,147.30 551.76,147.30 552.14,147.30 552.53,147.30 552.91,147.30 553.29,147.30 553.67,147.30 554.06,147.30 554.44,147.30 554.82,147.30 555.21,147.30 555.59,147.30 555.97,147.30 556.35,147.30 556.74,147.30 557.12,147.30 557.50,147.30 557.88,147.30 558.27,147.30 558.65,147.30 559.03,147.30 559.42,147.30 559.80,147.30 560.18,147.30 560.56,147.30 560.95,147.30 561.33,147.30 561.71,147.30 562.10,147.30 562.48,147.30 562.86,147.30 563.24,147.30 563.63,147.30 564.01,147.30 564.39,147.30 564.78,147.30 565.16,147.30 565.54,147.30 565.92,147.30 566.31,147.30 566.69,147.30 567.07,147.30 567.45,147.30 567.84,147.30 568.22,147.30 568.60,147.30 568.99,147.30 569.37,147.30 569.75,147.30 570.13,147.30 570.52,147.30 570.90,147.30 571.28,147.30 571.67,147.30 572.05,147.30 572.43,147.30 572.81,147.30 573.20,147.30 573.58,147.30 573.96,147.30 574.35,147.30 574.73,147.30 575.11,147.30 575.49,147.30 575.88,147.30 576.26,147.30 576.64,147.30 577.02,147.30 577.41,147.30 577.79,147.30 578.17,147.30 578.56,147.30 578.94,147.30 579.32,147.30 579.70,147.30 580.09,147.30 580.47,147.30 590.04,147.30 599.61,147.30 609.18,147.30 618.75,147.30 628.32,147.30 637.89,147.30 647.46,147.30 657.03,147.30 666.60,147.30 666.60,229.91 657.03,229.91 647.46,229.91 637.89,229.91 628.32,229.91 618.75,229.91 609.18,229.91 599.61,229.90 590.04,229.87 580.47,229.75 580.09,229.74 579.70,229.73 579.32,229.72 578.94,229.71 578.56,229.70 578.17,229.69 577.79,229.68 577.41,229.66 577.02,229.65 576.64,229.64 576.26,229.62 575.88,229.60 575.49,229.59 575.11,229.57 574.73,229.55 574.35,229.53 573.96,229.51 573.58,229.49 573.20,229.47 572.81,229.44 572.43,229.41 572.05,229.39 571.67,229.36 571.28,229.33 570.90,229.30 570.52,229.26 570.13,229.23 569.75,229.19 569.37,229.15 568.99,229.11 568.60,229.07 568.22,229.02 567.84,228.97 567.45,228.92 567.07,228.87 566.69,228.81 566.31,228.75 565.92,228.68 565.54,228.62 565.16,228.55 564.78,228.47 564.39,228.40 564.01,228.31 563.63,228.23 563.24,228.14 562.86,228.04 562.48,227.94 562.10,227.83 561.71,227.72 561.33,227.60 560.95,227.48 560.56,227.34 560.18,227.21 559.80,227.06 559.42,226.91 559.03,226.75 558.65,226.58 558.27,226.40 557.88,226.21 557.50,226.01 557.12,225.80 556.74,225.58 556.35,225.35 555.97,225.11 555.59,224.86 555.21,224.59 554.82,224.31 554.44,224.01 554.06,223.70 553.67,223.38 553.29,223.03 552.91,222.67 552.53,222.30 552.14,221.90 551.76,221.48 551.38,221.05 550.99,220.59 550.61,220.11 550.23,219.61 549.85,219.08 549.46,218.53 549.08,217.95 548.70,217.35 548.31,216.71 547.93,216.05 547.55,215.36 547.17,214.64 546.78,213.88 546.40,213.10 546.02,212.27 545.64,211.42 545.25,210.52 544.87,209.59 544.49,208.62 544.10,207.62 543.72,206.57 543.34,205.48 542.96,204.35 542.57,203.18 542.19,201.96 541.81,200.70 541.42,199.40 541.04,198.05 540.66,196.65 540.28,195.22 539.89,193.73 539.51,192.20 539.13,190.63 538.74,189.01 538.36,187.35 537.98,185.64 537.60,183.89 537.21,182.10 536.83,180.26 536.45,178.39 536.07,176.48 535.68,174.53 535.30,172.55 534.92,170.54 534.53,168.49 534.15,166.42 533.77,164.32 533.39,162.19 533.00,160.05 532.62,157.88 532.24,155.71 531.85,153.52 531.47,151.32 531.09,149.11 530.71,147.30 530.32,147.30 529.94,147.30 529.56,147.30 529.17,147.30 528.79,147.30 528.41,147.30 528.03,147.30 527.64,147.30 527.26,147.30 526.88,147.30 526.50,147.30 526.11,147.30 525.73,147.30 525.35,147.30 524.96,147.30 524.58,147.30 524.20,147.30 523.82,147.30 523.43,147.30 523.05,147.30 522.67,147.30 522.28,147.30 521.90,147.30 521.52,147.30 521.14,147.30 520.75,147.30 520.37,147.30 519.99,147.30 519.60,147.30 519.22,147.30 518.84,147.30 518.46,147.30 518.07,147.30 517.69,147.30 517.31,147.30 516.93,147.30 516.54,147.30 516.16,147.30 515.78,147.30 515.39,147.30 515.01,147.30 514.63,147.30 514.25,147.30 513.86,147.30 513.48,147.30 513.10,147.30 512.71,147.30 512.33,147.30 511.95,147.30 511.57,147.30 511.18,147.30 510.80,147.30 510.42,147.30 510.03,147.30 509.65,147.30 509.27,147.30 508.89,147.30 508.50,147.30 508.12,147.30 507.74,147.30 507.36,147.30 506.97,147.30 506.59,147.30 506.21,147.30 505.82,147.30 505.44,147.30 505.06,147.30 504.68,147.30 504.29,147.30 503.91,147.30 503.53,147.30 503.14,147.30 502.76,147.30 502.38,147.30 502.00,147.30 501.61,147.30 501.23,147.30 500.85,147.30 500.46,147.30 500.08,147.30 499.70,147.30 499.32,147.30 498.93,147.30 498.55,147.30 498.17,147.30 497.79,147.30 497.40,147.30 497.02,147.30 496.64,147.30 496.25,147.30 495.87,147.30 495.49,147.30 495.11,147.30 494.72,147.30 494.34,147.30 493.96,147.30 493.57,147.30 493.19,147.30 492.81,147.30 492.43,147.30 492.04,147.30 491.66,147.30 491.28,147.30 490.89,147.30 490.51,147.30 490.13,147.30 489.75,147.30 489.36,147.30 488.98,147.30 488.60,147.30 488.22,147.30 487.83,147.30 487.45,147.30 487.07,147.30 486.68,147.30 486.30,147.30 485.92,147.30 485.54,147.30 485.15,147.30 484.77,147.30 484.39,147.30 484.00,147.30 483.62,147.30 483.24,147.30 482.86,147.30 482.47,147.30 482.09,147.30 481.71,147.30 481.32,147.30 480.94,147.30 480.56,147.30 480.18,147.30 479.79,147.30 479.41,147.30 479.03,147.30 478.65,147.30 478.26,147.30 477.88,147.30 477.50,147.30 477.11,147.30 476.73,147.30 476.35,147.30 475.97,147.30 475.58,147.30 475.20,147.30 474.82,147.30 474.43,147.30 474.05,147.30 473.67,147.30 473.29,147.30 472.90,147.30 472.52,147.30 472.14,147.30 471.75,147.30 471.37,147.30 470.99,147.30 470.61,147.30 470.22,147.30 469.84,147.30 469.46,147.30 469.08,147.30 468.69,147.30 468.31,147.30 467.93,147.30 467.54,147.30 467.16,147.30 466.78,147.30 466.40,147.30 466.01,147.30 465.63,147.30 456.06,147.30 446.49,147.30 436.92,147.30 427.35,147.30 417.78,147.30 408.21,147.30 398.64,147.30 389.07,147.30 379.50,147.30" fill="#a49f9b"/>
<polygon points="379.50,147.30 389.07,147.30 398.64,147.30 408.21,147.30 417.78,147.30 427.35,147.30 436.92,147.30 446.49,147.30 456.06,147.30 465.63,147.30 466.01,147.30 466.40,147.30 466.78,147.30 467.16,147.30 467.54,147.30 467.93,147.30 468.31,147.30 468.69,147.30 469.08,147.30 469.46,147.30 469.84,147.30 470.22,147.30 470.61,147.30 470.99,147.30 471.37,147.30 471.75,147.30 472.14,147.30 472.52,147.30 472.90,147.30 473.29,147.30 473.67,147.30 474.05,147.30 474.43,147.30 474.82,147.30 475.20,147.30 475.58,147.30 475.97,147.30 476.35,147.30 476.73,147.30 477.11,147.30 477.50,147.30 477.88,147.30 478.26,147.30 478.65,147.30 479.03,147.30 479.41,147.30 479.79,147.30 480.18,147.30 480.56,147.30 480.94,147.30 481.32,147.30 481.71,147.30 482.09,147.30 482.47,147.30 482.86,147.30 483.24,147.30 483.62,147.30 484.00,147.30 484.39,147.30 484.77,147.30 485.15,147.30 485.54,147.30 485.92,147.30 486.30,147.30 486.68,147.30 487.07,147.30 487.45,147.30 487.83,147.30 488.22,147.30 488.60,147.30 488.98,147.30 489.36,147.30 489.75,147.30 490.13,147.30 490.51,147.30 490.89,147.30 491.28,147.30 491.66,147.30 492.04,147.30 492.43,147.30 492.81,147.30 493.19,147.30 493.57,147.30 493.96,147.30 494.34,147.30 494.72,147.30 495.11,147.30 495.49,147.30 495.87,147.30 496.25,147.30 496.64,147.30 497.02,147.30 497.40,147.30 497.79,147.30 498.17,147.30 498.55,147.30 498.93,147.30 499.32,147.30 499.70,147.30 500.08,147.30 500.46,147.30 500.85,147.30 501.23,147.30 501.61,147.30 502.00,147.30 502.38,147.30 502.76,147.30 503.14,147.30 503.53,147.30 503.91,147.30 504.29,147.30 504.68,147.30 505.06,147.30 505.44,147.30 505.82,147.30 506.21,147.30 506.59,147.30 506.97,147.30 507.36,147.30 507.74,147.30 508.12,147.30 508.50,147.30 508.89,147.30 509.27,147.30 509.65,147.30 510.03,147.30 510.42,147.30 510.80,147.30 511.18,147.30 511.57,147.30 511.95,147.30 512.33,147.30 512.71,147.30 513.10,147.30 513.48,147.30 513.86,147.30 514.25,147.30 514.63,147.30 515.01,147.30 515.39,147.30 515.78,147.30 516.16,147.30 516.54,147.30 516.93,147.30 517.31,147.30 517.69,147.30 518.07,147.30 518.46,147.30 518.84,147.30 519.22,147.30 519.60,147.30 519.99,147.30 520.37,147.30 520.75,147.30 521.14,147.30 521.52,147.30 521.90,147.30 522.28,147.30 522.67,147.30 523.05,147.30 523.43,147.30 523.82,147.30 524.20,147.30 524.58,147.30 524.96,147.30 525.35,147.30 525.73,147.30 526.11,147.30 526.50,147.30 526.88,147.30 527.26,147.30 527.64,147.30 528.03,147.30 528.41,147.30 528.79,147.30 529.17,147.30 529.56,147.30 529.94,147.30 530.32,147.30 530.71,147.30 531.09,149.11 531.47,151.32 531.85,153.52 532.24,155.71 532.62,157.88 533.00,160.05 533.39,162.19 533.77,164.32 534.15,166.42 534.53,168.49 534.92,170.54 535.30,172.55 535.68,174.53 536.07,176.48 536.45,178.39 536.83,180.26 537.21,182.10 537.60,183.89 537.98,185.64 538.36,187.35 538.74,189.01 539.13,190.63 539.51,192.20 539.89,193.73 540.28,195.22 540.66,196.65 541.04,198.05 541.42,199.40 541.81,200.70 542.19,201.96 542.57,203.18 542.96,204.35 543.34,205.48 543.72,206.57 544.10,207.62 544.49,208.62 544.87,209.59 545.25,210.52 545.64,211.42 546.02,212.27 546.40,213.10 546.78,213.88 547.17,214.64 547.55,215.36 547.93,216.05 548.31,216.71 548.70,217.35 549.08,217.95 549.46,218.53 549.85,219.08 550.23,219.61 550.61,220.11 550.99,220.59 551.38,221.05 551.76,221.48 552.14,221.90 552.53,222.30 552.91,222.67 553.29,223.03 553.67,223.38 554.06,223.70 554.44,224.01 554.82,224.31 555.21,224.59 555.59,224.86 555.97,225.11 556.35,225.35 556.74,225.58 557.12,225.80 557.50,226.01 557.88,226.21 558.27,226.40 558.65,226.58 559.03,226.75 559.42,226.91 559.80,227.06 560.18,227.21 560.56,227.34 560.95,227.48 561.33,227.60 561.71,227.72 562.10,227.83 562.48,227.94 562.86,228.04 563.24,228.14 563.63,228.23 564.01,228.31 564.39,228.40 564.78,228.47 565.16,228.55 565.54,228.62 565.92,228.68 566.31,228.75 566.69,228.81 567.07,228.87 567.45,228.92 567.84,228.97 568.22,229.02 568.60,229.07 568.99,229.11 569.37,229.15 569.75,229.19 570.13,229.23 570.52,229.26 570.90,229.30 571.28,229.33 571.67,229.36 572.05,229.39 572.43,229.41 572.81,229.44 573.20,229.47 573.58,229.49 573.96,229.51 574.35,229.53 574.73,229.55 575.11,229.57 575.49,229.59 575.88,229.60 576.26,229.62 576.64,229.64 577.02,229.65 577.41,229.66 577.79,229.68 578.17,229.69 578.56,229.70 578.94,229.71 579.32,229.72 579.70,229.73 580.09,229.74 580.47,229.75 590.04,229.87 599.61,229.90 609.18,229.91 618.75,229.91 628.32,229.91 637.89,229.91 647.46,229.91 657.03,229.91 666.60,229.91 666.60,229.91 657.03,229.91 647.46,229.91 637.89,229.91 628.32,229.91 618.75,229.91 609.18,229.91 599.61,229.91 590.04,229.91 580.47,229.90 580.09,229.89 579.70,229.89 579.32,229.89 578.94,229.89 578.56,229.89 578.17,229.89 577.79,229.89 577.41,229.89 577.02,229.89 576.64,229.88 576.26,229.88 575.88,229.88 575.49,229.88 575.11,229.88 574.73,229.88 574.35,229.87 573.96,229.87 573.58,229.87 573.20,229.87 572.81,229.86 572.43,229.86 572.05,229.86 571.67,229.86 571.28,229.85 570.90,229.85 570.52,229.85 570.13,229.84 569.75,229.84 569.37,229.84 568.99,229.83 568.60,229.83 568.22,229.83 567.84,229.82 567.45,229.82 567.07,229.81 566.69,229.81 566.31,229.80 565.92,229.80 565.54,229.79 565.16,229.78 564.78,229.78 564.39,229.77 564.01,229.76 563.63,229.76 563.24,229.75 562.86,229.74 562.48,229.73 562.10,229.72 561.71,229.71 561.33,229.70 560.95,229.69 560.56,229.68 560.18,229.67 559.80,229.66 559.42,229.64 559.03,229.63 558.65,229.61 558.27,229.60 557.88,229.58 557.50,229.57 557.12,229.55 556.74,229.53 556.35,229.51 555.97,229.49 555.59,229.47 555.21,229.45 554.82,229.43 554.44,229.40 554.06,229.38 553.67,229.35 553.29,229.32 552.91,229.29 552.53,229.26 552.14,229.23 551.76,229.19 551.38,229.16 550.99,229.12 550.61,229.08 550.23,229.04 549.85,229.00 549.46,228.95 549.08,228.90 548.70,228.85 548.31,228.80 547.93,228.75 547.55,228.69 547.17,228.63 546.78,228.56 546.40,228.50 546.02,228.43 545.64,228.35 545.25,228.27 544.87,228.19 544.49,228.11 544.10,228.02 543.72,227.93 543.34,227.83 542.96,227.72 542.57,227.62 542.19,227.50 541.81,227.39 541.42,227.26 541.04,227.13 540.66,226.99 540.28,226.85 539.89,226.70 539.51,226.54 539.13,226.38 538.74,226.21 538.36,226.02 537.98,225.84 537.60,225.64 537.21,225.43 536.83,225.21 536.45,224.98 536.07,224.74 535.68,224.49 535.30,224.23 534.92,223.96 534.53,223.67 534.15,223.37 533.77,223.06 533.39,222.73 533.00,222.39 532.62,222.03 532.24,221.66 531.85,221.27 531.47,220.86 531.09,220.43 530.71,219.98 530.32,219.52 529.94,219.03 529.56,218.53 529.17,218.00 528.79,217.45 528.41,216.87 528.03,216.28 527.64,215.65 527.26,215.01 526.88,214.33 526.50,213.63 526.11,212.90 525.73,212.14 525.35,211.35 524.96,210.53 524.58,209.68 524.20,208.80 523.82,207.88 523.43,206.93 523.05,205.95 522.67,204.93 522.28,203.88 521.90,202.79 521.52,201.67 521.14,200.51 520.75,199.31 520.37,198.07 519.99,196.80 519.60,195.49 519.22,194.14 518.84,192.75 518.46,191.32 518.07,189.86 517.69,188.36 517.31,186.82 516.93,185.25 516.54,183.64 516.16,181.99 515.78,180.31 515.39,178.60 515.01,176.86 514.63,175.08 514.25,173.28 513.86,171.44 513.48,169.58 513.10,167.70 512.71,165.79 512.33,163.86 511.95,161.91 511.57,159.95 511.18,157.97 510.80,155.97 510.42,153.97 510.03,151.95 509.65,149.93 509.27,147.91 508.89,147.30 508.50,147.30 508.12,147.30 507.74,147.30 507.36,147.30 506.97,147.30 506.59,147.30 506.21,147.30 505.82,147.30 505.44,147.30 505.06,147.30 504.68,147.30 504.29,147.30 503.91,147.30 503.53,147.30 503.14,147.30 502.76,147.30 502.38,147.30 502.00,147.30 501.61,147.30 501.23,147.30 500.85,147.30 500.46,147.30 500.08,147.30 499.70,147.30 499.32,147.30 498.93,147.30 498.55,147.30 498.17,147.30 497.79,147.30 497.40,147.30 497.02,147.30 496.64,147.30 496.25,147.30 495.87,147.30 495.49,147.30 495.11,147.30 494.72,147.30 494.34,147.30 493.96,147.30 493.57,147.30 493.19,147.30 492.81,147.30 492.43,147.30 492.04,147.30 491.66,147.30 491.28,147.30 490.89,147.30 490.51,147.30 490.13,147.30 489.75,147.30 489.36,147.30 488.98,147.30 488.60,147.30 488.22,147.30 487.83,147.30 487.45,147.30 487.07,147.30 486.68,147.30 486.30,147.30 485.92,147.30 485.54,147.30 485.15,147.30 484.77,147.30 484.39,147.30 484.00,147.30 483.62,147.30 483.24,147.30 482.86,147.30 482.47,147.30 482.09,147.30 481.71,147.30 481.32,147.30 480.94,147.30 480.56,147.30 480.18,147.30 479.79,147.30 479.41,147.30 479.03,147.30 478.65,147.30 478.26,147.30 477.88,147.30 477.50,147.30 477.11,147.30 476.73,147.30 476.35,147.30 475.97,147.30 475.58,147.30 475.20,147.30 474.82,147.30 474.43,147.30 474.05,147.30 473.67,147.30 473.29,147.30 472.90,147.30 472.52,147.30 472.14,147.30 471.75,147.30 471.37,147.30 470.99,147.30 470.61,147.30 470.22,147.30 469.84,147.30 469.46,147.30 469.08,147.30 468.69,147.30 468.31,147.30 467.93,147.30 467.54,147.30 467.16,147.30 466.78,147.30 466.40,147.30 466.01,147.30 465.63,147.30 456.06,147.30 446.49,147.30 436.92,147.30 427.35,147.30 417.78,147.30 408.21,147.30 398.64,147.30 389.07,147.30 379.50,147.30" fill="#b3b9a7"/>
<polygon points="379.50,147.30 389.07,147.30 398.64,147.30 408.21,147.30 417.78,147.30 427.35,147.30 436.92,147.30 446.49,147.30 456.06,147.30 465.63,147.30 466.01,147.30 466.40,147.30 466.78,147.30 467.16,147.30 467.54,147.30 467.93,147.30 468.31,147.30 468.69,147.30 469.08,147.30 469.46,147.30 469.84,147.30 470.22,147.30 470.61,147.30 470.99,147.30 471.37,147.30 471.75,147.30 472.14,147.30 472.52,147.30 472.90,147.30 473.29,147.30 473.67,147.30 474.05,147.30 474.43,147.30 474.82,147.30 475.20,147.30 475.58,147.30 475.97,147.30 476.35,147.30 476.73,147.30 477.11,147.30 477.50,147.30 477.88,147.30 478.26,147.30 478.65,147.30 479.03,147.30 479.41,147.30 479.79,147.30 480.18,147.30 480.56,147.30 480.94,147.30 481.32,147.30 481.71,147.30 482.09,147.30 482.47,147.30 482.86,147.30 483.24,147.30 483.62,147.30 484.00,147.30 484.39,147.30 484.77,147.30 485.15,147.30 485.54,147.30 485.92,147.30 486.30,147.30 486.68,147.30 487.07,147.30 487.45,147.30 487.83,147.30 488.22,147.30 488.60,147.30 488.98,147.30 489.36,147.30 489.75,147.30 490.13,147.30 490.51,147.30 490.89,147.30 491.28,147.30 491.66,147.30 492.04,147.30 492.43,147.30 492.81,147.30 493.19,147.30 493.57,147.30 493.96,147.30 494.34,147.30 494.72,147.30 495.11,147.30 495.49,147.30 495.87,147.30 496.25,147.30 496.64,147.30 497.02,147.30 497.40,147.30 497.79,147.30 498.17,147.30 498.55,147.30 498.93,147.30 499.32,147.30 499.70,147.30 500.08,147.30 500.46,147.30 500.85,147.30 501.23,147.30 501.61,147.30 502.00,147.30 502.38,147.30 502.76,147.30 503.14,147.30 503.53,147.30 503.91,147.30 504.29,147.30 504.68,147.30 505.06,147.30 505.44,147.30 505.82,147.30 506.21,147.30 506.59,147.30 506.97,147.30 507.36,147.30 507.74,147.30 508.12,147.30 508.50,147.30 508.89,147.30 509.27,147.91 509.65,149.93 510.03,151.95 510.42,153.97 510.80,155.97 511.18,157.97 511.57,159.95 511.95,161.91 512.33,163.86 512.71,165.79 513.10,167.70 513.48,169.58 513.86,171.44 514.25,173.28 514.63,175.08 515.01,176.86 515.39,178.60 515.78,180.31 516.16,181.99 516.54,183.64 516.93,185.25 517.31,186.82 517.69,188.36 518.07,189.86 518.46,191.32 518.84,192.75 519.22,194.14 519.60,195.49 519.99,196.80 520.37,198.07 520.75,199.31 521.14,200.51 521.52,201.67 521.90,202.79 522.28,203.88 522.67,204.93 523.05,205.95 523.43,206.93 523.82,207.88 524.20,208.80 524.58,209.68 524.96,210.53 525.35,211.35 525.73,212.14 526.11,212.90 526.50,213.63 526.88,214.33 527.26,215.01 527.64,215.65 528.03,216.28 528.41,216.87 528.79,217.45 529.17,218.00 529.56,218.53 529.94,219.03 530.32,219.52 530.71,219.98 531.09,220.43 531.47,220.86 531.85,221.27 532.24,221.66 532.62,222.03 533.00,222.39 533.39,222.73 533.77,223.06 534.15,223.37 534.53,223.67 534.92,223.96 535.30,224.23 535.68,224.49 536.07,224.74 536.45,224.98 536.83,225.21 537.21,225.43 537.60,225.64 537.98,225.84 538.36,226.02 538.74,226.21 539.13,226.38 539.51,226.54 539.89,226.70 540.28,226.85 540.66,226.99 541.04,227.13 541.42,227.26 541.81,227.39 542.19,227.50 542.57,227.62 542.96,227.72 543.34,227.83 543.72,227.93 544.10,228.02 544.49,228.11 544.87,228.19 545.25,228.27 545.64,228.35 546.02,228.43 546.40,228.50 546.78,228.56 547.17,228.63 547.55,228.69 547.93,228.75 548.31,228.80 548.70,228.85 549.08,228.90 549.46,228.95 549.85,229.00 550.23,229.04 550.61,229.08 550.99,229.12 551.38,229.16 551.76,229.19 552.14,229.23 552.53,229.26 552.91,229.29 553.29,229.32 553.67,229.35 554.06,229.38 554.44,229.40 554.82,229.43 555.21,229.45 555.59,229.47 555.97,229.49 556.35,229.51 556.74,229.53 557.12,229.55 557.50,229.57 557.88,229.58 558.27,229.60 558.65,229.61 559.03,229.63 559.42,229.64 559.80,229.66 560.18,229.67 560.56,229.68 560.95,229.69 561.33,229.70 561.71,229.71 562.10,229.72 562.48,229.73 562.86,229.74 563.24,229.75 563.63,229.76 564.01,229.76 564.39,229.77 564.78,229.78 565.16,229.78 565.54,229.79 565.92,229.80 566.31,229.80 566.69,229.81 567.07,229.81 567.45,229.82 567.84,229.82 568.22,229.83 568.60,229.83 568.99,229.83 569.37,229.84 569.75,229.84 570.13,229.84 570.52,229.85 570.90,229.85 571.28,229.85 571.67,229.86 572.05,229.86 572.43,229.86 572.81,229.86 573.20,229.87 573.58,229.87 573.96,229.87 574.35,229.87 574.73,229.88 575.11,229.88 575.49,229.88 575.88,229.88 576.26,229.88 576.64,229.88 577.02,229.89 577.41,229.89 577.79,229.89 578.17,229.89 578.56,229.89 578.94,229.89 579.32,229.89 579.70,229.89 580.09,229.89 580.47,229.90 590.04,229.91 599.61,229.91 609.18,229.91 618.75,229.91 628.32,229.91 637.89,229.91 647.46,229.91 657.03,229.91 666.60,229.91 666.60,229.91 657.03,229.91 647.46,229.91 637.89,229.91 628.32,229.91 618.75,229.91 609.18,229.91 599.61,229.91 590.04,229.91 580.47,229.90 580.09,229.90 579.70,229.90 579.32,229.90 578.94,229.90 578.56,229.90 578.17,229.90 577.79,229.90 577.41,229.90 577.02,229.90 576.64,229.89 576.26,229.89 575.88,229.89 575.49,229.89 575.11,229.89 574.73,229.89 574.35,229.89 573.96,229.89 573.58,229.89 573.20,229.88 572.81,229.88 572.43,229.88 572.05,229.88 571.67,229.88 571.28,229.88 570.90,229.87 570.52,229.87 570.13,229.87 569.75,229.87 569.37,229.87 568.99,229.86 568.60,229.86 568.22,229.86 567.84,229.85 567.45,229.85 567.07,229.85 566.69,229.85 566.31,229.84 565.92,229.84 565.54,229.83 565.16,229.83 564.78,229.83 564.39,229.82 564.01,229.82 563.63,229.81 563.24,229.81 562.86,229.80 562.48,229.80 562.10,229.79 561.71,229.78 561.33,229.78 560.95,229.77 560.56,229.76 560.18,229.76 559.80,229.75 559.42,229.74 559.03,229.73 558.65,229.72 558.27,229.71 557.88,229.70 557.50,229.69 557.12,229.68 556.74,229.67 556.35,229.66 555.97,229.65 555.59,229.63 555.21,229.62 554.82,229.60 554.44,229.59 554.06,229.57 553.67,229.55 553.29,229.54 552.91,229.52 552.53,229.50 552.14,229.48 551.76,229.46 551.38,229.43 550.99,229.41 550.61,229.38 550.23,229.36 549.85,229.33 549.46,229.30 549.08,229.27 548.70,229.24 548.31,229.21 547.93,229.17 547.55,229.13 547.17,229.10 546.78,229.05 546.40,229.01 546.02,228.97 545.64,228.92 545.25,228.87 544.87,228.82 544.49,228.77 544.10,228.71 543.72,228.65 543.34,228.59 542.96,228.52 542.57,228.45 542.19,228.38 541.81,228.31 541.42,228.23 541.04,228.14 540.66,228.06 540.28,227.96 539.89,227.87 539.51,227.77 539.13,227.66 538.74,227.55 538.36,227.44 537.98,227.31 537.60,227.19 537.21,227.05 536.83,226.91 536.45,226.77 536.07,226.61 535.68,226.45 535.30,226.28 534.92,226.11 534.53,225.92 534.15,225.73 533.77,225.52 533.39,225.31 533.00,225.09 532.62,224.86 532.24,224.61 531.85,224.36 531.47,224.09 531.09,223.81 530.71,223.52 530.32,223.21 529.94,222.89 529.56,222.56 529.17,222.21 528.79,221.85 528.41,221.46 528.03,221.07 527.64,220.65 527.26,220.22 526.88,219.76 526.50,219.29 526.11,218.79 525.73,218.28 525.35,217.74 524.96,217.18 524.58,216.60 524.20,215.99 523.82,215.36 523.43,214.70 523.05,214.02 522.67,213.30 522.28,212.56 521.90,211.79 521.52,210.99 521.14,210.16 520.75,209.30 520.37,208.41 519.99,207.48 519.60,206.52 519.22,205.53 518.84,204.50 518.46,203.44 518.07,202.34 517.69,201.20 517.31,200.03 516.93,198.82 516.54,197.57 516.16,196.29 515.78,194.97 515.39,193.61 515.01,192.21 514.63,190.77 514.25,189.30 513.86,187.79 513.48,186.25 513.10,184.66 512.71,183.05 512.33,181.39 511.95,179.71 511.57,177.99 511.18,176.24 510.80,174.46 510.42,172.65 510.03,170.81 509.65,168.95 509.27,167.06 508.89,165.16 508.50,163.23 508.12,161.28 507.74,159.31 507.36,157.33 506.97,155.34 506.59,153.34 506.21,151.33 505.82,149.32 505.44,147.30 505.06,147.30 504.68,147.30 504.29,147.30 503.91,147.30 503.53,147.30 503.14,147.30 502.76,147.30 502.38,147.30 502.00,147.30 501.61,147.30 501.23,147.30 500.85,147.30 500.46,147.30 500.08,147.30 499.70,147.30 499.32,147.30 498.93,147.30 498.55,147.30 498.17,147.30 497.79,147.30 497.40,147.30 497.02,147.30 496.64,147.30 496.25,147.30 495.87,147.30 495.49,147.30 495.11,147.30 494.72,147.30 494.34,147.30 493.96,147.30 493.57,147.30 493.19,147.30 492.81,147.30 492.43,147.30 492.04,147.30 491.66,147.30 491.28,147.30 490.89,147.30 490.51,147.30 490.13,147.30 489.75,147.30 489.36,147.30 488.98,147.30 488.60,147.30 488.22,147.30 487.83,147.30 487.45,147.30 487.07,147.30 486.68,147.30 486.30,147.30 485.92,147.30 485.54,147.30 485.15,147.30 484.77,147.30 484.39,147.30 484.00,147.30 483.62,147.30 483.24,147.30 482.86,147.30 482.47,147.30 482.09,147.30 481.71,147.30 481.32,147.30 480.94,147.30 480.56,147.30 480.18,147.30 479.79,147.30 479.41,147.30 479.03,147.30 478.65,147.30 478.26,147.30 477.88,147.30 477.50,147.30 477.11,147.30 476.73,147.30 476.35,147.30 475.97,147.30 475.58,147.30 475.20,147.30 474.82,147.30 474.43,147.30 474.05,147.30 473.67,147.30 473.29,147.30 472.90,147.30 472.52,147.30 472.14,147.30 471.75,147.30 471.37,147.30 470.99,147.30 470.61,147.30 470.22,147.30 469.84,147.30 469.46,147.30 469.08,147.30 468.69,147.30 468.31,147.30 467.93,147.30 467.54,147.30 467.16,147.30 466.78,147.30 466.40,147.30 466.01,147.30 465.63,147.30 456.06,147.30 446.49,147.30 436.92,147.30 427.35,147.30 417.78,147.30 408.21,147.30 398.64,147.30 389.07,147.30 379.50,147.30" fill="#f6d0c8"/>
<line x1="372.90" y1="147.60" x2="672.70" y2="147.60" stroke="#8a8a8a" stroke-width="0.8"/>
<line x1="475.20" y1="55.00" x2="475.20" y2="240.00" stroke="#8a8a8a" stroke-width="0.8"/>
<line x1="379.50" y1="147.60" x2="379.50" y2="145.80" stroke="#8a8a8a" stroke-width="0.6"/>
<line x1="389.07" y1="147.60" x2="389.07" y2="145.80" stroke="#8a8a8a" stroke-width="0.6"/>
<line x1="398.64" y1="147.60" x2="398.64" y2="144.60" stroke="#8a8a8a" stroke-width="0.6"/>
<line x1="408.21" y1="147.60" x2="408.21" y2="145.80" stroke="#8a8a8a" stroke-width="0.6"/>
<line x1="417.78" y1="147.60" x2="417.78" y2="145.80" stroke="#8a8a8a" stroke-width="0.6"/>
<line x1="427.35" y1="147.60" x2="427.35" y2="145.80" stroke="#8a8a8a" stroke-width="0.6"/>
<line x1="436.92" y1="147.60" x2="436.92" y2="144.60" stroke="#8a8a8a" stroke-width="0.6"/>
<line x1="446.49" y1="147.60" x2="446.49" y2="145.80" stroke="#8a8a8a" stroke-width="0.6"/>
<line x1="456.06" y1="147.60" x2="456.06" y2="145.80" stroke="#8a8a8a" stroke-width="0.6"/>
<line x1="465.63" y1="147.60" x2="465.63" y2="145.80" stroke="#8a8a8a" stroke-width="0.6"/>
<line x1="475.20" y1="147.60" x2="475.20" y2="144.60" stroke="#8a8a8a" stroke-width="0.6"/>
<line x1="484.77" y1="147.60" x2="484.77" y2="145.80" stroke="#8a8a8a" stroke-width="0.6"/>
<line x1="494.34" y1="147.60" x2="494.34" y2="145.80" stroke="#8a8a8a" stroke-width="0.6"/>
<line x1="503.91" y1="147.60" x2="503.91" y2="145.80" stroke="#8a8a8a" stroke-width="0.6"/>
<line x1="513.48" y1="147.60" x2="513.48" y2="144.60" stroke="#8a8a8a" stroke-width="0.6"/>
<line x1="523.05" y1="147.60" x2="523.05" y2="145.80" stroke="#8a8a8a" stroke-width="0.6"/>
<line x1="532.62" y1="147.60" x2="532.62" y2="145.80" stroke="#8a8a8a" stroke-width="0.6"/>
<line x1="542.19" y1="147.60" x2="542.19" y2="145.80" stroke="#8a8a8a" stroke-width="0.6"/>
<line x1="551.76" y1="147.60" x2="551.76" y2="144.60" stroke="#8a8a8a" stroke-width="0.6"/>
<line x1="561.33" y1="147.60" x2="561.33" y2="145.80" stroke="#8a8a8a" stroke-width="0.6"/>
<line x1="570.90" y1="147.60" x2="570.90" y2="145.80" stroke="#8a8a8a" stroke-width="0.6"/>
<line x1="580.47" y1="147.60" x2="580.47" y2="145.80" stroke="#8a8a8a" stroke-width="0.6"/>
<line x1="590.04" y1="147.60" x2="590.04" y2="144.60" stroke="#8a8a8a" stroke-width="0.6"/>
<line x1="599.61" y1="147.60" x2="599.61" y2="145.80" stroke="#8a8a8a" stroke-width="0.6"/>
<line x1="609.18" y1="147.60" x2="609.18" y2="145.80" stroke="#8a8a8a" stroke-width="0.6"/>
<line x1="618.75" y1="147.60" x2="618.75" y2="145.80" stroke="#8a8a8a" stroke-width="0.6"/>
<line x1="628.32" y1="147.60" x2="628.32" y2="144.60" stroke="#8a8a8a" stroke-width="0.6"/>
<line x1="637.89" y1="147.60" x2="637.89" y2="145.80" stroke="#8a8a8a" stroke-width="0.6"/>
<line x1="647.46" y1="147.60" x2="647.46" y2="145.80" stroke="#8a8a8a" stroke-width="0.6"/>
<line x1="657.03" y1="147.60" x2="657.03" y2="145.80" stroke="#8a8a8a" stroke-width="0.6"/>
<line x1="666.60" y1="147.60" x2="666.60" y2="144.60" stroke="#8a8a8a" stroke-width="0.6"/>
<line x1="475.20" y1="240.45" x2="477.00" y2="240.45" stroke="#8a8a8a" stroke-width="0.6"/>
<line x1="475.20" y1="234.64" x2="478.20" y2="234.64" stroke="#8a8a8a" stroke-width="0.6"/>
<line x1="475.20" y1="228.84" x2="477.00" y2="228.84" stroke="#8a8a8a" stroke-width="0.6"/>
<line x1="475.20" y1="223.04" x2="477.00" y2="223.04" stroke="#8a8a8a" stroke-width="0.6"/>
<line x1="475.20" y1="217.24" x2="477.00" y2="217.24" stroke="#8a8a8a" stroke-width="0.6"/>
<line x1="475.20" y1="211.43" x2="477.00" y2="211.43" stroke="#8a8a8a" stroke-width="0.6"/>
<line x1="475.20" y1="205.63" x2="478.20" y2="205.63" stroke="#8a8a8a" stroke-width="0.6"/>
<line x1="475.20" y1="199.83" x2="477.00" y2="199.83" stroke="#8a8a8a" stroke-width="0.6"/>
<line x1="475.20" y1="194.02" x2="477.00" y2="194.02" stroke="#8a8a8a" stroke-width="0.6"/>
<line x1="475.20" y1="188.22" x2="477.00" y2="188.22" stroke="#8a8a8a" stroke-width="0.6"/>
<line x1="475.20" y1="182.42" x2="477.00" y2="182.42" stroke="#8a8a8a" stroke-width="0.6"/>
<line x1="475.20" y1="176.62" x2="478.20" y2="176.62" stroke="#8a8a8a" stroke-width="0.6"/>
<line x1="475.20" y1="170.81" x2="477.00" y2="170.81" stroke="#8a8a8a" stroke-width="0.6"/>
<line x1="475.20" y1="165.01" x2="477.00" y2="165.01" stroke="#8a8a8a" stroke-width="0.6"/>
<line x1="475.20" y1="159.21" x2="477.00" y2="159.21" stroke="#8a8a8a" stroke-width="0.6"/>
<line x1="475.20" y1="153.40" x2="477.00" y2="153.40" stroke="#8a8a8a" stroke-width="0.6"/>
<line x1="475.20" y1="147.60" x2="478.20" y2="147.60" stroke="#8a8a8a" stroke-width="0.6"/>
<line x1="475.20" y1="141.80" x2="477.00" y2="141.80" stroke="#8a8a8a" stroke-width="0.6"/>
<line x1="475.20" y1="135.99" x2="477.00" y2="135.99" stroke="#8a8a8a" stroke-width="0.6"/>
<line x1="475.20" y1="130.19" x2="477.00" y2="130.19" stroke="#8a8a8a" stroke-width="0.6"/>
<line x1="475.20" y1="124.39" x2="477.00" y2="124.39" stroke="#8a8a8a" stroke-width="0.6"/>
<line x1="475.20" y1="118.58" x2="478.20" y2="118.58" stroke="#8a8a8a" stroke-width="0.6"/>
<line x1="475.20" y1="112.78" x2="477.00" y2="112.78" stroke="#8a8a8a" stroke-width="0.6"/>
<line x1="475.20" y1="106.98" x2="477.00" y2="106.98" stroke="#8a8a8a" stroke-width="0.6"/>
<line x1="475.20" y1="101.18" x2="477.00" y2="101.18" stroke="#8a8a8a" stroke-width="0.6"/>
<line x1="475.20" y1="95.37" x2="477.00" y2="95.37" stroke="#8a8a8a" stroke-width="0.6"/>
<line x1="475.20" y1="89.57" x2="478.20" y2="89.57" stroke="#8a8a8a" stroke-width="0.6"/>
<line x1="475.20" y1="83.77" x2="477.00" y2="83.77" stroke="#8a8a8a" stroke-width="0.6"/>
<line x1="475.20" y1="77.96" x2="477.00" y2="77.96" stroke="#8a8a8a" stroke-width="0.6"/>
<line x1="475.20" y1="72.16" x2="477.00" y2="72.16" stroke="#8a8a8a" stroke-width="0.6"/>
<line x1="475.20" y1="66.36" x2="477.00" y2="66.36" stroke="#8a8a8a" stroke-width="0.6"/>
<line x1="475.20" y1="60.55" x2="478.20" y2="60.55" stroke="#8a8a8a" stroke-width="0.6"/>
<line x1="475.20" y1="54.75" x2="477.00" y2="54.75" stroke="#8a8a8a" stroke-width="0.6"/>
<text x="398.04" y="158.00" font-size="8.5" text-anchor="middle" fill="#1c1c1c" font-family="Liberation Sans, sans-serif" >−4</text>
<text x="436.32" y="158.00" font-size="8.5" text-anchor="middle" fill="#1c1c1c" font-family="Liberation Sans, sans-serif" >−2</text>
<text x="513.48" y="158.00" font-size="8.5" text-anchor="middle" fill="#1c1c1c" font-family="Liberation Sans, sans-serif" >2</text>
<text x="551.76" y="158.00" font-size="8.5" text-anchor="middle" fill="#1c1c1c" font-family="Liberation Sans, sans-serif" >4</text>
<text x="590.04" y="158.00" font-size="8.5" text-anchor="middle" fill="#1c1c1c" font-family="Liberation Sans, sans-serif" >6</text>
<text x="628.32" y="158.00" font-size="8.5" text-anchor="middle" fill="#1c1c1c" font-family="Liberation Sans, sans-serif" >8</text>
<text x="666.60" y="158.00" font-size="8.5" text-anchor="middle" fill="#1c1c1c" font-family="Liberation Sans, sans-serif" >10</text>
<text x="471.80" y="63.65" font-size="8.5" text-anchor="end" fill="#1c1c1c" font-family="Liberation Sans, sans-serif" >1.5</text>
<text x="471.80" y="92.67" font-size="8.5" text-anchor="end" fill="#1c1c1c" font-family="Liberation Sans, sans-serif" >1.0</text>
<text x="471.80" y="121.68" font-size="8.5" text-anchor="end" fill="#1c1c1c" font-family="Liberation Sans, sans-serif" >0.5</text>
<text x="471.80" y="179.72" font-size="8.5" text-anchor="end" fill="#1c1c1c" font-family="Liberation Sans, sans-serif" >−0.5</text>
<text x="471.80" y="208.73" font-size="8.5" text-anchor="end" fill="#1c1c1c" font-family="Liberation Sans, sans-serif" >−1.0</text>
<text x="471.80" y="237.74" font-size="8.5" text-anchor="end" fill="#1c1c1c" font-family="Liberation Sans, sans-serif" >−1.5</text>
<text x="475.60" y="47.00" font-size="10" text-anchor="middle" fill="#111" font-family="Liberation Sans, sans-serif" font-weight="bold">t</text>
<text x="679.60" y="151.00" font-size="10" text-anchor="start" fill="#111" font-family="Liberation Sans, sans-serif" font-weight="bold">x</text>
<line x1="541.00" y1="80.00" x2="558.50" y2="80.00" stroke="#9b2f9f" stroke-width="1.7"/>
<text x="563.20" y="83.10" font-size="8.6" text-anchor="start" fill="#222" font-family="Liberation Sans, sans-serif" >Beta derivative</text>
<line x1="541.00" y1="97.80" x2="558.50" y2="97.80" stroke="#2ec193" stroke-width="1.6"/>
<text x="563.20" y="100.90" font-size="8.6" text-anchor="start" fill="#222" font-family="Liberation Sans, sans-serif" >Conformable derivative</text>
<line x1="541.00" y1="115.60" x2="558.50" y2="115.60" stroke="#c2282e" stroke-width="1.35"/>
<text x="563.20" y="118.70" font-size="8.6" text-anchor="start" fill="#222" font-family="Liberation Sans, sans-serif" >M–truncated derivative</text>
<polyline points="379.50,63.89 389.07,63.89 398.64,63.89 408.21,63.89 417.78,63.89 427.35,63.89 436.92,63.89 446.49,63.89 456.06,63.89 465.63,63.91 466.01,63.92 466.40,63.92 466.78,63.92 467.16,63.92 467.54,63.92 467.93,63.92 468.31,63.93 468.69,63.93 469.08,63.93 469.46,63.93 469.84,63.94 470.22,63.94 470.61,63.94 470.99,63.94 471.37,63.95 471.75,63.95 472.14,63.95 472.52,63.96 472.90,63.96 473.29,63.96 473.67,63.97 474.05,63.97 474.43,63.98 474.82,63.98 475.20,63.99 475.58,63.99 475.97,64.00 476.35,64.00 476.73,64.01 477.11,64.02 477.50,64.02 477.88,64.03 478.26,64.04 478.65,64.05 479.03,64.05 479.41,64.06 479.79,64.07 480.18,64.08 480.56,64.09 480.94,64.10 481.32,64.11 481.71,64.13 482.09,64.14 482.47,64.15 482.86,64.17 483.24,64.18 483.62,64.20 484.00,64.21 484.39,64.23 484.77,64.25 485.15,64.27 485.54,64.29 485.92,64.31 486.30,64.33 486.68,64.35 487.07,64.38 487.45,64.40 487.83,64.43 488.22,64.46 488.60,64.49 488.98,64.52 489.36,64.55 489.75,64.59 490.13,64.62 490.51,64.66 490.89,64.70 491.28,64.75 491.66,64.79 492.04,64.84 492.43,64.89 492.81,64.94 493.19,64.99 493.57,65.05 493.96,65.11 494.34,65.18 494.72,65.24 495.11,65.31 495.49,65.39 495.87,65.47 496.25,65.55 496.64,65.63 497.02,65.73 497.40,65.82 497.79,65.92 498.17,66.03 498.55,66.14 498.93,66.25 499.32,66.37 499.70,66.50 500.08,66.64 500.46,66.78 500.85,66.93 501.23,67.08 501.61,67.25 502.00,67.42 502.38,67.60 502.76,67.79 503.14,67.99 503.53,68.20 503.91,68.42 504.29,68.65 504.68,68.89 505.06,69.15 505.44,69.41 505.82,69.69 506.21,69.98 506.59,70.29 506.97,70.61 507.36,70.95 507.74,71.30 508.12,71.67 508.50,72.06 508.89,72.47 509.27,72.89 509.65,73.34 510.03,73.80 510.42,74.29 510.80,74.80 511.18,75.33 511.57,75.89 511.95,76.47 512.33,77.08 512.71,77.71 513.10,78.37 513.48,79.06 513.86,79.78 514.25,80.53 514.63,81.31 515.01,82.12 515.39,82.96 515.78,83.84 516.16,84.76 516.54,85.70 516.93,86.69 517.31,87.71 517.69,88.77 518.07,89.87 518.46,91.01 518.84,92.19 519.22,93.41 519.60,94.67 519.99,95.97 520.37,97.31 520.75,98.69 521.14,100.12 521.52,101.58 521.90,103.09 522.28,104.64 522.67,106.23 523.05,107.86 523.43,109.53 523.82,111.24 524.20,112.99 524.58,114.77 524.96,116.59 525.35,118.44 525.73,120.33 526.11,122.24 526.50,124.19 526.88,126.16 527.26,128.16 527.64,130.18 528.03,132.23 528.41,134.29 528.79,136.36 529.17,138.46 529.56,140.56 529.94,142.67 530.32,144.78 530.71,146.90 531.09,149.11" fill="none" stroke="#820a86" stroke-width="1.85" stroke-linejoin="round" stroke-linecap="round"/>
<polyline points="530.32,144.78 530.71,146.90 531.09,149.11 531.47,151.32 531.85,153.52 532.24,155.71 532.62,157.88 533.00,160.05 533.39,162.19 533.77,164.32 534.15,166.42 534.53,168.49 534.92,170.54 535.30,172.55 535.68,174.53 536.07,176.48 536.45,178.39 536.83,180.26 537.21,182.10 537.60,183.89 537.98,185.64 538.36,187.35 538.74,189.01 539.13,190.63 539.51,192.20 539.89,193.73 540.28,195.22 540.66,196.65 541.04,198.05 541.42,199.40 541.81,200.70 542.19,201.96 542.57,203.18 542.96,204.35 543.34,205.48 543.72,206.57 544.10,207.62 544.49,208.62 544.87,209.59 545.25,210.52 545.64,211.42 546.02,212.27 546.40,213.10 546.78,213.88 547.17,214.64 547.55,215.36 547.93,216.05 548.31,216.71 548.70,217.35 549.08,217.95 549.46,218.53 549.85,219.08 550.23,219.61 550.61,220.11 550.99,220.59 551.38,221.05 551.76,221.48 552.14,221.90 552.53,222.30 552.91,222.67 553.29,223.03 553.67,223.38 554.06,223.70 554.44,224.01 554.82,224.31 555.21,224.59 555.59,224.86 555.97,225.11 556.35,225.35 556.74,225.58 557.12,225.80 557.50,226.01 557.88,226.21 558.27,226.40 558.65,226.58 559.03,226.75 559.42,226.91 559.80,227.06 560.18,227.21 560.56,227.34 560.95,227.48 561.33,227.60 561.71,227.72 562.10,227.83 562.48,227.94 562.86,228.04 563.24,228.14 563.63,228.23 564.01,228.31 564.39,228.40 564.78,228.47 565.16,228.55 565.54,228.62 565.92,228.68 566.31,228.75 566.69,228.81 567.07,228.87 567.45,228.92 567.84,228.97 568.22,229.02 568.60,229.07 568.99,229.11 569.37,229.15 569.75,229.19 570.13,229.23 570.52,229.26 570.90,229.30 571.28,229.33 571.67,229.36 572.05,229.39 572.43,229.41 572.81,229.44 573.20,229.47 573.58,229.49 573.96,229.51 574.35,229.53 574.73,229.55 575.11,229.57 575.49,229.59 575.88,229.60 576.26,229.62 576.64,229.64 577.02,229.65 577.41,229.66 577.79,229.68 578.17,229.69 578.56,229.70 578.94,229.71 579.32,229.72 579.70,229.73 580.09,229.74 580.47,229.75 590.04,229.87 599.61,229.90 609.18,229.91 618.75,229.91 628.32,229.91 637.89,229.91 647.46,229.91 657.03,229.91 666.60,229.91" fill="none" stroke="#7a347a" stroke-width="1.85" stroke-linejoin="round" stroke-linecap="butt"/>
<polyline points="379.50,63.89 389.07,63.89 398.64,63.89 408.21,63.89 417.78,63.89 427.35,63.89 436.92,63.90 446.49,63.93 456.06,64.05 465.63,64.45 466.01,64.48 466.40,64.51 466.78,64.54 467.16,64.58 467.54,64.61 467.93,64.65 468.31,64.69 468.69,64.73 469.08,64.77 469.46,64.82 469.84,64.86 470.22,64.91 470.61,64.97 470.99,65.02 471.37,65.08 471.75,65.14 472.14,65.20 472.52,65.27 472.90,65.34 473.29,65.41 473.67,65.49 474.05,65.57 474.43,65.66 474.82,65.75 475.20,65.84 475.58,65.94 475.97,66.05 476.35,66.16 476.73,66.27 477.11,66.39 477.50,66.52 477.88,66.65 478.26,66.79 478.65,66.94 479.03,67.09 479.41,67.25 479.79,67.42 480.18,67.60 480.56,67.78 480.94,67.98 481.32,68.18 481.71,68.40 482.09,68.62 482.47,68.86 482.86,69.11 483.24,69.36 483.62,69.64 484.00,69.92 484.39,70.22 484.77,70.53 485.15,70.86 485.54,71.20 485.92,71.56 486.30,71.93 486.68,72.32 487.07,72.73 487.45,73.16 487.83,73.61 488.22,74.08 488.60,74.57 488.98,75.08 489.36,75.61 489.75,76.17 490.13,76.75 490.51,77.36 490.89,77.99 491.28,78.65 491.66,79.34 492.04,80.05 492.43,80.80 492.81,81.57 493.19,82.38 493.57,83.22 493.96,84.09 494.34,84.99 494.72,85.93 495.11,86.91 495.49,87.92 495.87,88.96 496.25,90.05 496.64,91.17 497.02,92.33 497.40,93.53 497.79,94.77 498.17,96.05 498.55,97.36 498.93,98.72 499.32,100.12 499.70,101.56 500.08,103.03 500.46,104.55 500.85,106.11 501.23,107.70 501.61,109.33 502.00,111.00 502.38,112.71 502.76,114.45 503.14,116.23 503.53,118.04 503.91,119.88 504.29,121.75 504.68,123.65 505.06,125.58 505.44,127.53 505.82,129.51 506.21,131.50 506.59,133.52 506.97,135.55 507.36,137.59 507.74,139.65 508.12,141.71 508.50,143.79 508.89,145.86 509.27,147.91" fill="none" stroke="#1db184" stroke-width="1.85" stroke-linejoin="round" stroke-linecap="round"/>
<polyline points="508.89,145.86 509.27,147.91 509.65,149.93 510.03,151.95 510.42,153.97 510.80,155.97 511.18,157.97 511.57,159.95 511.95,161.91 512.33,163.86 512.71,165.79 513.10,167.70 513.48,169.58 513.86,171.44 514.25,173.28 514.63,175.08 515.01,176.86 515.39,178.60 515.78,180.31 516.16,181.99 516.54,183.64 516.93,185.25 517.31,186.82 517.69,188.36 518.07,189.86 518.46,191.32 518.84,192.75 519.22,194.14 519.60,195.49 519.99,196.80 520.37,198.07 520.75,199.31 521.14,200.51 521.52,201.67 521.90,202.79 522.28,203.88 522.67,204.93 523.05,205.95 523.43,206.93 523.82,207.88 524.20,208.80 524.58,209.68 524.96,210.53 525.35,211.35 525.73,212.14 526.11,212.90 526.50,213.63 526.88,214.33 527.26,215.01 527.64,215.65 528.03,216.28 528.41,216.87 528.79,217.45 529.17,218.00 529.56,218.53 529.94,219.03 530.32,219.52 530.71,219.98 531.09,220.43 531.47,220.86 531.85,221.27 532.24,221.66 532.62,222.03 533.00,222.39 533.39,222.73 533.77,223.06 534.15,223.37 534.53,223.67 534.92,223.96 535.30,224.23 535.68,224.49 536.07,224.74 536.45,224.98 536.83,225.21 537.21,225.43 537.60,225.64 537.98,225.84 538.36,226.02 538.74,226.21 539.13,226.38 539.51,226.54 539.89,226.70 540.28,226.85 540.66,226.99 541.04,227.13 541.42,227.26 541.81,227.39 542.19,227.50 542.57,227.62 542.96,227.72 543.34,227.83 543.72,227.93 544.10,228.02 544.49,228.11 544.87,228.19 545.25,228.27 545.64,228.35 546.02,228.43 546.40,228.50 546.78,228.56 547.17,228.63 547.55,228.69 547.93,228.75 548.31,228.80 548.70,228.85 549.08,228.90 549.46,228.95 549.85,229.00 550.23,229.04 550.61,229.08 550.99,229.12 551.38,229.16 551.76,229.19 552.14,229.23 552.53,229.26 552.91,229.29 553.29,229.32 553.67,229.35 554.06,229.38 554.44,229.40 554.82,229.43 555.21,229.45 555.59,229.47 555.97,229.49 556.35,229.51 556.74,229.53 557.12,229.55 557.50,229.57 557.88,229.58 558.27,229.60 558.65,229.61 559.03,229.63 559.42,229.64 559.80,229.66 560.18,229.67 560.56,229.68 560.95,229.69 561.33,229.70 561.71,229.71 562.10,229.72 562.48,229.73 562.86,229.74 563.24,229.75 563.63,229.76 564.01,229.76 564.39,229.77 564.78,229.78 565.16,229.78 565.54,229.79 565.92,229.80 566.31,229.80 566.69,229.81 567.07,229.81 567.45,229.82 567.84,229.82 568.22,229.83 568.60,229.83 568.99,229.83 569.37,229.84 569.75,229.84 570.13,229.84 570.52,229.85 570.90,229.85 571.28,229.85 571.67,229.86 572.05,229.86 572.43,229.86 572.81,229.86 573.20,229.87 573.58,229.87 573.96,229.87 574.35,229.87 574.73,229.88 575.11,229.88 575.49,229.88 575.88,229.88 576.26,229.88 576.64,229.88 577.02,229.89 577.41,229.89 577.79,229.89 578.17,229.89 578.56,229.89 578.94,229.89 579.32,229.89 579.70,229.89 580.09,229.89 580.47,229.90 590.04,229.91 599.61,229.91 609.18,229.91 618.75,229.91 628.32,229.91 637.89,229.91 647.46,229.91 657.03,229.91 666.60,229.91" fill="none" stroke="#2a9a74" stroke-width="1.85" stroke-linejoin="round" stroke-linecap="butt"/>
<polyline points="379.50,63.89 389.07,63.89 398.64,63.89 408.21,63.89 417.78,63.89 427.35,63.89 436.92,63.91 446.49,63.97 456.06,64.16 465.63,64.84 466.01,64.89 466.40,64.94 466.78,65.00 467.16,65.05 467.54,65.11 467.93,65.17 468.31,65.24 468.69,65.31 469.08,65.38 469.46,65.45 469.84,65.53 470.22,65.62 470.61,65.70 470.99,65.79 471.37,65.89 471.75,65.99 472.14,66.10 472.52,66.21 472.90,66.32 473.29,66.45 473.67,66.57 474.05,66.71 474.43,66.85 474.82,67.00 475.20,67.15 475.58,67.32 475.97,67.49 476.35,67.66 476.73,67.85 477.11,68.05 477.50,68.26 477.88,68.47 478.26,68.70 478.65,68.93 479.03,69.18 479.41,69.44 479.79,69.72 480.18,70.00 480.56,70.30 480.94,70.61 481.32,70.94 481.71,71.28 482.09,71.64 482.47,72.02 482.86,72.41 483.24,72.82 483.62,73.25 484.00,73.70 484.39,74.17 484.77,74.65 485.15,75.16 485.54,75.70 485.92,76.25 486.30,76.83 486.68,77.44 487.07,78.07 487.45,78.72 487.83,79.41 488.22,80.12 488.60,80.86 488.98,81.63 489.36,82.43 489.75,83.27 490.13,84.13 490.51,85.03 490.89,85.96 491.28,86.93 491.66,87.93 492.04,88.97 492.43,90.05 492.81,91.16 493.19,92.31 493.57,93.49 493.96,94.72 494.34,95.98 494.72,97.29 495.11,98.63 495.49,100.01 495.87,101.44 496.25,102.90 496.64,104.40 497.02,105.93 497.40,107.51 497.79,109.13 498.17,110.78 498.55,112.46 498.93,114.18 499.32,115.94 499.70,117.73 500.08,119.55 500.46,121.40 500.85,123.28 501.23,125.18 501.61,127.11 502.00,129.07 502.38,131.04 502.76,133.03 503.14,135.04 503.53,137.06 503.91,139.10 504.29,141.14 504.68,143.20 505.06,145.25 505.44,147.30" fill="none" stroke="#b41c24" stroke-width="1.85" stroke-linejoin="round" stroke-linecap="round"/>
<polyline points="505.06,145.25 505.44,147.30 505.82,149.32 506.21,151.33 506.59,153.34 506.97,155.34 507.36,157.33 507.74,159.31 508.12,161.28 508.50,163.23 508.89,165.16 509.27,167.06 509.65,168.95 510.03,170.81 510.42,172.65 510.80,174.46 511.18,176.24 511.57,177.99 511.95,179.71 512.33,181.39 512.71,183.05 513.10,184.66 513.48,186.25 513.86,187.79 514.25,189.30 514.63,190.77 515.01,192.21 515.39,193.61 515.78,194.97 516.16,196.29 516.54,197.57 516.93,198.82 517.31,200.03 517.69,201.20 518.07,202.34 518.46,203.44 518.84,204.50 519.22,205.53 519.60,206.52 519.99,207.48 520.37,208.41 520.75,209.30 521.14,210.16 521.52,210.99 521.90,211.79 522.28,212.56 522.67,213.30 523.05,214.02 523.43,214.70 523.82,215.36 524.20,215.99 524.58,216.60 524.96,217.18 525.35,217.74 525.73,218.28 526.11,218.79 526.50,219.29 526.88,219.76 527.26,220.22 527.64,220.65 528.03,221.07 528.41,221.46 528.79,221.85 529.17,222.21 529.56,222.56 529.94,222.89 530.32,223.21 530.71,223.52 531.09,223.81 531.47,224.09 531.85,224.36 532.24,224.61 532.62,224.86 533.00,225.09 533.39,225.31 533.77,225.52 534.15,225.73 534.53,225.92 534.92,226.11 535.30,226.28 535.68,226.45 536.07,226.61 536.45,226.77 536.83,226.91 537.21,227.05 537.60,227.19 537.98,227.31 538.36,227.44 538.74,227.55 539.13,227.66 539.51,227.77 539.89,227.87 540.28,227.96 540.66,228.06 541.04,228.14 541.42,228.23 541.81,228.31 542.19,228.38 542.57,228.45 542.96,228.52 543.34,228.59 543.72,228.65 544.10,228.71 544.49,228.77 544.87,228.82 545.25,228.87 545.64,228.92 546.02,228.97 546.40,229.01 546.78,229.05 547.17,229.10 547.55,229.13 547.93,229.17 548.31,229.21 548.70,229.24 549.08,229.27 549.46,229.30 549.85,229.33 550.23,229.36 550.61,229.38 550.99,229.41 551.38,229.43 551.76,229.46 552.14,229.48 552.53,229.50 552.91,229.52 553.29,229.54 553.67,229.55 554.06,229.57 554.44,229.59 554.82,229.60 555.21,229.62 555.59,229.63 555.97,229.65 556.35,229.66 556.74,229.67 557.12,229.68 557.50,229.69 557.88,229.70 558.27,229.71 558.65,229.72 559.03,229.73 559.42,229.74 559.80,229.75 560.18,229.76 560.56,229.76 560.95,229.77 561.33,229.78 561.71,229.78 562.10,229.79 562.48,229.80 562.86,229.80 563.24,229.81 563.63,229.81 564.01,229.82 564.39,229.82 564.78,229.83 565.16,229.83 565.54,229.83 565.92,229.84 566.31,229.84 566.69,229.85 567.07,229.85 567.45,229.85 567.84,229.85 568.22,229.86 568.60,229.86 568.99,229.86 569.37,229.87 569.75,229.87 570.13,229.87 570.52,229.87 570.90,229.87 571.28,229.88 571.67,229.88 572.05,229.88 572.43,229.88 572.81,229.88 573.20,229.88 573.58,229.89 573.96,229.89 574.35,229.89 574.73,229.89 575.11,229.89 575.49,229.89 575.88,229.89 576.26,229.89 576.64,229.89 577.02,229.90 577.41,229.90 577.79,229.90 578.17,229.90 578.56,229.90 578.94,229.90 579.32,229.90 579.70,229.90 580.09,229.90 580.47,229.90 590.04,229.91 599.61,229.91 609.18,229.91 618.75,229.91 628.32,229.91 637.89,229.91 647.46,229.91 657.03,229.91 666.60,229.91" fill="none" stroke="#b41c24" stroke-width="1.85" stroke-linejoin="round" stroke-linecap="butt"/>
<rect x="145" y="283" width="335" height="333.5" fill="#fef4e9"/>
<rect x="167.70" y="291.30" width="147.80" height="305.50" fill="#38e5cd"/>
<rect x="315.50" y="291.30" width="8.20" height="305.50" fill="#e08f22"/>
<rect x="323.70" y="291.30" width="5.90" height="305.50" fill="#d65533"/>
<rect x="329.60" y="291.30" width="5.90" height="305.50" fill="#92136f"/>
<rect x="335.50" y="291.30" width="8.95" height="305.50" fill="#ad2c82"/>
<rect x="344.45" y="291.30" width="128.88" height="305.50" fill="#ff7f7f"/>
<line x1="315.50" y1="291.30" x2="315.50" y2="596.80" stroke="#1a0a10" stroke-opacity="0.6" stroke-width="1.1"/>
<line x1="323.70" y1="291.30" x2="323.70" y2="596.80" stroke="#1a0a10" stroke-opacity="0.6" stroke-width="1.1"/>
<line x1="329.60" y1="291.30" x2="329.60" y2="596.80" stroke="#1a0a10" stroke-opacity="0.6" stroke-width="1.1"/>
<line x1="335.50" y1="291.30" x2="335.50" y2="596.80" stroke="#1a0a10" stroke-opacity="0.6" stroke-width="1.1"/>
<line x1="344.45" y1="291.30" x2="344.45" y2="596.80" stroke="#1a0a10" stroke-opacity="0.6" stroke-width="1.1"/>
<line x1="161.50" y1="284.50" x2="480.20" y2="284.50" stroke="#777" stroke-width="1.0"/>
<line x1="161.50" y1="284.50" x2="161.50" y2="603.50" stroke="#777" stroke-width="1.0"/>
<line x1="161.50" y1="603.50" x2="480.20" y2="603.50" stroke="#777" stroke-width="1.0"/>
<line x1="167.70" y1="603.50" x2="167.70" y2="601.30" stroke="#777" stroke-width="0.7"/>
<line x1="167.70" y1="284.50" x2="167.70" y2="286.70" stroke="#777" stroke-width="0.7"/>
<line x1="177.89" y1="603.50" x2="177.89" y2="601.30" stroke="#777" stroke-width="0.7"/>
<line x1="177.89" y1="284.50" x2="177.89" y2="286.70" stroke="#777" stroke-width="0.7"/>
<line x1="188.07" y1="603.50" x2="188.07" y2="599.50" stroke="#777" stroke-width="0.7"/>
<line x1="188.07" y1="284.50" x2="188.07" y2="288.50" stroke="#777" stroke-width="0.7"/>
<line x1="198.26" y1="603.50" x2="198.26" y2="601.30" stroke="#777" stroke-width="0.7"/>
<line x1="198.26" y1="284.50" x2="198.26" y2="286.70" stroke="#777" stroke-width="0.7"/>
<line x1="208.45" y1="603.50" x2="208.45" y2="601.30" stroke="#777" stroke-width="0.7"/>
<line x1="208.45" y1="284.50" x2="208.45" y2="286.70" stroke="#777" stroke-width="0.7"/>
<line x1="218.64" y1="603.50" x2="218.64" y2="601.30" stroke="#777" stroke-width="0.7"/>
<line x1="218.64" y1="284.50" x2="218.64" y2="286.70" stroke="#777" stroke-width="0.7"/>
<line x1="228.82" y1="603.50" x2="228.82" y2="599.50" stroke="#777" stroke-width="0.7"/>
<line x1="228.82" y1="284.50" x2="228.82" y2="288.50" stroke="#777" stroke-width="0.7"/>
<line x1="239.01" y1="603.50" x2="239.01" y2="601.30" stroke="#777" stroke-width="0.7"/>
<line x1="239.01" y1="284.50" x2="239.01" y2="286.70" stroke="#777" stroke-width="0.7"/>
<line x1="249.20" y1="603.50" x2="249.20" y2="601.30" stroke="#777" stroke-width="0.7"/>
<line x1="249.20" y1="284.50" x2="249.20" y2="286.70" stroke="#777" stroke-width="0.7"/>
<line x1="259.39" y1="603.50" x2="259.39" y2="601.30" stroke="#777" stroke-width="0.7"/>
<line x1="259.39" y1="284.50" x2="259.39" y2="286.70" stroke="#777" stroke-width="0.7"/>
<line x1="269.57" y1="603.50" x2="269.57" y2="599.50" stroke="#777" stroke-width="0.7"/>
<line x1="269.57" y1="284.50" x2="269.57" y2="288.50" stroke="#777" stroke-width="0.7"/>
<line x1="279.76" y1="603.50" x2="279.76" y2="601.30" stroke="#777" stroke-width="0.7"/>
<line x1="279.76" y1="284.50" x2="279.76" y2="286.70" stroke="#777" stroke-width="0.7"/>
<line x1="289.95" y1="603.50" x2="289.95" y2="601.30" stroke="#777" stroke-width="0.7"/>
<line x1="289.95" y1="284.50" x2="289.95" y2="286.70" stroke="#777" stroke-width="0.7"/>
<line x1="300.14" y1="603.50" x2="300.14" y2="601.30" stroke="#777" stroke-width="0.7"/>
<line x1="300.14" y1="284.50" x2="300.14" y2="286.70" stroke="#777" stroke-width="0.7"/>
<line x1="310.32" y1="603.50" x2="310.32" y2="599.50" stroke="#777" stroke-width="0.7"/>
<line x1="310.32" y1="284.50" x2="310.32" y2="288.50" stroke="#777" stroke-width="0.7"/>
<line x1="320.51" y1="603.50" x2="320.51" y2="601.30" stroke="#777" stroke-width="0.7"/>
<line x1="320.51" y1="284.50" x2="320.51" y2="286.70" stroke="#777" stroke-width="0.7"/>
<line x1="330.70" y1="603.50" x2="330.70" y2="601.30" stroke="#777" stroke-width="0.7"/>
<line x1="330.70" y1="284.50" x2="330.70" y2="286.70" stroke="#777" stroke-width="0.7"/>
<line x1="340.89" y1="603.50" x2="340.89" y2="601.30" stroke="#777" stroke-width="0.7"/>
<line x1="340.89" y1="284.50" x2="340.89" y2="286.70" stroke="#777" stroke-width="0.7"/>
<line x1="351.07" y1="603.50" x2="351.07" y2="599.50" stroke="#777" stroke-width="0.7"/>
<line x1="351.07" y1="284.50" x2="351.07" y2="288.50" stroke="#777" stroke-width="0.7"/>
<line x1="361.26" y1="603.50" x2="361.26" y2="601.30" stroke="#777" stroke-width="0.7"/>
<line x1="361.26" y1="284.50" x2="361.26" y2="286.70" stroke="#777" stroke-width="0.7"/>
<line x1="371.45" y1="603.50" x2="371.45" y2="601.30" stroke="#777" stroke-width="0.7"/>
<line x1="371.45" y1="284.50" x2="371.45" y2="286.70" stroke="#777" stroke-width="0.7"/>
<line x1="381.64" y1="603.50" x2="381.64" y2="601.30" stroke="#777" stroke-width="0.7"/>
<line x1="381.64" y1="284.50" x2="381.64" y2="286.70" stroke="#777" stroke-width="0.7"/>
<line x1="391.82" y1="603.50" x2="391.82" y2="599.50" stroke="#777" stroke-width="0.7"/>
<line x1="391.82" y1="284.50" x2="391.82" y2="288.50" stroke="#777" stroke-width="0.7"/>
<line x1="402.01" y1="603.50" x2="402.01" y2="601.30" stroke="#777" stroke-width="0.7"/>
<line x1="402.01" y1="284.50" x2="402.01" y2="286.70" stroke="#777" stroke-width="0.7"/>
<line x1="412.20" y1="603.50" x2="412.20" y2="601.30" stroke="#777" stroke-width="0.7"/>
<line x1="412.20" y1="284.50" x2="412.20" y2="286.70" stroke="#777" stroke-width="0.7"/>
<line x1="422.39" y1="603.50" x2="422.39" y2="601.30" stroke="#777" stroke-width="0.7"/>
<line x1="422.39" y1="284.50" x2="422.39" y2="286.70" stroke="#777" stroke-width="0.7"/>
<line x1="432.57" y1="603.50" x2="432.57" y2="599.50" stroke="#777" stroke-width="0.7"/>
<line x1="432.57" y1="284.50" x2="432.57" y2="288.50" stroke="#777" stroke-width="0.7"/>
<line x1="442.76" y1="603.50" x2="442.76" y2="601.30" stroke="#777" stroke-width="0.7"/>
<line x1="442.76" y1="284.50" x2="442.76" y2="286.70" stroke="#777" stroke-width="0.7"/>
<line x1="452.95" y1="603.50" x2="452.95" y2="601.30" stroke="#777" stroke-width="0.7"/>
<line x1="452.95" y1="284.50" x2="452.95" y2="286.70" stroke="#777" stroke-width="0.7"/>
<line x1="463.14" y1="603.50" x2="463.14" y2="601.30" stroke="#777" stroke-width="0.7"/>
<line x1="463.14" y1="284.50" x2="463.14" y2="286.70" stroke="#777" stroke-width="0.7"/>
<line x1="473.32" y1="603.50" x2="473.32" y2="599.50" stroke="#777" stroke-width="0.7"/>
<line x1="473.32" y1="284.50" x2="473.32" y2="288.50" stroke="#777" stroke-width="0.7"/>
<line x1="161.50" y1="596.60" x2="165.50" y2="596.60" stroke="#777" stroke-width="0.7"/>
<line x1="480.00" y1="596.60" x2="476.00" y2="596.60" stroke="#777" stroke-width="0.7"/>
<line x1="161.50" y1="581.30" x2="163.70" y2="581.30" stroke="#777" stroke-width="0.7"/>
<line x1="480.00" y1="581.30" x2="477.80" y2="581.30" stroke="#777" stroke-width="0.7"/>
<line x1="161.50" y1="566.00" x2="163.70" y2="566.00" stroke="#777" stroke-width="0.7"/>
<line x1="480.00" y1="566.00" x2="477.80" y2="566.00" stroke="#777" stroke-width="0.7"/>
<line x1="161.50" y1="550.70" x2="163.70" y2="550.70" stroke="#777" stroke-width="0.7"/>
<line x1="480.00" y1="550.70" x2="477.80" y2="550.70" stroke="#777" stroke-width="0.7"/>
<line x1="161.50" y1="535.40" x2="165.50" y2="535.40" stroke="#777" stroke-width="0.7"/>
<line x1="480.00" y1="535.40" x2="476.00" y2="535.40" stroke="#777" stroke-width="0.7"/>
<line x1="161.50" y1="520.10" x2="163.70" y2="520.10" stroke="#777" stroke-width="0.7"/>
<line x1="480.00" y1="520.10" x2="477.80" y2="520.10" stroke="#777" stroke-width="0.7"/>
<line x1="161.50" y1="504.80" x2="163.70" y2="504.80" stroke="#777" stroke-width="0.7"/>
<line x1="480.00" y1="504.80" x2="477.80" y2="504.80" stroke="#777" stroke-width="0.7"/>
<line x1="161.50" y1="489.50" x2="163.70" y2="489.50" stroke="#777" stroke-width="0.7"/>
<line x1="480.00" y1="489.50" x2="477.80" y2="489.50" stroke="#777" stroke-width="0.7"/>
<line x1="161.50" y1="474.20" x2="165.50" y2="474.20" stroke="#777" stroke-width="0.7"/>
<line x1="480.00" y1="474.20" x2="476.00" y2="474.20" stroke="#777" stroke-width="0.7"/>
<line x1="161.50" y1="458.90" x2="163.70" y2="458.90" stroke="#777" stroke-width="0.7"/>
<line x1="480.00" y1="458.90" x2="477.80" y2="458.90" stroke="#777" stroke-width="0.7"/>
<line x1="161.50" y1="443.60" x2="163.70" y2="443.60" stroke="#777" stroke-width="0.7"/>
<line x1="480.00" y1="443.60" x2="477.80" y2="443.60" stroke="#777" stroke-width="0.7"/>
<line x1="161.50" y1="428.30" x2="163.70" y2="428.30" stroke="#777" stroke-width="0.7"/>
<line x1="480.00" y1="428.30" x2="477.80" y2="428.30" stroke="#777" stroke-width="0.7"/>
<line x1="161.50" y1="413.00" x2="165.50" y2="413.00" stroke="#777" stroke-width="0.7"/>
<line x1="480.00" y1="413.00" x2="476.00" y2="413.00" stroke="#777" stroke-width="0.7"/>
<line x1="161.50" y1="397.70" x2="163.70" y2="397.70" stroke="#777" stroke-width="0.7"/>
<line x1="480.00" y1="397.70" x2="477.80" y2="397.70" stroke="#777" stroke-width="0.7"/>
<line x1="161.50" y1="382.40" x2="163.70" y2="382.40" stroke="#777" stroke-width="0.7"/>
<line x1="480.00" y1="382.40" x2="477.80" y2="382.40" stroke="#777" stroke-width="0.7"/>
<line x1="161.50" y1="367.10" x2="163.70" y2="367.10" stroke="#777" stroke-width="0.7"/>
<line x1="480.00" y1="367.10" x2="477.80" y2="367.10" stroke="#777" stroke-width="0.7"/>
<line x1="161.50" y1="351.80" x2="165.50" y2="351.80" stroke="#777" stroke-width="0.7"/>
<line x1="480.00" y1="351.80" x2="476.00" y2="351.80" stroke="#777" stroke-width="0.7"/>
<line x1="161.50" y1="336.50" x2="163.70" y2="336.50" stroke="#777" stroke-width="0.7"/>
<line x1="480.00" y1="336.50" x2="477.80" y2="336.50" stroke="#777" stroke-width="0.7"/>
<line x1="161.50" y1="321.20" x2="163.70" y2="321.20" stroke="#777" stroke-width="0.7"/>
<line x1="480.00" y1="321.20" x2="477.80" y2="321.20" stroke="#777" stroke-width="0.7"/>
<line x1="161.50" y1="305.90" x2="163.70" y2="305.90" stroke="#777" stroke-width="0.7"/>
<line x1="480.00" y1="305.90" x2="477.80" y2="305.90" stroke="#777" stroke-width="0.7"/>
<line x1="161.50" y1="290.60" x2="165.50" y2="290.60" stroke="#777" stroke-width="0.7"/>
<line x1="480.00" y1="290.60" x2="476.00" y2="290.60" stroke="#777" stroke-width="0.7"/>
<text x="186.07" y="614.30" font-size="9" text-anchor="middle" fill="#555" font-family="Liberation Sans, sans-serif" >−4</text>
<text x="226.82" y="614.30" font-size="9" text-anchor="middle" fill="#555" font-family="Liberation Sans, sans-serif" >−2</text>
<text x="269.57" y="614.30" font-size="9" text-anchor="middle" fill="#555" font-family="Liberation Sans, sans-serif" >0</text>
<text x="310.32" y="614.30" font-size="9" text-anchor="middle" fill="#555" font-family="Liberation Sans, sans-serif" >2</text>
<text x="351.07" y="614.30" font-size="9" text-anchor="middle" fill="#555" font-family="Liberation Sans, sans-serif" >4</text>
<text x="391.82" y="614.30" font-size="9" text-anchor="middle" fill="#555" font-family="Liberation Sans, sans-serif" >6</text>
<text x="432.57" y="614.30" font-size="9" text-anchor="middle" fill="#555" font-family="Liberation Sans, sans-serif" >8</text>
<text x="473.32" y="614.30" font-size="9" text-anchor="middle" fill="#555" font-family="Liberation Sans, sans-serif" >10</text>
<text x="158.40" y="599.90" font-size="9" text-anchor="end" fill="#555" font-family="Liberation Sans, sans-serif" >0.0</text>
<text x="158.40" y="538.70" font-size="9" text-anchor="end" fill="#555" font-family="Liberation Sans, sans-serif" >0.2</text>
<text x="158.40" y="477.50" font-size="9" text-anchor="end" fill="#555" font-family="Liberation Sans, sans-serif" >0.4</text>
<text x="158.40" y="416.30" font-size="9" text-anchor="end" fill="#555" font-family="Liberation Sans, sans-serif" >0.6</text>
<text x="158.40" y="355.10" font-size="9" text-anchor="end" fill="#555" font-family="Liberation Sans, sans-serif" >0.8</text>
<text x="158.40" y="293.90" font-size="9" text-anchor="end" fill="#555" font-family="Liberation Sans, sans-serif" >1.0</text>
<text x="119.6" y="263.8" font-size="12" fill="#000" stroke="#000" stroke-width="0.2" font-family="Liberation Serif, serif">(a)</text><text x="138.4" y="263.8" font-size="12.3" fill="#000" stroke="#000" stroke-width="0.2" font-family="Liberation Serif, serif">3D surface</text>
<text x="493.0" y="263.8" font-size="12" fill="#000" stroke="#000" stroke-width="0.2" font-family="Liberation Serif, serif">(b)</text><text x="512.8" y="263.8" font-size="12.3" fill="#000" stroke="#000" stroke-width="0.2" font-family="Liberation Serif, serif">2D profile</text>
<text x="246.4" y="640.2" font-size="12" fill="#000" stroke="#000" stroke-width="0.2" font-family="Liberation Serif, serif">(c)</text><text x="264.9" y="640.2" font-size="12.45" fill="#000" stroke="#000" stroke-width="0.2" font-family="Liberation Serif, serif">Contour representation</text>
</svg>
</body></html>
